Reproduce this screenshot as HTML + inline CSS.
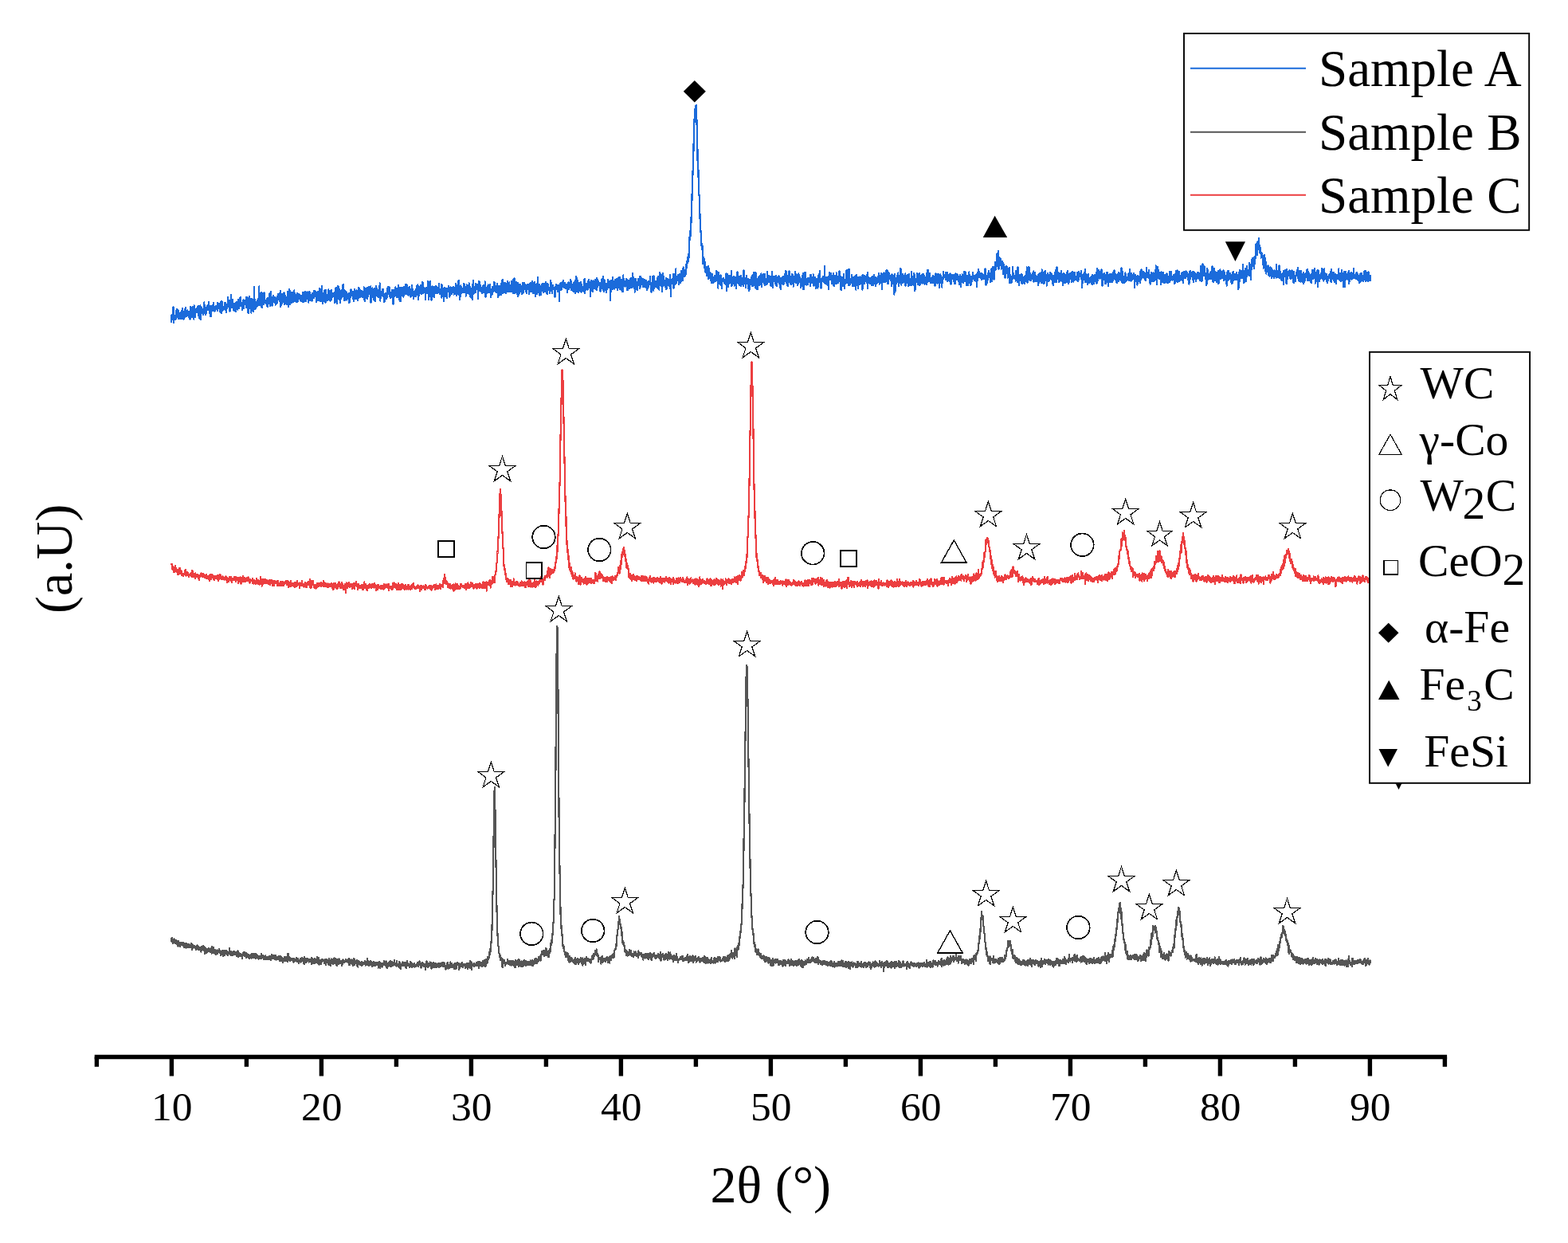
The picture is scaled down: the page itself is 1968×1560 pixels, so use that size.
<!DOCTYPE html>
<html lang="en"><head><meta charset="utf-8"><title>XRD patterns</title>
<style>
html,body{margin:0;padding:0;background:#fff;}
body{width:1968px;height:1560px;overflow:hidden;}
svg{display:block;}
text{font-family:"Liberation Serif",serif;fill:#000;}
</style></head><body>
<svg width="1968" height="1560" viewBox="0 0 1968 1560">
<rect width="1968" height="1560" fill="#fff"/>
<polyline id="curve-b" fill="none" stroke="#555555" stroke-width="2.2" stroke-linejoin="round" stroke-linecap="butt" shape-rendering="crispEdges" points="214.6,1180.1 214.9,1178.3 215.2,1180.8 215.6,1179.9 215.9,1176.8 216.2,1182.2 216.5,1180.0 216.8,1181.7 217.2,1184.4 217.5,1181.3 217.8,1178.8 218.1,1179.8 218.4,1183.4 218.8,1178.5 219.1,1182.2 219.4,1182.6 219.7,1179.7 220.0,1182.5 220.4,1184.0 220.7,1180.9 221.0,1181.7 221.3,1183.9 221.6,1180.4 222.0,1181.4 222.3,1185.2 222.6,1183.5 222.9,1180.6 223.2,1183.6 223.6,1187.6 223.9,1180.7 224.2,1185.5 224.5,1185.4 224.8,1183.6 225.2,1185.3 225.5,1182.8 225.8,1187.3 226.1,1187.7 226.4,1182.6 226.8,1184.0 227.1,1184.8 227.4,1183.4 227.7,1185.5 228.0,1182.7 228.4,1186.1 228.7,1184.4 229.0,1185.0 229.3,1186.1 229.6,1187.1 230.0,1183.4 230.3,1187.0 230.6,1187.3 230.9,1185.4 231.2,1188.8 231.6,1184.2 231.9,1184.7 232.2,1186.7 232.5,1184.6 232.8,1188.9 233.2,1186.6 233.5,1189.7 233.8,1184.2 234.1,1184.5 234.4,1189.2 234.8,1184.4 235.1,1188.8 235.4,1185.1 235.7,1187.3 236.0,1189.2 236.4,1186.8 236.7,1184.7 237.0,1185.6 237.3,1189.4 237.6,1187.6 238.0,1188.7 238.3,1187.5 238.6,1188.0 238.9,1187.1 239.2,1185.5 239.6,1188.7 239.9,1188.1 240.2,1183.8 240.5,1187.9 240.8,1190.9 241.2,1191.9 241.5,1185.3 241.8,1188.4 242.1,1189.4 242.4,1189.8 242.8,1187.0 243.1,1189.5 243.4,1187.7 243.7,1188.5 244.0,1187.0 244.4,1189.4 244.7,1188.0 245.0,1189.5 245.3,1188.8 245.6,1190.9 246.0,1192.5 246.3,1189.0 246.6,1187.7 246.9,1188.8 247.2,1188.3 247.6,1186.1 247.9,1189.6 248.2,1188.6 248.5,1191.5 248.8,1189.5 249.2,1191.7 249.5,1192.2 249.8,1188.4 250.1,1189.4 250.4,1189.0 250.8,1189.2 251.1,1191.9 251.4,1189.3 251.7,1189.5 252.0,1188.8 252.4,1194.8 252.7,1189.9 253.0,1190.4 253.3,1188.1 253.6,1191.3 254.0,1189.3 254.3,1189.6 254.6,1186.9 254.9,1187.7 255.2,1191.5 255.6,1192.7 255.9,1187.9 256.2,1191.7 256.5,1191.8 256.8,1197.3 257.2,1189.5 257.5,1190.2 257.8,1189.5 258.1,1193.4 258.4,1193.9 258.8,1191.3 259.1,1195.0 259.4,1196.2 259.7,1191.1 260.0,1193.2 260.4,1191.8 260.7,1190.9 261.0,1190.8 261.3,1191.8 261.6,1189.8 262.0,1192.3 262.3,1194.1 262.6,1190.6 262.9,1191.6 263.2,1190.8 263.6,1193.9 263.9,1192.6 264.2,1194.7 264.5,1192.2 264.8,1189.9 265.2,1194.1 265.5,1192.4 265.8,1196.5 266.1,1194.6 266.4,1187.8 266.8,1189.2 267.1,1193.3 267.4,1191.8 267.7,1188.8 268.0,1192.3 268.4,1196.0 268.7,1194.8 269.0,1191.7 269.3,1194.1 269.6,1195.7 270.0,1193.3 270.3,1197.3 270.6,1192.3 270.9,1198.0 271.2,1196.9 271.6,1194.9 271.9,1194.4 272.2,1194.0 272.5,1192.1 272.8,1196.0 273.2,1196.7 273.5,1195.7 273.8,1194.7 274.1,1194.4 274.4,1192.4 274.8,1193.0 275.1,1191.4 275.4,1195.4 275.7,1192.6 276.0,1196.2 276.4,1193.2 276.7,1197.4 277.0,1199.4 277.3,1197.7 277.6,1197.0 278.0,1194.1 278.3,1194.1 278.6,1193.3 278.9,1195.5 279.2,1198.3 279.6,1192.7 279.9,1199.9 280.2,1193.9 280.5,1192.7 280.8,1195.8 281.2,1198.4 281.5,1194.5 281.8,1193.2 282.1,1198.8 282.4,1193.1 282.8,1197.4 283.1,1195.7 283.4,1194.7 283.7,1195.6 284.0,1193.3 284.4,1193.3 284.7,1196.2 285.0,1193.5 285.3,1194.1 285.6,1198.7 286.0,1199.4 286.3,1198.1 286.6,1197.7 286.9,1195.4 287.2,1196.1 287.6,1194.5 287.9,1190.3 288.2,1196.5 288.5,1196.6 288.8,1198.2 289.2,1193.8 289.5,1198.6 289.8,1195.2 290.1,1193.8 290.4,1195.8 290.8,1199.2 291.1,1196.4 291.4,1197.4 291.7,1194.7 292.0,1197.5 292.4,1198.6 292.7,1194.9 293.0,1197.5 293.3,1194.0 293.6,1197.5 294.0,1193.8 294.3,1197.7 294.6,1196.9 294.9,1194.7 295.2,1197.7 295.6,1195.0 295.9,1197.3 296.2,1195.3 296.5,1198.3 296.8,1196.1 297.2,1200.2 297.5,1198.2 297.8,1198.4 298.1,1194.7 298.4,1193.2 298.8,1195.9 299.1,1201.2 299.4,1195.7 299.7,1200.1 300.0,1200.2 300.4,1196.5 300.7,1197.3 301.0,1200.4 301.3,1197.3 301.6,1197.0 302.0,1196.7 302.3,1198.1 302.6,1197.8 302.9,1200.5 303.2,1198.6 303.6,1200.5 303.9,1198.0 304.2,1203.3 304.5,1198.0 304.8,1198.0 305.2,1196.7 305.5,1195.0 305.8,1196.7 306.1,1198.9 306.4,1196.5 306.8,1200.2 307.1,1195.3 307.4,1195.2 307.7,1199.3 308.0,1199.5 308.4,1196.5 308.7,1201.0 309.0,1201.7 309.3,1199.6 309.6,1196.3 310.0,1201.5 310.3,1198.4 310.6,1198.7 310.9,1200.1 311.2,1197.8 311.6,1202.3 311.9,1198.0 312.2,1201.4 312.5,1201.7 312.8,1203.0 313.2,1200.4 313.5,1201.2 313.8,1198.7 314.1,1199.1 314.4,1198.4 314.8,1201.2 315.1,1198.4 315.4,1202.8 315.7,1199.6 316.0,1197.4 316.4,1198.5 316.7,1202.3 317.0,1199.0 317.3,1201.2 317.6,1196.9 318.0,1201.0 318.3,1201.7 318.6,1201.2 318.9,1201.8 319.2,1198.3 319.6,1197.0 319.9,1197.7 320.2,1202.1 320.5,1201.2 320.8,1203.0 321.2,1199.4 321.5,1202.2 321.8,1197.5 322.1,1201.5 322.4,1198.6 322.8,1199.8 323.1,1202.1 323.4,1202.5 323.7,1200.5 324.0,1200.1 324.4,1203.6 324.7,1203.0 325.0,1199.6 325.3,1201.6 325.6,1200.6 326.0,1203.0 326.3,1202.0 326.6,1202.0 326.9,1201.3 327.2,1200.1 327.6,1203.4 327.9,1202.1 328.2,1196.6 328.5,1200.5 328.8,1201.9 329.2,1199.9 329.5,1199.5 329.8,1199.6 330.1,1202.1 330.4,1199.5 330.8,1202.2 331.1,1204.2 331.4,1203.4 331.7,1203.5 332.0,1201.1 332.4,1204.0 332.7,1201.6 333.0,1204.4 333.3,1199.4 333.6,1204.2 334.0,1200.5 334.3,1201.8 334.6,1203.9 334.9,1201.8 335.2,1200.8 335.6,1201.5 335.9,1204.0 336.2,1204.1 336.5,1203.2 336.8,1200.6 337.2,1201.1 337.5,1203.3 337.8,1203.5 338.1,1200.5 338.4,1200.0 338.8,1203.4 339.1,1204.2 339.4,1202.2 339.7,1199.7 340.0,1205.3 340.4,1202.2 340.7,1203.1 341.0,1197.8 341.3,1200.7 341.6,1201.8 342.0,1202.8 342.3,1200.4 342.6,1199.1 342.9,1198.9 343.2,1201.5 343.6,1202.8 343.9,1202.8 344.2,1198.8 344.5,1200.9 344.8,1202.1 345.2,1204.3 345.5,1203.5 345.8,1202.9 346.1,1199.0 346.4,1204.6 346.8,1202.2 347.1,1202.9 347.4,1201.1 347.7,1202.1 348.0,1201.8 348.4,1201.7 348.7,1200.8 349.0,1203.9 349.3,1204.4 349.6,1201.5 350.0,1201.0 350.3,1200.2 350.6,1201.8 350.9,1205.6 351.2,1202.5 351.6,1206.4 351.9,1200.3 352.2,1200.6 352.5,1201.3 352.8,1201.1 353.2,1203.5 353.5,1206.4 353.8,1201.5 354.1,1203.7 354.4,1205.7 354.8,1207.8 355.1,1203.5 355.4,1205.0 355.7,1205.8 356.0,1203.3 356.4,1204.3 356.7,1202.1 357.0,1201.4 357.3,1202.0 357.6,1205.6 358.0,1206.0 358.3,1203.8 358.6,1200.9 358.9,1205.8 359.2,1203.4 359.6,1206.4 359.9,1203.7 360.2,1201.2 360.5,1202.9 360.8,1202.2 361.2,1206.7 361.5,1196.8 361.8,1202.4 362.1,1203.0 362.4,1199.6 362.8,1204.5 363.1,1204.9 363.4,1205.4 363.7,1206.3 364.0,1203.6 364.4,1205.7 364.7,1202.5 365.0,1203.9 365.3,1204.3 365.6,1204.1 366.0,1205.0 366.3,1202.6 366.6,1203.7 366.9,1202.8 367.2,1204.2 367.6,1204.7 367.9,1202.6 368.2,1207.0 368.5,1208.0 368.8,1205.3 369.2,1204.4 369.5,1203.0 369.8,1203.9 370.1,1203.8 370.4,1205.7 370.8,1204.3 371.1,1205.8 371.4,1205.5 371.7,1203.4 372.0,1201.8 372.4,1202.1 372.7,1202.3 373.0,1204.4 373.3,1206.9 373.6,1202.7 374.0,1206.6 374.3,1204.1 374.6,1207.2 374.9,1209.2 375.2,1206.8 375.6,1205.4 375.9,1205.7 376.2,1207.4 376.5,1204.2 376.8,1203.3 377.2,1205.2 377.5,1208.1 377.8,1203.5 378.1,1207.2 378.4,1206.7 378.8,1204.5 379.1,1203.4 379.4,1201.7 379.7,1202.7 380.0,1205.4 380.4,1206.6 380.7,1203.8 381.0,1204.0 381.3,1203.6 381.6,1210.1 382.0,1201.1 382.3,1202.2 382.6,1207.3 382.9,1203.0 383.2,1207.3 383.6,1203.6 383.9,1207.3 384.2,1208.1 384.5,1204.4 384.8,1205.3 385.2,1203.4 385.5,1207.1 385.8,1204.8 386.1,1202.6 386.4,1206.3 386.8,1206.2 387.1,1205.4 387.4,1204.6 387.7,1207.5 388.0,1204.2 388.4,1203.8 388.7,1205.1 389.0,1206.7 389.3,1204.8 389.6,1204.4 390.0,1203.6 390.3,1204.1 390.6,1204.4 390.9,1209.8 391.2,1202.1 391.6,1204.8 391.9,1205.9 392.2,1204.0 392.5,1203.4 392.8,1207.0 393.2,1208.7 393.5,1208.1 393.8,1206.0 394.1,1205.1 394.4,1207.3 394.8,1202.7 395.1,1204.3 395.4,1209.0 395.7,1207.0 396.0,1206.4 396.4,1205.8 396.7,1205.4 397.0,1204.5 397.3,1207.4 397.6,1207.3 398.0,1207.3 398.3,1201.3 398.6,1208.9 398.9,1208.1 399.2,1209.5 399.6,1205.2 399.9,1202.0 400.2,1203.8 400.5,1204.6 400.8,1210.5 401.2,1204.9 401.5,1205.5 401.8,1208.5 402.1,1208.4 402.4,1208.5 402.8,1205.1 403.1,1210.4 403.4,1207.4 403.7,1204.0 404.0,1207.5 404.4,1203.8 404.7,1204.1 405.0,1205.3 405.3,1204.3 405.6,1205.7 406.0,1205.4 406.3,1205.8 406.6,1205.0 406.9,1209.1 407.2,1204.8 407.6,1205.7 407.9,1204.1 408.2,1205.6 408.5,1204.2 408.8,1211.2 409.2,1206.3 409.5,1208.6 409.8,1205.8 410.1,1204.3 410.4,1205.9 410.8,1205.6 411.1,1204.5 411.4,1207.2 411.7,1210.3 412.0,1207.4 412.4,1209.2 412.7,1209.7 413.0,1203.1 413.3,1211.0 413.6,1204.4 414.0,1210.9 414.3,1207.6 414.6,1208.4 414.9,1211.7 415.2,1209.3 415.6,1203.9 415.9,1203.5 416.2,1204.8 416.5,1209.3 416.8,1207.9 417.2,1209.1 417.5,1208.1 417.8,1209.7 418.1,1205.2 418.4,1203.5 418.8,1205.9 419.1,1209.0 419.4,1204.2 419.7,1202.5 420.0,1206.2 420.4,1208.7 420.7,1208.2 421.0,1206.7 421.3,1206.3 421.6,1203.1 422.0,1207.3 422.3,1211.2 422.6,1206.4 422.9,1212.3 423.2,1204.8 423.6,1206.5 423.9,1206.4 424.2,1207.3 424.5,1203.7 424.8,1209.8 425.2,1206.7 425.5,1202.9 425.8,1208.6 426.1,1207.6 426.4,1204.7 426.8,1207.1 427.1,1209.0 427.4,1208.8 427.7,1208.1 428.0,1206.1 428.4,1208.1 428.7,1210.2 429.0,1212.0 429.3,1208.9 429.6,1209.3 430.0,1209.7 430.3,1207.2 430.6,1204.2 430.9,1206.6 431.2,1207.3 431.6,1208.1 431.9,1207.6 432.2,1206.0 432.5,1206.3 432.8,1206.9 433.2,1205.5 433.5,1205.6 433.8,1203.7 434.1,1206.4 434.4,1207.4 434.8,1205.8 435.1,1206.5 435.4,1207.2 435.7,1204.8 436.0,1205.7 436.4,1205.2 436.7,1208.0 437.0,1204.8 437.3,1207.1 437.6,1203.0 438.0,1210.7 438.3,1208.3 438.6,1205.6 438.9,1207.1 439.2,1211.2 439.6,1207.6 439.9,1204.4 440.2,1207.4 440.5,1206.5 440.8,1208.6 441.2,1208.0 441.5,1204.4 441.8,1208.3 442.1,1209.8 442.4,1210.7 442.8,1208.6 443.1,1211.8 443.4,1211.0 443.7,1209.6 444.0,1211.3 444.4,1203.0 444.7,1210.7 445.0,1211.1 445.3,1207.8 445.6,1209.9 446.0,1206.9 446.3,1207.9 446.6,1207.9 446.9,1206.1 447.2,1207.8 447.6,1204.7 447.9,1208.0 448.2,1211.8 448.5,1212.2 448.8,1208.3 449.2,1213.6 449.5,1209.2 449.8,1205.8 450.1,1207.1 450.4,1208.3 450.8,1208.4 451.1,1209.8 451.4,1207.0 451.7,1207.6 452.0,1210.6 452.4,1208.8 452.7,1209.4 453.0,1208.5 453.3,1210.0 453.6,1210.2 454.0,1207.1 454.3,1212.1 454.6,1207.4 454.9,1209.4 455.2,1208.1 455.6,1210.8 455.9,1209.3 456.2,1209.9 456.5,1209.1 456.8,1208.6 457.2,1209.2 457.5,1208.8 457.8,1207.1 458.1,1205.7 458.4,1209.9 458.8,1211.5 459.1,1206.9 459.4,1209.9 459.7,1207.7 460.0,1209.3 460.4,1210.7 460.7,1209.7 461.0,1208.5 461.3,1203.0 461.6,1208.5 462.0,1208.9 462.3,1211.5 462.6,1207.6 462.9,1208.8 463.2,1209.4 463.6,1211.6 463.9,1206.6 464.2,1210.7 464.5,1208.9 464.8,1207.7 465.2,1206.3 465.5,1207.1 465.8,1210.8 466.1,1208.1 466.4,1207.2 466.8,1208.3 467.1,1213.2 467.4,1211.2 467.7,1210.9 468.0,1211.2 468.4,1210.8 468.7,1208.4 469.0,1207.0 469.3,1211.8 469.6,1209.0 470.0,1209.5 470.3,1208.4 470.6,1210.3 470.9,1212.1 471.2,1208.5 471.6,1209.7 471.9,1209.5 472.2,1210.7 472.5,1209.4 472.8,1209.5 473.2,1208.2 473.5,1209.5 473.8,1208.0 474.1,1211.0 474.4,1209.2 474.8,1214.5 475.1,1208.1 475.4,1207.5 475.7,1211.4 476.0,1210.9 476.4,1206.8 476.7,1214.9 477.0,1209.3 477.3,1211.9 477.6,1208.4 478.0,1211.0 478.3,1211.9 478.6,1208.7 478.9,1210.8 479.2,1211.5 479.6,1213.9 479.9,1211.8 480.2,1212.6 480.5,1211.0 480.8,1211.2 481.2,1211.0 481.5,1209.4 481.8,1206.1 482.1,1206.4 482.4,1210.6 482.8,1210.9 483.1,1210.0 483.4,1208.7 483.7,1208.9 484.0,1207.3 484.4,1212.3 484.7,1206.5 485.0,1213.2 485.3,1209.0 485.6,1215.1 486.0,1210.9 486.3,1209.3 486.6,1210.3 486.9,1209.0 487.2,1213.1 487.6,1209.9 487.9,1210.5 488.2,1208.2 488.5,1211.2 488.8,1207.0 489.2,1208.6 489.5,1212.6 489.8,1205.8 490.1,1210.6 490.4,1212.4 490.8,1210.3 491.1,1213.1 491.4,1212.6 491.7,1211.1 492.0,1206.9 492.4,1209.1 492.7,1209.4 493.0,1212.2 493.3,1209.9 493.6,1209.5 494.0,1207.5 494.3,1209.7 494.6,1210.6 494.9,1205.1 495.2,1210.0 495.6,1210.9 495.9,1209.2 496.2,1209.8 496.5,1209.0 496.8,1211.9 497.2,1209.0 497.5,1212.6 497.8,1210.9 498.1,1206.3 498.4,1209.6 498.8,1210.8 499.1,1211.9 499.4,1210.4 499.7,1210.0 500.0,1211.9 500.4,1213.5 500.7,1206.6 501.0,1209.0 501.3,1213.7 501.6,1210.9 502.0,1208.3 502.3,1213.8 502.6,1216.3 502.9,1209.9 503.2,1211.9 503.6,1210.4 503.9,1211.1 504.2,1212.4 504.5,1209.9 504.8,1210.1 505.2,1209.8 505.5,1206.9 505.8,1211.4 506.1,1212.1 506.4,1210.8 506.8,1210.5 507.1,1212.1 507.4,1209.0 507.7,1208.3 508.0,1211.4 508.4,1210.8 508.7,1214.0 509.0,1207.6 509.3,1210.4 509.6,1208.0 510.0,1214.8 510.3,1209.7 510.6,1212.1 510.9,1206.0 511.2,1208.6 511.6,1212.1 511.9,1209.2 512.2,1209.3 512.5,1211.9 512.8,1210.8 513.2,1210.8 513.5,1211.1 513.8,1209.6 514.1,1213.7 514.4,1212.7 514.8,1210.3 515.1,1209.4 515.4,1206.8 515.7,1208.3 516.0,1213.3 516.4,1208.2 516.7,1209.8 517.0,1214.1 517.3,1212.8 517.6,1211.4 518.0,1211.5 518.3,1210.0 518.6,1211.0 518.9,1210.8 519.2,1213.4 519.6,1212.3 519.9,1209.2 520.2,1213.6 520.5,1212.5 520.8,1213.0 521.2,1213.4 521.5,1212.4 521.8,1211.2 522.1,1213.5 522.4,1213.2 522.8,1210.4 523.1,1210.6 523.4,1211.4 523.7,1212.0 524.0,1210.8 524.4,1208.1 524.7,1213.3 525.0,1209.6 525.3,1208.6 525.6,1209.2 526.0,1211.0 526.3,1210.4 526.6,1206.2 526.9,1207.7 527.2,1207.6 527.6,1209.3 527.9,1211.1 528.2,1209.5 528.5,1214.8 528.8,1212.6 529.2,1213.8 529.5,1212.4 529.8,1208.3 530.1,1211.9 530.4,1207.9 530.8,1208.9 531.1,1211.4 531.4,1211.1 531.7,1212.3 532.0,1210.5 532.4,1213.2 532.7,1212.7 533.0,1211.8 533.3,1209.6 533.6,1209.9 534.0,1213.2 534.3,1216.8 534.6,1210.2 534.9,1211.5 535.2,1209.4 535.6,1206.2 535.9,1213.1 536.2,1211.5 536.5,1212.6 536.8,1209.9 537.2,1209.5 537.5,1214.2 537.8,1209.3 538.1,1213.3 538.4,1213.1 538.8,1211.1 539.1,1210.0 539.4,1211.6 539.7,1207.5 540.0,1210.6 540.4,1210.4 540.7,1208.2 541.0,1210.5 541.3,1212.9 541.6,1215.9 542.0,1208.9 542.3,1212.0 542.6,1212.0 542.9,1210.3 543.2,1210.0 543.6,1212.2 543.9,1212.7 544.2,1208.3 544.5,1214.3 544.8,1210.9 545.2,1211.4 545.5,1210.0 545.8,1213.7 546.1,1208.5 546.4,1210.2 546.8,1211.5 547.1,1209.3 547.4,1210.7 547.7,1212.2 548.0,1213.6 548.4,1210.8 548.7,1210.2 549.0,1212.7 549.3,1211.4 549.6,1209.1 550.0,1213.0 550.3,1210.6 550.6,1209.4 550.9,1214.2 551.2,1212.4 551.6,1209.6 551.9,1212.6 552.2,1209.8 552.5,1210.1 552.8,1209.2 553.2,1212.9 553.5,1210.9 553.8,1212.4 554.1,1208.5 554.4,1210.3 554.8,1207.7 555.1,1209.8 555.4,1210.3 555.7,1210.7 556.0,1208.0 556.4,1213.3 556.7,1207.8 557.0,1213.5 557.3,1210.8 557.6,1213.3 558.0,1209.0 558.3,1211.4 558.6,1212.8 558.9,1215.6 559.2,1212.0 559.6,1216.6 559.9,1212.3 560.2,1214.2 560.5,1211.3 560.8,1211.6 561.2,1213.3 561.5,1208.9 561.8,1208.1 562.1,1211.9 562.4,1215.9 562.8,1214.5 563.1,1212.0 563.4,1212.8 563.7,1212.0 564.0,1212.4 564.4,1214.5 564.7,1208.3 565.0,1208.1 565.3,1207.6 565.6,1209.8 566.0,1213.7 566.3,1211.5 566.6,1208.9 566.9,1210.3 567.2,1210.6 567.6,1213.7 567.9,1212.6 568.2,1212.4 568.5,1214.2 568.8,1212.8 569.2,1213.9 569.5,1210.0 569.8,1209.7 570.1,1210.9 570.4,1215.9 570.8,1209.3 571.1,1212.0 571.4,1212.7 571.7,1208.9 572.0,1209.1 572.4,1215.9 572.7,1211.3 573.0,1210.9 573.3,1212.4 573.6,1211.8 574.0,1208.6 574.3,1207.9 574.6,1211.1 574.9,1209.9 575.2,1211.4 575.6,1209.0 575.9,1216.8 576.2,1212.5 576.5,1215.7 576.8,1210.5 577.2,1211.3 577.5,1210.6 577.8,1211.8 578.1,1212.6 578.4,1210.6 578.8,1209.4 579.1,1210.2 579.4,1211.2 579.7,1213.3 580.0,1208.3 580.4,1209.2 580.7,1212.3 581.0,1214.3 581.3,1210.1 581.6,1212.0 582.0,1211.0 582.3,1210.8 582.6,1211.6 582.9,1210.2 583.2,1210.8 583.6,1210.6 583.9,1214.6 584.2,1211.2 584.5,1214.7 584.8,1211.0 585.2,1211.6 585.5,1209.5 585.8,1211.6 586.1,1214.1 586.4,1214.6 586.8,1208.9 587.1,1216.4 587.4,1211.8 587.7,1212.8 588.0,1213.2 588.4,1211.3 588.7,1209.3 589.0,1211.2 589.3,1210.4 589.6,1215.2 590.0,1211.2 590.3,1206.3 590.6,1213.9 590.9,1212.3 591.2,1211.0 591.6,1207.1 591.9,1216.9 592.2,1210.3 592.5,1210.3 592.8,1209.8 593.2,1211.3 593.5,1210.8 593.8,1211.6 594.1,1212.0 594.4,1211.0 594.8,1213.3 595.1,1208.7 595.4,1212.9 595.7,1211.7 596.0,1210.9 596.4,1212.4 596.7,1211.4 597.0,1211.3 597.3,1209.8 597.6,1208.9 598.0,1207.5 598.3,1208.0 598.6,1209.2 598.9,1212.3 599.2,1210.0 599.6,1210.8 599.9,1208.1 600.2,1207.1 600.5,1210.5 600.8,1215.4 601.2,1207.8 601.5,1213.1 601.8,1207.5 602.1,1207.4 602.4,1207.9 602.8,1208.0 603.1,1211.6 603.4,1210.1 603.7,1209.8 604.0,1208.3 604.4,1211.5 604.7,1213.4 605.0,1209.9 605.3,1208.4 605.6,1206.7 606.0,1208.3 606.3,1206.1 606.6,1211.8 606.9,1206.9 607.2,1212.4 607.6,1205.6 607.9,1210.2 608.2,1209.5 608.5,1209.7 608.8,1208.5 609.2,1205.1 609.5,1213.2 609.8,1203.8 610.1,1209.4 610.4,1205.9 610.8,1203.6 611.1,1208.7 611.4,1208.9 611.7,1207.5 612.0,1201.3 612.4,1201.3 612.7,1204.8 613.0,1203.8 613.3,1204.4 613.6,1200.7 614.0,1195.8 614.3,1194.4 614.6,1198.6 614.9,1193.8 615.2,1191.2 615.6,1194.5 615.9,1194.2 616.2,1185.6 616.5,1182.7 616.8,1178.6 617.2,1175.6 617.5,1164.2 617.8,1154.3 618.1,1142.6 618.4,1123.3 618.8,1114.5 619.1,1094.8 619.4,1065.8 619.7,1042.1 620.0,1019.8 620.4,1001.0 620.7,988.0 621.0,995.9 621.3,1008.0 621.6,1028.7 622.0,1043.4 622.3,1072.3 622.6,1089.1 622.9,1120.5 623.2,1126.2 623.6,1145.1 623.9,1162.7 624.2,1161.6 624.5,1174.7 624.8,1175.1 625.2,1187.2 625.5,1187.0 625.8,1189.2 626.1,1190.6 626.4,1196.4 626.8,1196.9 627.1,1199.7 627.4,1201.2 627.7,1198.6 628.0,1201.6 628.4,1205.0 628.7,1203.7 629.0,1204.1 629.3,1203.9 629.6,1202.5 630.0,1204.7 630.3,1204.9 630.6,1214.1 630.9,1204.8 631.2,1203.7 631.6,1207.2 631.9,1206.0 632.2,1205.3 632.5,1208.9 632.8,1206.8 633.2,1205.5 633.5,1208.9 633.8,1212.2 634.1,1210.9 634.4,1208.6 634.8,1208.8 635.1,1208.1 635.4,1209.9 635.7,1208.0 636.0,1209.3 636.4,1208.2 636.7,1209.1 637.0,1204.3 637.3,1208.8 637.6,1207.6 638.0,1208.2 638.3,1209.8 638.6,1206.2 638.9,1207.1 639.2,1209.5 639.6,1209.3 639.9,1211.2 640.2,1210.0 640.5,1205.7 640.8,1210.2 641.2,1209.0 641.5,1209.6 641.8,1211.6 642.1,1209.6 642.4,1208.7 642.8,1205.9 643.1,1208.5 643.4,1211.2 643.7,1210.6 644.0,1206.8 644.4,1206.5 644.7,1208.7 645.0,1210.5 645.3,1207.9 645.6,1212.5 646.0,1214.2 646.3,1207.1 646.6,1214.0 646.9,1213.8 647.2,1205.1 647.6,1206.0 647.9,1209.2 648.2,1209.5 648.5,1207.7 648.8,1209.5 649.2,1211.2 649.5,1207.6 649.8,1204.6 650.1,1208.8 650.4,1211.2 650.8,1212.7 651.1,1212.9 651.4,1203.8 651.7,1206.9 652.0,1209.2 652.4,1207.6 652.7,1211.2 653.0,1210.4 653.3,1211.4 653.6,1212.6 654.0,1208.3 654.3,1213.3 654.6,1206.4 654.9,1207.1 655.2,1207.0 655.6,1207.5 655.9,1210.9 656.2,1213.1 656.5,1206.2 656.8,1211.0 657.2,1212.0 657.5,1210.0 657.8,1205.0 658.1,1210.4 658.4,1211.3 658.8,1205.4 659.1,1208.2 659.4,1211.7 659.7,1210.1 660.0,1211.8 660.4,1212.1 660.7,1206.5 661.0,1206.6 661.3,1211.2 661.6,1208.5 662.0,1211.1 662.3,1210.4 662.6,1207.3 662.9,1211.1 663.2,1210.0 663.6,1207.5 663.9,1207.7 664.2,1207.5 664.5,1209.4 664.8,1210.8 665.2,1209.8 665.5,1208.2 665.8,1205.4 666.1,1208.7 666.4,1208.1 666.8,1206.8 667.1,1206.3 667.4,1211.7 667.7,1211.5 668.0,1204.9 668.4,1210.2 668.7,1209.1 669.0,1211.9 669.3,1205.9 669.6,1209.9 670.0,1206.3 670.3,1206.6 670.6,1207.9 670.9,1209.5 671.2,1207.5 671.6,1203.6 671.9,1208.9 672.2,1206.9 672.5,1206.3 672.8,1202.7 673.2,1205.6 673.5,1209.1 673.8,1209.2 674.1,1207.2 674.4,1203.9 674.8,1207.6 675.1,1203.5 675.4,1207.2 675.7,1203.8 676.0,1201.1 676.4,1205.8 676.7,1204.6 677.0,1204.3 677.3,1201.2 677.6,1200.4 678.0,1205.3 678.3,1201.9 678.6,1205.6 678.9,1205.1 679.2,1197.6 679.6,1198.8 679.9,1193.7 680.2,1198.2 680.5,1196.0 680.8,1197.7 681.2,1195.6 681.5,1194.5 681.8,1193.3 682.1,1192.9 682.4,1197.9 682.8,1196.2 683.1,1200.1 683.4,1196.5 683.7,1193.4 684.0,1193.3 684.4,1199.1 684.7,1190.0 685.0,1195.5 685.3,1195.0 685.6,1190.3 686.0,1198.8 686.3,1196.1 686.6,1195.5 686.9,1193.9 687.2,1196.0 687.6,1195.6 687.9,1198.5 688.2,1194.7 688.5,1201.4 688.8,1193.3 689.2,1194.8 689.5,1192.1 689.8,1195.5 690.1,1191.3 690.4,1195.5 690.8,1193.3 691.1,1190.5 691.4,1183.4 691.7,1186.5 692.0,1184.5 692.4,1184.6 692.7,1176.4 693.0,1179.8 693.3,1176.8 693.6,1170.8 694.0,1167.4 694.3,1159.4 694.6,1157.4 694.9,1141.7 695.2,1132.8 695.6,1128.2 695.9,1104.9 696.2,1085.1 696.5,1057.0 696.8,1030.7 697.2,999.3 697.5,954.7 697.8,913.4 698.1,874.1 698.4,842.4 698.8,801.6 699.1,789.4 699.4,786.0 699.7,797.7 700.0,820.3 700.4,865.0 700.7,909.1 701.0,936.7 701.3,986.5 701.6,1026.0 702.0,1055.1 702.3,1077.6 702.6,1097.1 702.9,1120.1 703.2,1125.3 703.6,1148.4 703.9,1148.9 704.2,1153.4 704.5,1164.0 704.8,1169.3 705.2,1172.7 705.5,1172.2 705.8,1177.7 706.1,1184.6 706.4,1185.6 706.8,1189.7 707.1,1188.6 707.4,1186.6 707.7,1190.1 708.0,1192.4 708.4,1193.9 708.7,1195.1 709.0,1195.8 709.3,1197.8 709.6,1198.6 710.0,1195.3 710.3,1201.0 710.6,1200.3 710.9,1198.2 711.2,1200.1 711.6,1199.5 711.9,1200.9 712.2,1196.1 712.5,1196.4 712.8,1203.5 713.2,1200.8 713.5,1205.4 713.8,1206.0 714.1,1203.4 714.4,1207.5 714.8,1199.7 715.1,1203.9 715.4,1200.5 715.7,1204.5 716.0,1206.7 716.4,1204.6 716.7,1205.1 717.0,1202.1 717.3,1205.2 717.6,1202.9 718.0,1205.1 718.3,1203.2 718.6,1207.2 718.9,1207.3 719.2,1206.2 719.6,1207.3 719.9,1208.4 720.2,1205.6 720.5,1204.0 720.8,1204.3 721.2,1209.6 721.5,1206.6 721.8,1202.1 722.1,1202.3 722.4,1208.7 722.8,1205.4 723.1,1210.0 723.4,1209.6 723.7,1205.5 724.0,1205.5 724.4,1204.0 724.7,1207.9 725.0,1203.0 725.3,1207.2 725.6,1205.3 726.0,1209.6 726.3,1205.4 726.6,1204.5 726.9,1207.5 727.2,1203.9 727.6,1207.7 727.9,1205.5 728.2,1204.0 728.5,1205.5 728.8,1205.6 729.2,1201.8 729.5,1207.5 729.8,1206.1 730.1,1204.9 730.4,1209.1 730.8,1206.8 731.1,1211.6 731.4,1202.3 731.7,1209.3 732.0,1206.7 732.4,1210.1 732.7,1206.6 733.0,1205.3 733.3,1205.0 733.6,1207.3 734.0,1202.9 734.3,1205.5 734.6,1204.1 734.9,1211.5 735.2,1207.4 735.6,1205.7 735.9,1200.6 736.2,1205.9 736.5,1204.7 736.8,1205.9 737.2,1206.0 737.5,1204.3 737.8,1203.0 738.1,1205.2 738.4,1205.5 738.8,1205.6 739.1,1205.6 739.4,1206.9 739.7,1203.7 740.0,1207.5 740.4,1204.5 740.7,1205.7 741.0,1204.2 741.3,1205.8 741.6,1208.6 742.0,1206.0 742.3,1205.1 742.6,1204.8 742.9,1203.0 743.2,1201.2 743.6,1198.8 743.9,1203.5 744.2,1203.9 744.5,1203.8 744.8,1196.9 745.2,1198.7 745.5,1200.9 745.8,1197.9 746.1,1199.9 746.4,1199.5 746.8,1193.0 747.1,1197.7 747.4,1194.7 747.7,1193.4 748.0,1195.6 748.4,1193.4 748.7,1191.5 749.0,1198.7 749.3,1198.8 749.6,1199.7 750.0,1199.6 750.3,1196.6 750.6,1200.7 750.9,1207.2 751.2,1202.9 751.6,1202.5 751.9,1203.4 752.2,1202.7 752.5,1203.5 752.8,1203.7 753.2,1202.3 753.5,1203.5 753.8,1203.9 754.1,1204.2 754.4,1209.7 754.8,1202.8 755.1,1201.4 755.4,1203.9 755.7,1200.3 756.0,1208.3 756.4,1202.8 756.7,1203.8 757.0,1204.6 757.3,1207.1 757.6,1202.9 758.0,1205.0 758.3,1203.7 758.6,1204.1 758.9,1205.5 759.2,1202.6 759.6,1207.3 759.9,1203.7 760.2,1206.0 760.5,1202.6 760.8,1203.8 761.2,1202.0 761.5,1205.4 761.8,1203.5 762.1,1202.0 762.4,1201.0 762.8,1208.3 763.1,1204.3 763.4,1204.8 763.7,1205.9 764.0,1204.2 764.4,1205.9 764.7,1202.6 765.0,1203.4 765.3,1208.6 765.6,1199.6 766.0,1202.6 766.3,1200.5 766.6,1205.4 766.9,1200.8 767.2,1201.9 767.6,1201.2 767.9,1198.6 768.2,1199.5 768.5,1198.3 768.8,1201.8 769.2,1197.5 769.5,1201.4 769.8,1198.9 770.1,1199.5 770.4,1201.9 770.8,1198.4 771.1,1196.3 771.4,1192.5 771.7,1192.6 772.0,1192.0 772.4,1192.3 772.7,1188.7 773.0,1186.3 773.3,1190.1 773.6,1184.1 774.0,1181.9 774.3,1175.8 774.6,1173.6 774.9,1170.8 775.2,1166.4 775.6,1166.3 775.9,1164.3 776.2,1158.5 776.5,1156.7 776.8,1159.6 777.2,1149.9 777.5,1153.8 777.8,1159.1 778.1,1157.8 778.4,1158.6 778.8,1163.9 779.1,1165.0 779.4,1165.6 779.7,1164.0 780.0,1164.8 780.4,1168.9 780.7,1177.7 781.0,1174.5 781.3,1177.4 781.6,1183.9 782.0,1181.9 782.3,1185.5 782.6,1182.4 782.9,1186.0 783.2,1187.1 783.6,1187.9 783.9,1186.6 784.2,1188.3 784.5,1194.4 784.8,1193.2 785.2,1195.4 785.5,1192.1 785.8,1198.8 786.1,1193.2 786.4,1194.1 786.8,1196.3 787.1,1194.4 787.4,1196.1 787.7,1199.5 788.0,1197.3 788.4,1195.3 788.7,1199.3 789.0,1195.2 789.3,1195.7 789.6,1197.5 790.0,1197.7 790.3,1192.2 790.6,1197.8 790.9,1195.3 791.2,1194.2 791.6,1194.2 791.9,1194.4 792.2,1193.4 792.5,1199.0 792.8,1200.2 793.2,1196.9 793.5,1197.2 793.8,1197.3 794.1,1199.9 794.4,1198.4 794.8,1201.4 795.1,1198.7 795.4,1200.8 795.7,1194.3 796.0,1195.6 796.4,1198.1 796.7,1197.3 797.0,1196.0 797.3,1195.4 797.6,1194.6 798.0,1198.0 798.3,1197.2 798.6,1199.7 798.9,1196.9 799.2,1198.2 799.6,1199.4 799.9,1200.0 800.2,1197.2 800.5,1198.3 800.8,1202.3 801.2,1193.4 801.5,1199.2 801.8,1199.2 802.1,1197.9 802.4,1194.6 802.8,1198.4 803.1,1197.1 803.4,1197.5 803.7,1196.8 804.0,1196.2 804.4,1198.5 804.7,1195.8 805.0,1200.4 805.3,1198.9 805.6,1197.7 806.0,1198.9 806.3,1200.7 806.6,1198.2 806.9,1200.8 807.2,1204.6 807.6,1199.5 807.9,1200.2 808.2,1198.0 808.5,1199.3 808.8,1197.6 809.2,1202.6 809.5,1197.6 809.8,1200.4 810.1,1197.7 810.4,1199.3 810.8,1197.1 811.1,1196.8 811.4,1201.9 811.7,1201.3 812.0,1199.5 812.4,1198.3 812.7,1198.8 813.0,1196.6 813.3,1199.4 813.6,1203.6 814.0,1197.4 814.3,1204.2 814.6,1199.7 814.9,1202.5 815.2,1200.4 815.6,1196.8 815.9,1196.4 816.2,1202.3 816.5,1201.8 816.8,1197.2 817.2,1203.7 817.5,1199.0 817.8,1205.3 818.1,1198.4 818.4,1201.4 818.8,1199.5 819.1,1197.6 819.4,1200.8 819.7,1197.4 820.0,1197.0 820.4,1198.9 820.7,1195.9 821.0,1196.1 821.3,1198.4 821.6,1199.7 822.0,1201.1 822.3,1202.1 822.6,1199.1 822.9,1203.0 823.2,1200.2 823.6,1199.1 823.9,1201.8 824.2,1202.4 824.5,1199.6 824.8,1198.6 825.2,1200.5 825.5,1199.5 825.8,1196.7 826.1,1199.6 826.4,1199.5 826.8,1200.0 827.1,1200.9 827.4,1202.5 827.7,1197.9 828.0,1200.1 828.4,1201.6 828.7,1194.7 829.0,1202.7 829.3,1200.4 829.6,1205.9 830.0,1201.8 830.3,1198.2 830.6,1200.3 830.9,1199.5 831.2,1201.1 831.6,1197.0 831.9,1200.8 832.2,1199.6 832.5,1199.7 832.8,1201.3 833.2,1200.7 833.5,1204.7 833.8,1201.1 834.1,1202.1 834.4,1199.1 834.8,1199.1 835.1,1203.9 835.4,1199.4 835.7,1196.6 836.0,1198.0 836.4,1197.7 836.7,1198.2 837.0,1199.0 837.3,1203.4 837.6,1200.3 838.0,1201.9 838.3,1205.3 838.6,1199.4 838.9,1199.6 839.2,1195.3 839.6,1203.3 839.9,1201.7 840.2,1197.1 840.5,1203.8 840.8,1203.2 841.2,1195.4 841.5,1198.4 841.8,1202.8 842.1,1198.8 842.4,1200.5 842.8,1202.4 843.1,1201.8 843.4,1200.0 843.7,1202.7 844.0,1204.3 844.4,1200.7 844.7,1207.4 845.0,1203.0 845.3,1202.6 845.6,1199.1 846.0,1199.6 846.3,1199.9 846.6,1204.8 846.9,1199.6 847.2,1204.7 847.6,1204.0 847.9,1200.6 848.2,1201.7 848.5,1205.4 848.8,1200.3 849.2,1197.3 849.5,1200.7 849.8,1202.6 850.1,1204.4 850.4,1203.5 850.8,1208.0 851.1,1204.9 851.4,1203.9 851.7,1205.3 852.0,1205.4 852.4,1203.3 852.7,1204.6 853.0,1204.2 853.3,1203.3 853.6,1202.9 854.0,1200.5 854.3,1202.6 854.6,1200.9 854.9,1204.5 855.2,1203.1 855.6,1200.4 855.9,1202.6 856.2,1202.2 856.5,1199.8 856.8,1201.5 857.2,1203.2 857.5,1206.2 857.8,1203.0 858.1,1204.2 858.4,1206.1 858.8,1205.6 859.1,1203.5 859.4,1204.6 859.7,1202.7 860.0,1202.4 860.4,1203.2 860.7,1203.5 861.0,1205.4 861.3,1204.7 861.6,1205.3 862.0,1199.8 862.3,1202.4 862.6,1203.0 862.9,1200.6 863.2,1198.2 863.6,1204.3 863.9,1207.9 864.2,1201.1 864.5,1203.7 864.8,1207.4 865.2,1203.1 865.5,1203.0 865.8,1199.7 866.1,1203.2 866.4,1205.4 866.8,1205.7 867.1,1203.0 867.4,1205.7 867.7,1200.9 868.0,1202.5 868.4,1204.2 868.7,1204.2 869.0,1205.9 869.3,1203.2 869.6,1199.1 870.0,1206.3 870.3,1208.1 870.6,1204.8 870.9,1203.2 871.2,1202.1 871.6,1203.9 871.9,1200.6 872.2,1204.0 872.5,1202.9 872.8,1200.3 873.2,1203.9 873.5,1204.8 873.8,1207.6 874.1,1203.8 874.4,1207.3 874.8,1202.6 875.1,1203.0 875.4,1204.7 875.7,1202.2 876.0,1204.2 876.4,1202.1 876.7,1201.0 877.0,1202.8 877.3,1205.4 877.6,1203.9 878.0,1202.8 878.3,1207.5 878.6,1203.9 878.9,1205.7 879.2,1204.9 879.6,1206.8 879.9,1204.2 880.2,1202.9 880.5,1205.1 880.8,1205.3 881.2,1205.8 881.5,1205.6 881.8,1205.5 882.1,1202.4 882.4,1206.8 882.8,1206.8 883.1,1204.5 883.4,1205.4 883.7,1205.4 884.0,1208.0 884.4,1200.1 884.7,1204.4 885.0,1206.4 885.3,1201.7 885.6,1203.8 886.0,1208.9 886.3,1202.4 886.6,1205.1 886.9,1203.4 887.2,1204.9 887.6,1203.5 887.9,1205.5 888.2,1202.1 888.5,1208.9 888.8,1206.1 889.2,1206.1 889.5,1204.4 889.8,1205.9 890.1,1204.9 890.4,1206.6 890.8,1204.6 891.1,1204.7 891.4,1208.5 891.7,1207.8 892.0,1209.2 892.4,1207.6 892.7,1201.9 893.0,1206.7 893.3,1207.4 893.6,1206.9 894.0,1208.0 894.3,1208.0 894.6,1206.4 894.9,1206.9 895.2,1205.7 895.6,1208.8 895.9,1202.9 896.2,1202.7 896.5,1207.9 896.8,1202.1 897.2,1206.7 897.5,1205.9 897.8,1208.5 898.1,1203.6 898.4,1203.5 898.8,1205.4 899.1,1205.3 899.4,1203.9 899.7,1203.6 900.0,1205.5 900.4,1207.2 900.7,1200.8 901.0,1207.5 901.3,1207.4 901.6,1204.4 902.0,1203.1 902.3,1203.8 902.6,1200.8 902.9,1205.3 903.2,1205.1 903.6,1204.9 903.9,1205.7 904.2,1202.2 904.5,1206.9 904.8,1204.5 905.2,1205.0 905.5,1205.4 905.8,1205.4 906.1,1206.5 906.4,1205.2 906.8,1205.1 907.1,1202.7 907.4,1203.4 907.7,1201.0 908.0,1204.8 908.4,1203.6 908.7,1204.0 909.0,1205.5 909.3,1203.3 909.6,1207.1 910.0,1201.2 910.3,1207.1 910.6,1206.3 910.9,1202.9 911.2,1205.1 911.6,1205.8 911.9,1202.2 912.2,1204.0 912.5,1205.5 912.8,1204.3 913.2,1202.3 913.5,1199.5 913.8,1204.4 914.1,1204.5 914.4,1206.4 914.8,1204.5 915.1,1199.4 915.4,1199.7 915.7,1198.5 916.0,1203.2 916.4,1200.8 916.7,1201.7 917.0,1199.8 917.3,1196.9 917.6,1201.2 918.0,1196.3 918.3,1192.6 918.6,1197.4 918.9,1200.6 919.2,1202.6 919.6,1200.0 919.9,1199.3 920.2,1200.4 920.5,1200.6 920.8,1201.2 921.2,1195.7 921.5,1195.9 921.8,1203.0 922.1,1193.3 922.4,1190.6 922.8,1194.2 923.1,1193.8 923.4,1192.6 923.7,1198.6 924.0,1196.5 924.4,1190.7 924.7,1201.2 925.0,1190.7 925.3,1191.5 925.6,1188.0 926.0,1186.8 926.3,1189.6 926.6,1191.5 926.9,1187.9 927.2,1185.0 927.6,1182.8 927.9,1185.8 928.2,1176.0 928.5,1177.4 928.8,1173.2 929.2,1172.8 929.5,1169.8 929.8,1165.1 930.1,1160.1 930.4,1160.6 930.8,1160.0 931.1,1149.9 931.4,1141.4 931.7,1131.2 932.0,1127.1 932.4,1115.9 932.7,1107.5 933.0,1087.4 933.3,1078.1 933.6,1051.9 934.0,1038.1 934.3,1018.4 934.6,989.8 934.9,961.3 935.2,943.8 935.6,919.5 935.9,898.4 936.2,876.3 936.5,858.0 936.8,835.1 937.2,838.2 937.5,836.4 937.8,845.8 938.1,848.4 938.4,876.6 938.8,896.9 939.1,921.6 939.4,951.1 939.7,968.0 940.0,993.4 940.4,1018.9 940.7,1040.2 941.0,1053.3 941.3,1070.4 941.6,1090.4 942.0,1099.4 942.3,1119.5 942.6,1124.5 942.9,1130.3 943.2,1145.4 943.6,1151.5 943.9,1157.6 944.2,1160.9 944.5,1166.5 944.8,1167.3 945.2,1166.3 945.5,1173.3 945.8,1176.0 946.1,1177.7 946.4,1181.7 946.8,1187.5 947.1,1186.6 947.4,1187.0 947.7,1188.8 948.0,1185.5 948.4,1194.8 948.7,1191.2 949.0,1194.8 949.3,1195.0 949.6,1195.8 950.0,1198.4 950.3,1194.5 950.6,1197.6 950.9,1195.3 951.2,1196.2 951.6,1191.3 951.9,1197.5 952.2,1197.5 952.5,1198.9 952.8,1196.2 953.2,1196.0 953.5,1200.0 953.8,1199.1 954.1,1201.2 954.4,1197.7 954.8,1196.7 955.1,1201.9 955.4,1201.8 955.7,1201.9 956.0,1202.6 956.4,1202.3 956.7,1201.7 957.0,1200.1 957.3,1202.9 957.6,1202.4 958.0,1201.9 958.3,1199.5 958.6,1202.0 958.9,1204.5 959.2,1205.0 959.6,1200.2 959.9,1207.1 960.2,1202.4 960.5,1206.4 960.8,1203.8 961.2,1201.9 961.5,1206.8 961.8,1201.2 962.1,1205.5 962.4,1204.7 962.8,1205.9 963.1,1206.4 963.4,1205.9 963.7,1208.0 964.0,1201.7 964.4,1207.2 964.7,1208.5 965.0,1202.3 965.3,1202.4 965.6,1204.4 966.0,1203.3 966.3,1208.0 966.6,1207.3 966.9,1204.5 967.2,1204.9 967.6,1212.0 967.9,1205.0 968.2,1204.7 968.5,1210.8 968.8,1209.3 969.2,1205.7 969.5,1208.1 969.8,1203.0 970.1,1208.9 970.4,1212.3 970.8,1205.9 971.1,1208.5 971.4,1206.7 971.7,1205.0 972.0,1206.8 972.4,1205.5 972.7,1204.2 973.0,1207.3 973.3,1208.0 973.6,1208.5 974.0,1208.2 974.3,1208.1 974.6,1207.7 974.9,1206.7 975.2,1204.4 975.6,1207.5 975.9,1206.6 976.2,1204.5 976.5,1207.5 976.8,1209.0 977.2,1210.9 977.5,1205.8 977.8,1210.4 978.1,1206.2 978.4,1208.2 978.8,1210.6 979.1,1207.8 979.4,1207.1 979.7,1205.6 980.0,1210.3 980.4,1206.0 980.7,1208.3 981.0,1207.7 981.3,1208.9 981.6,1211.1 982.0,1209.2 982.3,1212.6 982.6,1211.9 982.9,1207.8 983.2,1205.4 983.6,1207.6 983.9,1207.5 984.2,1211.2 984.5,1208.2 984.8,1209.5 985.2,1205.0 985.5,1209.5 985.8,1211.8 986.1,1208.5 986.4,1206.4 986.8,1207.9 987.1,1208.7 987.4,1208.6 987.7,1208.5 988.0,1209.1 988.4,1206.7 988.7,1207.9 989.0,1207.7 989.3,1207.7 989.6,1204.5 990.0,1208.6 990.3,1209.2 990.6,1205.6 990.9,1211.7 991.2,1207.8 991.6,1208.0 991.9,1209.4 992.2,1208.4 992.5,1210.4 992.8,1210.6 993.2,1203.7 993.5,1208.3 993.8,1211.2 994.1,1209.6 994.4,1210.2 994.8,1208.8 995.1,1207.8 995.4,1205.8 995.7,1212.2 996.0,1209.3 996.4,1209.0 996.7,1209.3 997.0,1208.5 997.3,1209.0 997.6,1211.1 998.0,1209.6 998.3,1206.0 998.6,1208.5 998.9,1207.8 999.2,1208.7 999.6,1208.3 999.9,1211.7 1000.2,1206.1 1000.5,1209.9 1000.8,1209.8 1001.2,1207.4 1001.5,1205.4 1001.8,1208.5 1002.1,1205.2 1002.4,1211.2 1002.8,1209.9 1003.1,1203.5 1003.4,1208.8 1003.7,1207.6 1004.0,1206.7 1004.4,1206.6 1004.7,1211.8 1005.0,1206.5 1005.3,1206.8 1005.6,1210.7 1006.0,1208.2 1006.3,1204.8 1006.6,1214.3 1006.9,1209.1 1007.2,1206.4 1007.6,1214.3 1007.9,1209.3 1008.2,1209.0 1008.5,1207.6 1008.8,1210.0 1009.2,1209.2 1009.5,1208.8 1009.8,1211.0 1010.1,1207.9 1010.4,1206.2 1010.8,1205.5 1011.1,1209.7 1011.4,1208.7 1011.7,1206.8 1012.0,1210.2 1012.4,1209.1 1012.7,1206.2 1013.0,1204.3 1013.3,1206.1 1013.6,1204.7 1014.0,1206.8 1014.3,1207.6 1014.6,1208.0 1014.9,1201.7 1015.2,1205.3 1015.6,1207.3 1015.9,1207.4 1016.2,1206.6 1016.5,1205.0 1016.8,1206.0 1017.2,1208.1 1017.5,1204.9 1017.8,1203.8 1018.1,1206.8 1018.4,1207.1 1018.8,1202.5 1019.1,1203.5 1019.4,1201.6 1019.7,1204.5 1020.0,1205.6 1020.4,1204.1 1020.7,1202.4 1021.0,1202.3 1021.3,1204.7 1021.6,1206.7 1022.0,1205.1 1022.3,1204.9 1022.6,1208.1 1022.9,1204.4 1023.2,1204.4 1023.6,1202.9 1023.9,1208.4 1024.2,1207.8 1024.5,1205.4 1024.8,1206.3 1025.2,1203.3 1025.5,1204.3 1025.8,1206.5 1026.1,1207.8 1026.4,1200.9 1026.8,1209.9 1027.1,1208.4 1027.4,1204.3 1027.7,1207.6 1028.0,1206.1 1028.4,1205.0 1028.7,1206.2 1029.0,1206.3 1029.3,1207.9 1029.6,1208.2 1030.0,1210.1 1030.3,1207.4 1030.6,1206.4 1030.9,1208.6 1031.2,1209.4 1031.6,1208.7 1031.9,1211.3 1032.2,1208.0 1032.5,1205.9 1032.8,1210.6 1033.2,1210.2 1033.5,1208.9 1033.8,1209.1 1034.1,1205.6 1034.4,1208.7 1034.8,1209.5 1035.1,1208.8 1035.4,1206.3 1035.7,1209.4 1036.0,1207.4 1036.4,1210.3 1036.7,1209.6 1037.0,1210.7 1037.3,1207.5 1037.6,1209.8 1038.0,1210.2 1038.3,1209.9 1038.6,1211.9 1038.9,1207.4 1039.2,1212.0 1039.6,1211.7 1039.9,1209.7 1040.2,1207.6 1040.5,1209.5 1040.8,1209.8 1041.2,1210.0 1041.5,1212.0 1041.8,1211.0 1042.1,1206.7 1042.4,1211.8 1042.8,1206.1 1043.1,1208.3 1043.4,1206.2 1043.7,1210.6 1044.0,1208.8 1044.4,1212.0 1044.7,1208.4 1045.0,1210.2 1045.3,1213.0 1045.6,1209.3 1046.0,1212.4 1046.3,1210.6 1046.6,1210.2 1046.9,1207.2 1047.2,1210.0 1047.6,1213.6 1047.9,1210.0 1048.2,1211.5 1048.5,1213.0 1048.8,1208.8 1049.2,1210.3 1049.5,1210.4 1049.8,1208.9 1050.1,1211.3 1050.4,1212.8 1050.8,1211.3 1051.1,1210.2 1051.4,1210.6 1051.7,1206.9 1052.0,1211.1 1052.4,1208.2 1052.7,1212.3 1053.0,1208.6 1053.3,1212.2 1053.6,1208.4 1054.0,1209.2 1054.3,1206.9 1054.6,1210.9 1054.9,1210.9 1055.2,1212.4 1055.6,1207.6 1055.9,1206.9 1056.2,1212.0 1056.5,1204.9 1056.8,1208.0 1057.2,1212.0 1057.5,1209.9 1057.8,1206.0 1058.1,1209.7 1058.4,1213.0 1058.8,1209.9 1059.1,1209.5 1059.4,1212.5 1059.7,1209.1 1060.0,1210.6 1060.4,1212.9 1060.7,1207.0 1061.0,1208.8 1061.3,1211.8 1061.6,1210.2 1062.0,1214.0 1062.3,1210.1 1062.6,1210.5 1062.9,1207.5 1063.2,1208.1 1063.6,1213.4 1063.9,1208.9 1064.2,1210.8 1064.5,1209.7 1064.8,1215.1 1065.2,1207.0 1065.5,1211.5 1065.8,1210.3 1066.1,1208.2 1066.4,1209.7 1066.8,1211.6 1067.1,1216.2 1067.4,1213.1 1067.7,1211.7 1068.0,1210.9 1068.4,1207.6 1068.7,1207.6 1069.0,1211.5 1069.3,1207.4 1069.6,1212.8 1070.0,1211.7 1070.3,1213.5 1070.6,1211.3 1070.9,1208.8 1071.2,1213.1 1071.6,1208.6 1071.9,1210.7 1072.2,1210.1 1072.5,1209.0 1072.8,1210.4 1073.2,1210.8 1073.5,1208.9 1073.8,1213.7 1074.1,1209.6 1074.4,1209.8 1074.8,1211.7 1075.1,1210.0 1075.4,1210.5 1075.7,1211.0 1076.0,1207.1 1076.4,1214.4 1076.7,1208.5 1077.0,1207.1 1077.3,1211.3 1077.6,1211.4 1078.0,1211.0 1078.3,1208.8 1078.6,1208.7 1078.9,1210.6 1079.2,1210.2 1079.6,1212.6 1079.9,1210.4 1080.2,1212.2 1080.5,1210.4 1080.8,1206.9 1081.2,1208.7 1081.5,1213.6 1081.8,1211.1 1082.1,1213.1 1082.4,1210.6 1082.8,1210.5 1083.1,1209.6 1083.4,1212.9 1083.7,1213.8 1084.0,1208.9 1084.4,1211.3 1084.7,1209.2 1085.0,1211.0 1085.3,1207.7 1085.6,1207.9 1086.0,1211.9 1086.3,1211.2 1086.6,1210.6 1086.9,1213.7 1087.2,1209.2 1087.6,1210.4 1087.9,1213.3 1088.2,1210.7 1088.5,1209.6 1088.8,1212.7 1089.2,1210.4 1089.5,1210.0 1089.8,1208.2 1090.1,1207.6 1090.4,1207.3 1090.8,1208.6 1091.1,1210.0 1091.4,1211.3 1091.7,1207.7 1092.0,1211.0 1092.4,1214.7 1092.7,1213.5 1093.0,1209.5 1093.3,1216.1 1093.6,1212.3 1094.0,1212.9 1094.3,1214.2 1094.6,1208.7 1094.9,1209.9 1095.2,1210.8 1095.6,1211.4 1095.9,1207.4 1096.2,1212.6 1096.5,1209.0 1096.8,1211.4 1097.2,1212.1 1097.5,1209.4 1097.8,1213.6 1098.1,1209.1 1098.4,1206.5 1098.8,1213.0 1099.1,1210.6 1099.4,1207.4 1099.7,1210.0 1100.0,1211.4 1100.4,1210.4 1100.7,1212.1 1101.0,1208.8 1101.3,1210.7 1101.6,1209.8 1102.0,1209.9 1102.3,1211.3 1102.6,1212.8 1102.9,1210.2 1103.2,1209.8 1103.6,1212.1 1103.9,1211.1 1104.2,1206.0 1104.5,1210.2 1104.8,1209.5 1105.2,1208.5 1105.5,1209.2 1105.8,1209.0 1106.1,1214.4 1106.4,1209.3 1106.8,1209.6 1107.1,1206.5 1107.4,1209.9 1107.7,1211.9 1108.0,1209.1 1108.4,1211.4 1108.7,1211.0 1109.0,1210.2 1109.3,1218.7 1109.6,1208.7 1110.0,1210.9 1110.3,1207.7 1110.6,1212.2 1110.9,1209.0 1111.2,1209.2 1111.6,1211.8 1111.9,1209.0 1112.2,1212.1 1112.5,1206.6 1112.8,1212.0 1113.2,1208.8 1113.5,1206.1 1113.8,1213.3 1114.1,1213.8 1114.4,1211.2 1114.8,1213.8 1115.1,1212.2 1115.4,1208.8 1115.7,1213.7 1116.0,1209.9 1116.4,1212.7 1116.7,1211.5 1117.0,1208.9 1117.3,1209.7 1117.6,1208.2 1118.0,1211.5 1118.3,1207.7 1118.6,1214.5 1118.9,1210.7 1119.2,1207.2 1119.6,1210.9 1119.9,1208.2 1120.2,1213.2 1120.5,1211.6 1120.8,1208.3 1121.2,1213.2 1121.5,1212.5 1121.8,1211.5 1122.1,1208.1 1122.4,1207.3 1122.8,1215.3 1123.1,1206.9 1123.4,1211.1 1123.7,1210.9 1124.0,1207.9 1124.4,1207.5 1124.7,1207.0 1125.0,1212.6 1125.3,1208.5 1125.6,1212.3 1126.0,1211.7 1126.3,1210.6 1126.6,1209.7 1126.9,1209.4 1127.2,1210.9 1127.6,1209.3 1127.9,1206.2 1128.2,1209.8 1128.5,1214.1 1128.8,1213.3 1129.2,1209.4 1129.5,1207.1 1129.8,1208.0 1130.1,1208.6 1130.4,1210.9 1130.8,1210.3 1131.1,1212.6 1131.4,1214.0 1131.7,1210.2 1132.0,1212.6 1132.4,1211.3 1132.7,1208.8 1133.0,1209.5 1133.3,1208.6 1133.6,1206.5 1134.0,1212.3 1134.3,1212.6 1134.6,1211.8 1134.9,1210.0 1135.2,1210.9 1135.6,1211.3 1135.9,1210.9 1136.2,1209.7 1136.5,1210.4 1136.8,1210.5 1137.2,1212.4 1137.5,1212.7 1137.8,1208.2 1138.1,1215.9 1138.4,1211.7 1138.8,1209.1 1139.1,1207.4 1139.4,1211.4 1139.7,1212.7 1140.0,1208.9 1140.4,1209.8 1140.7,1214.1 1141.0,1212.6 1141.3,1212.0 1141.6,1211.9 1142.0,1214.8 1142.3,1209.6 1142.6,1211.3 1142.9,1209.5 1143.2,1208.3 1143.6,1207.4 1143.9,1209.3 1144.2,1208.9 1144.5,1209.3 1144.8,1211.8 1145.2,1209.5 1145.5,1208.7 1145.8,1209.7 1146.1,1209.3 1146.4,1210.0 1146.8,1213.0 1147.1,1209.6 1147.4,1210.7 1147.7,1210.1 1148.0,1209.2 1148.4,1211.3 1148.7,1211.4 1149.0,1210.5 1149.3,1212.1 1149.6,1210.8 1150.0,1212.6 1150.3,1209.4 1150.6,1212.8 1150.9,1211.7 1151.2,1210.1 1151.6,1209.4 1151.9,1209.0 1152.2,1208.4 1152.5,1209.4 1152.8,1209.5 1153.2,1209.3 1153.5,1214.6 1153.8,1210.1 1154.1,1208.5 1154.4,1213.3 1154.8,1212.5 1155.1,1209.2 1155.4,1212.0 1155.7,1211.2 1156.0,1212.4 1156.4,1209.6 1156.7,1210.8 1157.0,1210.1 1157.3,1209.3 1157.6,1210.4 1158.0,1213.4 1158.3,1209.9 1158.6,1209.1 1158.9,1209.1 1159.2,1211.7 1159.6,1210.1 1159.9,1207.8 1160.2,1207.8 1160.5,1209.5 1160.8,1211.9 1161.2,1213.2 1161.5,1212.5 1161.8,1210.1 1162.1,1211.1 1162.4,1212.5 1162.8,1209.3 1163.1,1204.6 1163.4,1213.5 1163.7,1212.7 1164.0,1211.3 1164.4,1212.9 1164.7,1211.9 1165.0,1208.9 1165.3,1207.7 1165.6,1209.7 1166.0,1208.1 1166.3,1209.2 1166.6,1211.7 1166.9,1207.3 1167.2,1209.8 1167.6,1214.2 1167.9,1210.1 1168.2,1207.1 1168.5,1210.5 1168.8,1209.4 1169.2,1212.1 1169.5,1208.9 1169.8,1213.0 1170.1,1213.4 1170.4,1213.8 1170.8,1210.8 1171.1,1213.1 1171.4,1205.5 1171.7,1207.1 1172.0,1210.2 1172.4,1209.5 1172.7,1207.7 1173.0,1210.3 1173.3,1210.3 1173.6,1210.8 1174.0,1206.0 1174.3,1211.2 1174.6,1210.6 1174.9,1208.7 1175.2,1207.8 1175.6,1210.6 1175.9,1209.0 1176.2,1208.8 1176.5,1211.0 1176.8,1212.5 1177.2,1209.0 1177.5,1207.9 1177.8,1209.1 1178.1,1208.1 1178.4,1206.0 1178.8,1210.4 1179.1,1209.6 1179.4,1206.7 1179.7,1208.0 1180.0,1208.3 1180.4,1206.7 1180.7,1210.8 1181.0,1209.4 1181.3,1206.2 1181.6,1202.8 1182.0,1212.6 1182.3,1203.9 1182.6,1210.5 1182.9,1209.6 1183.2,1210.0 1183.6,1206.3 1183.9,1208.0 1184.2,1207.7 1184.5,1212.0 1184.8,1208.8 1185.2,1205.0 1185.5,1209.2 1185.8,1211.2 1186.1,1210.4 1186.4,1207.4 1186.8,1208.2 1187.1,1206.3 1187.4,1207.5 1187.7,1208.8 1188.0,1209.6 1188.4,1203.9 1188.7,1207.7 1189.0,1208.3 1189.3,1207.9 1189.6,1201.3 1190.0,1206.1 1190.3,1209.2 1190.6,1210.4 1190.9,1206.5 1191.2,1206.5 1191.6,1203.2 1191.9,1204.9 1192.2,1205.3 1192.5,1210.0 1192.8,1199.7 1193.2,1207.7 1193.5,1207.3 1193.8,1207.3 1194.1,1201.9 1194.4,1204.3 1194.8,1203.4 1195.1,1204.6 1195.4,1202.4 1195.7,1200.5 1196.0,1201.2 1196.4,1200.0 1196.7,1207.0 1197.0,1200.1 1197.3,1200.4 1197.6,1204.6 1198.0,1201.5 1198.3,1201.7 1198.6,1204.5 1198.9,1202.2 1199.2,1203.6 1199.6,1202.1 1199.9,1197.2 1200.2,1200.8 1200.5,1203.5 1200.8,1201.9 1201.2,1205.7 1201.5,1202.1 1201.8,1202.7 1202.1,1202.2 1202.4,1202.8 1202.8,1208.5 1203.1,1202.4 1203.4,1200.0 1203.7,1202.3 1204.0,1200.4 1204.4,1204.5 1204.7,1204.7 1205.0,1204.0 1205.3,1203.4 1205.6,1204.0 1206.0,1200.3 1206.3,1205.0 1206.6,1204.0 1206.9,1209.2 1207.2,1205.4 1207.6,1206.1 1207.9,1203.8 1208.2,1205.5 1208.5,1208.1 1208.8,1203.6 1209.2,1206.4 1209.5,1206.0 1209.8,1207.8 1210.1,1205.3 1210.4,1206.1 1210.8,1205.6 1211.1,1209.9 1211.4,1208.8 1211.7,1206.2 1212.0,1207.8 1212.4,1204.3 1212.7,1206.2 1213.0,1206.3 1213.3,1206.6 1213.6,1209.5 1214.0,1205.3 1214.3,1204.8 1214.6,1207.4 1214.9,1207.0 1215.2,1209.4 1215.6,1211.8 1215.9,1207.9 1216.2,1205.7 1216.5,1205.3 1216.8,1209.2 1217.2,1203.8 1217.5,1205.2 1217.8,1206.6 1218.1,1206.6 1218.4,1204.5 1218.8,1209.3 1219.1,1208.4 1219.4,1208.6 1219.7,1204.5 1220.0,1203.2 1220.4,1206.3 1220.7,1204.5 1221.0,1204.3 1221.3,1204.0 1221.6,1207.1 1222.0,1202.7 1222.3,1209.7 1222.6,1198.7 1222.9,1202.7 1223.2,1202.8 1223.6,1201.5 1223.9,1202.5 1224.2,1201.4 1224.5,1198.1 1224.8,1202.0 1225.2,1205.7 1225.5,1196.7 1225.8,1197.4 1226.1,1195.5 1226.4,1197.6 1226.8,1192.7 1227.1,1194.9 1227.4,1193.6 1227.7,1192.7 1228.0,1192.5 1228.4,1185.0 1228.7,1181.8 1229.0,1184.2 1229.3,1181.5 1229.6,1174.2 1230.0,1165.8 1230.3,1170.5 1230.6,1168.0 1230.9,1154.1 1231.2,1158.2 1231.6,1151.5 1231.9,1144.1 1232.2,1151.8 1232.5,1148.4 1232.8,1152.5 1233.2,1148.8 1233.5,1149.4 1233.8,1156.0 1234.1,1161.6 1234.4,1162.8 1234.8,1163.3 1235.1,1168.3 1235.4,1170.8 1235.7,1171.9 1236.0,1177.3 1236.4,1182.3 1236.7,1183.2 1237.0,1189.2 1237.3,1187.5 1237.6,1192.4 1238.0,1189.9 1238.3,1190.2 1238.6,1198.6 1238.9,1197.9 1239.2,1197.4 1239.6,1201.2 1239.9,1206.0 1240.2,1202.0 1240.5,1204.5 1240.8,1201.2 1241.2,1202.9 1241.5,1202.8 1241.8,1208.7 1242.1,1206.0 1242.4,1201.6 1242.8,1200.4 1243.1,1210.0 1243.4,1206.3 1243.7,1205.2 1244.0,1204.1 1244.4,1205.1 1244.7,1203.6 1245.0,1204.6 1245.3,1202.8 1245.6,1205.5 1246.0,1204.7 1246.3,1208.3 1246.6,1206.7 1246.9,1200.3 1247.2,1204.9 1247.6,1208.6 1247.9,1206.0 1248.2,1205.2 1248.5,1208.0 1248.8,1207.3 1249.2,1204.2 1249.5,1207.8 1249.8,1206.6 1250.1,1203.8 1250.4,1205.2 1250.8,1207.1 1251.1,1204.7 1251.4,1206.3 1251.7,1207.5 1252.0,1205.7 1252.4,1204.3 1252.7,1204.5 1253.0,1205.4 1253.3,1203.2 1253.6,1210.4 1254.0,1205.6 1254.3,1206.5 1254.6,1206.4 1254.9,1208.9 1255.2,1202.2 1255.6,1207.5 1255.9,1205.4 1256.2,1204.6 1256.5,1201.7 1256.8,1207.2 1257.2,1207.2 1257.5,1206.0 1257.8,1204.5 1258.1,1202.0 1258.4,1203.2 1258.8,1206.6 1259.1,1204.5 1259.4,1206.5 1259.7,1204.1 1260.0,1205.5 1260.4,1205.8 1260.7,1205.0 1261.0,1198.5 1261.3,1203.4 1261.6,1199.8 1262.0,1203.5 1262.3,1198.8 1262.6,1200.1 1262.9,1194.4 1263.2,1196.1 1263.6,1192.1 1263.9,1190.0 1264.2,1191.2 1264.5,1189.1 1264.8,1189.0 1265.2,1181.3 1265.5,1180.8 1265.8,1188.4 1266.1,1181.0 1266.4,1182.0 1266.8,1184.1 1267.1,1185.3 1267.4,1186.0 1267.7,1180.9 1268.0,1186.7 1268.4,1186.5 1268.7,1185.7 1269.0,1188.5 1269.3,1191.9 1269.6,1193.8 1270.0,1191.9 1270.3,1196.8 1270.6,1191.8 1270.9,1196.3 1271.2,1192.5 1271.6,1203.1 1271.9,1201.3 1272.2,1199.2 1272.5,1200.5 1272.8,1201.7 1273.2,1202.6 1273.5,1199.2 1273.8,1202.1 1274.1,1206.0 1274.4,1205.8 1274.8,1202.9 1275.1,1206.3 1275.4,1208.4 1275.7,1203.4 1276.0,1201.9 1276.4,1202.2 1276.7,1208.6 1277.0,1206.3 1277.3,1205.7 1277.6,1204.4 1278.0,1209.6 1278.3,1206.9 1278.6,1208.5 1278.9,1206.8 1279.2,1203.6 1279.6,1210.3 1279.9,1206.3 1280.2,1209.2 1280.5,1208.4 1280.8,1206.4 1281.2,1210.6 1281.5,1211.1 1281.8,1209.1 1282.1,1211.4 1282.4,1207.2 1282.8,1209.5 1283.1,1207.2 1283.4,1207.5 1283.7,1209.7 1284.0,1204.7 1284.4,1209.2 1284.7,1205.9 1285.0,1209.9 1285.3,1204.6 1285.6,1206.9 1286.0,1210.6 1286.3,1208.6 1286.6,1209.8 1286.9,1207.3 1287.2,1211.5 1287.6,1208.3 1287.9,1211.2 1288.2,1207.0 1288.5,1206.4 1288.8,1209.9 1289.2,1206.7 1289.5,1208.8 1289.8,1212.3 1290.1,1207.7 1290.4,1205.1 1290.8,1210.0 1291.1,1206.0 1291.4,1208.0 1291.7,1207.3 1292.0,1207.8 1292.4,1207.3 1292.7,1202.7 1293.0,1209.1 1293.3,1210.5 1293.6,1210.5 1294.0,1208.9 1294.3,1209.4 1294.6,1205.4 1294.9,1206.1 1295.2,1213.1 1295.6,1207.1 1295.9,1205.1 1296.2,1207.8 1296.5,1207.1 1296.8,1208.9 1297.2,1209.4 1297.5,1205.4 1297.8,1208.6 1298.1,1210.2 1298.4,1209.1 1298.8,1207.2 1299.1,1211.1 1299.4,1208.8 1299.7,1205.5 1300.0,1205.4 1300.4,1209.2 1300.7,1205.6 1301.0,1206.0 1301.3,1209.2 1301.6,1208.2 1302.0,1206.4 1302.3,1208.1 1302.6,1206.7 1302.9,1210.4 1303.2,1207.8 1303.6,1212.7 1303.9,1211.7 1304.2,1210.6 1304.5,1209.4 1304.8,1208.9 1305.2,1207.2 1305.5,1211.5 1305.8,1213.9 1306.1,1208.1 1306.4,1208.5 1306.8,1202.7 1307.1,1207.8 1307.4,1206.3 1307.7,1213.1 1308.0,1206.0 1308.4,1208.7 1308.7,1210.6 1309.0,1209.8 1309.3,1205.9 1309.6,1209.1 1310.0,1209.5 1310.3,1208.5 1310.6,1208.3 1310.9,1203.6 1311.2,1208.8 1311.6,1206.6 1311.9,1209.8 1312.2,1205.5 1312.5,1205.1 1312.8,1208.6 1313.2,1207.8 1313.5,1205.3 1313.8,1207.2 1314.1,1206.8 1314.4,1208.3 1314.8,1208.3 1315.1,1205.1 1315.4,1209.5 1315.7,1210.5 1316.0,1204.3 1316.4,1206.8 1316.7,1210.3 1317.0,1204.9 1317.3,1205.6 1317.6,1204.8 1318.0,1211.0 1318.3,1209.6 1318.6,1205.5 1318.9,1209.5 1319.2,1209.7 1319.6,1209.7 1319.9,1210.0 1320.2,1210.2 1320.5,1207.1 1320.8,1210.4 1321.2,1206.8 1321.5,1212.7 1321.8,1206.7 1322.1,1209.0 1322.4,1213.5 1322.8,1207.5 1323.1,1208.4 1323.4,1208.3 1323.7,1207.6 1324.0,1209.7 1324.4,1210.9 1324.7,1206.5 1325.0,1211.1 1325.3,1205.7 1325.6,1207.2 1326.0,1203.3 1326.3,1204.1 1326.6,1209.3 1326.9,1205.2 1327.2,1206.2 1327.6,1203.5 1327.9,1209.5 1328.2,1205.8 1328.5,1205.4 1328.8,1211.8 1329.2,1208.1 1329.5,1208.1 1329.8,1205.4 1330.1,1211.8 1330.4,1207.0 1330.8,1209.3 1331.1,1208.9 1331.4,1205.0 1331.7,1207.4 1332.0,1208.5 1332.4,1209.3 1332.7,1208.5 1333.0,1205.9 1333.3,1208.2 1333.6,1209.3 1334.0,1204.2 1334.3,1207.5 1334.6,1207.8 1334.9,1209.0 1335.2,1206.9 1335.6,1207.5 1335.9,1201.1 1336.2,1204.2 1336.5,1202.2 1336.8,1206.8 1337.2,1209.4 1337.5,1209.0 1337.8,1205.2 1338.1,1209.8 1338.4,1206.8 1338.8,1207.5 1339.1,1205.6 1339.4,1207.0 1339.7,1204.6 1340.0,1206.7 1340.4,1206.6 1340.7,1203.6 1341.0,1208.0 1341.3,1205.9 1341.6,1202.4 1342.0,1197.5 1342.3,1203.6 1342.6,1206.3 1342.9,1202.8 1343.2,1206.5 1343.6,1204.4 1343.9,1203.6 1344.2,1204.5 1344.5,1204.3 1344.8,1202.8 1345.2,1203.4 1345.5,1203.8 1345.8,1202.2 1346.1,1208.0 1346.4,1204.2 1346.8,1204.8 1347.1,1204.8 1347.4,1204.2 1347.7,1201.7 1348.0,1199.2 1348.4,1200.6 1348.7,1206.0 1349.0,1203.1 1349.3,1198.2 1349.6,1201.8 1350.0,1203.3 1350.3,1199.9 1350.6,1201.2 1350.9,1201.9 1351.2,1206.8 1351.6,1202.5 1351.9,1202.3 1352.2,1199.2 1352.5,1205.4 1352.8,1205.4 1353.2,1204.0 1353.5,1203.1 1353.8,1205.0 1354.1,1203.9 1354.4,1204.8 1354.8,1206.4 1355.1,1204.1 1355.4,1203.2 1355.7,1205.3 1356.0,1202.0 1356.4,1202.0 1356.7,1207.6 1357.0,1201.2 1357.3,1200.9 1357.6,1202.9 1358.0,1204.1 1358.3,1203.5 1358.6,1206.8 1358.9,1204.8 1359.2,1199.6 1359.6,1202.7 1359.9,1205.6 1360.2,1199.8 1360.5,1207.1 1360.8,1206.9 1361.2,1205.1 1361.5,1205.5 1361.8,1201.5 1362.1,1205.9 1362.4,1206.7 1362.8,1202.6 1363.1,1206.5 1363.4,1208.6 1363.7,1209.9 1364.0,1207.1 1364.4,1206.1 1364.7,1206.5 1365.0,1204.3 1365.3,1206.2 1365.6,1207.0 1366.0,1203.8 1366.3,1204.7 1366.6,1206.4 1366.9,1204.6 1367.2,1208.9 1367.6,1203.3 1367.9,1206.0 1368.2,1206.5 1368.5,1207.6 1368.8,1204.4 1369.2,1202.7 1369.5,1205.6 1369.8,1205.3 1370.1,1205.2 1370.4,1207.9 1370.8,1204.3 1371.1,1209.2 1371.4,1206.6 1371.7,1208.7 1372.0,1207.0 1372.4,1207.4 1372.7,1206.1 1373.0,1206.1 1373.3,1202.0 1373.6,1209.0 1374.0,1209.4 1374.3,1204.9 1374.6,1207.9 1374.9,1205.1 1375.2,1207.6 1375.6,1203.8 1375.9,1205.7 1376.2,1206.8 1376.5,1205.0 1376.8,1207.5 1377.2,1203.4 1377.5,1204.3 1377.8,1208.1 1378.1,1203.6 1378.4,1204.6 1378.8,1201.6 1379.1,1203.5 1379.4,1204.5 1379.7,1208.8 1380.0,1204.6 1380.4,1207.1 1380.7,1205.8 1381.0,1204.3 1381.3,1203.5 1381.6,1208.6 1382.0,1204.1 1382.3,1203.3 1382.6,1201.1 1382.9,1204.8 1383.2,1204.9 1383.6,1205.4 1383.9,1202.1 1384.2,1201.4 1384.5,1200.5 1384.8,1203.2 1385.2,1201.6 1385.5,1203.1 1385.8,1205.4 1386.1,1201.5 1386.4,1205.4 1386.8,1196.1 1387.1,1206.0 1387.4,1203.4 1387.7,1202.2 1388.0,1203.1 1388.4,1202.7 1388.7,1204.5 1389.0,1202.6 1389.3,1208.7 1389.6,1198.8 1390.0,1201.2 1390.3,1201.8 1390.6,1203.7 1390.9,1195.8 1391.2,1200.4 1391.6,1206.2 1391.9,1201.5 1392.2,1207.2 1392.5,1198.2 1392.8,1201.0 1393.2,1201.5 1393.5,1198.6 1393.8,1198.8 1394.1,1197.6 1394.4,1199.8 1394.8,1200.5 1395.1,1201.3 1395.4,1198.4 1395.7,1197.0 1396.0,1192.6 1396.4,1201.0 1396.7,1200.0 1397.0,1188.1 1397.3,1194.2 1397.6,1191.5 1398.0,1188.8 1398.3,1186.3 1398.6,1188.3 1398.9,1187.1 1399.2,1186.6 1399.6,1178.5 1399.9,1177.4 1400.2,1178.6 1400.5,1174.2 1400.8,1170.1 1401.2,1167.4 1401.5,1166.9 1401.8,1158.9 1402.1,1154.1 1402.4,1158.4 1402.8,1153.3 1403.1,1145.3 1403.4,1145.0 1403.7,1143.8 1404.0,1144.8 1404.4,1140.3 1404.7,1138.1 1405.0,1133.5 1405.3,1136.6 1405.6,1132.7 1406.0,1139.6 1406.3,1145.7 1406.6,1139.4 1406.9,1148.0 1407.2,1153.3 1407.6,1144.8 1407.9,1156.2 1408.2,1155.5 1408.5,1161.1 1408.8,1162.2 1409.2,1166.5 1409.5,1171.1 1409.8,1171.7 1410.1,1175.8 1410.4,1178.4 1410.8,1180.6 1411.1,1181.3 1411.4,1182.6 1411.7,1183.9 1412.0,1191.9 1412.4,1184.8 1412.7,1195.2 1413.0,1193.1 1413.3,1195.7 1413.6,1193.1 1414.0,1197.7 1414.3,1195.2 1414.6,1193.8 1414.9,1196.2 1415.2,1194.9 1415.6,1203.5 1415.9,1200.0 1416.2,1199.2 1416.5,1199.3 1416.8,1203.9 1417.2,1203.2 1417.5,1201.6 1417.8,1200.0 1418.1,1201.0 1418.4,1203.8 1418.8,1199.2 1419.1,1201.7 1419.4,1201.8 1419.7,1199.9 1420.0,1203.9 1420.4,1201.6 1420.7,1200.5 1421.0,1199.9 1421.3,1202.4 1421.6,1199.2 1422.0,1200.8 1422.3,1202.1 1422.6,1200.4 1422.9,1202.2 1423.2,1203.2 1423.6,1197.9 1423.9,1203.7 1424.2,1201.6 1424.5,1202.2 1424.8,1204.0 1425.2,1204.0 1425.5,1201.3 1425.8,1200.3 1426.1,1202.3 1426.4,1197.6 1426.8,1203.9 1427.1,1200.0 1427.4,1202.5 1427.7,1201.6 1428.0,1205.7 1428.4,1205.8 1428.7,1201.1 1429.0,1205.2 1429.3,1202.2 1429.6,1201.6 1430.0,1203.3 1430.3,1200.9 1430.6,1202.5 1430.9,1199.4 1431.2,1201.2 1431.6,1203.7 1431.9,1200.5 1432.2,1205.7 1432.5,1204.1 1432.8,1200.3 1433.2,1203.1 1433.5,1201.2 1433.8,1204.5 1434.1,1204.8 1434.4,1200.1 1434.8,1197.9 1435.1,1205.3 1435.4,1200.3 1435.7,1200.0 1436.0,1201.7 1436.4,1195.6 1436.7,1204.1 1437.0,1200.1 1437.3,1198.3 1437.6,1206.2 1438.0,1205.9 1438.3,1200.6 1438.6,1200.5 1438.9,1201.0 1439.2,1196.1 1439.6,1192.2 1439.9,1199.6 1440.2,1195.7 1440.5,1195.8 1440.8,1196.4 1441.2,1196.5 1441.5,1199.5 1441.8,1192.7 1442.1,1189.2 1442.4,1191.7 1442.8,1191.3 1443.1,1189.7 1443.4,1190.3 1443.7,1188.7 1444.0,1186.3 1444.4,1183.5 1444.7,1177.9 1445.0,1185.3 1445.3,1174.3 1445.6,1171.4 1446.0,1174.0 1446.3,1178.2 1446.6,1172.0 1446.9,1172.2 1447.2,1161.9 1447.6,1166.3 1447.9,1163.2 1448.2,1164.6 1448.5,1165.7 1448.8,1167.1 1449.2,1166.4 1449.5,1165.3 1449.8,1170.6 1450.1,1162.3 1450.4,1163.5 1450.8,1166.1 1451.1,1167.9 1451.4,1168.2 1451.7,1172.4 1452.0,1176.2 1452.4,1178.3 1452.7,1177.0 1453.0,1178.2 1453.3,1180.0 1453.6,1181.2 1454.0,1185.1 1454.3,1181.3 1454.6,1185.1 1454.9,1186.1 1455.2,1195.1 1455.6,1189.4 1455.9,1188.2 1456.2,1192.7 1456.5,1190.4 1456.8,1197.2 1457.2,1200.7 1457.5,1196.1 1457.8,1194.3 1458.1,1198.4 1458.4,1198.9 1458.8,1199.7 1459.1,1199.2 1459.4,1203.0 1459.7,1200.6 1460.0,1199.8 1460.4,1201.2 1460.7,1196.0 1461.0,1198.1 1461.3,1202.7 1461.6,1199.0 1462.0,1198.7 1462.3,1201.6 1462.6,1204.7 1462.9,1200.5 1463.2,1198.7 1463.6,1199.6 1463.9,1199.9 1464.2,1202.9 1464.5,1197.5 1464.8,1201.3 1465.2,1202.3 1465.5,1199.6 1465.8,1198.4 1466.1,1199.5 1466.4,1205.7 1466.8,1200.9 1467.1,1202.0 1467.4,1193.8 1467.7,1197.9 1468.0,1196.2 1468.4,1199.2 1468.7,1196.2 1469.0,1199.4 1469.3,1196.6 1469.6,1199.8 1470.0,1196.7 1470.3,1195.7 1470.6,1194.8 1470.9,1192.8 1471.2,1193.8 1471.6,1195.0 1471.9,1188.9 1472.2,1192.0 1472.5,1190.0 1472.8,1186.2 1473.2,1184.7 1473.5,1190.2 1473.8,1186.2 1474.1,1178.9 1474.4,1177.2 1474.8,1170.1 1475.1,1174.4 1475.4,1166.1 1475.7,1167.7 1476.0,1164.8 1476.4,1155.1 1476.7,1161.0 1477.0,1157.8 1477.3,1153.2 1477.6,1150.4 1478.0,1145.4 1478.3,1147.9 1478.6,1143.1 1478.9,1141.0 1479.2,1138.6 1479.6,1139.5 1479.9,1141.6 1480.2,1147.4 1480.5,1148.8 1480.8,1143.9 1481.2,1154.3 1481.5,1157.5 1481.8,1157.1 1482.1,1162.7 1482.4,1159.9 1482.8,1163.3 1483.1,1166.1 1483.4,1174.4 1483.7,1175.9 1484.0,1171.8 1484.4,1179.5 1484.7,1177.3 1485.0,1185.1 1485.3,1185.6 1485.6,1189.9 1486.0,1189.0 1486.3,1190.6 1486.6,1195.0 1486.9,1198.5 1487.2,1194.9 1487.6,1199.1 1487.9,1201.6 1488.2,1199.8 1488.5,1194.8 1488.8,1200.1 1489.2,1196.8 1489.5,1198.9 1489.8,1203.6 1490.1,1200.8 1490.4,1199.0 1490.8,1196.6 1491.1,1203.0 1491.4,1200.8 1491.7,1202.0 1492.0,1198.7 1492.4,1199.1 1492.7,1203.5 1493.0,1200.8 1493.3,1203.1 1493.6,1203.8 1494.0,1206.1 1494.3,1206.4 1494.6,1200.8 1494.9,1199.4 1495.2,1203.0 1495.6,1204.5 1495.9,1201.7 1496.2,1206.3 1496.5,1203.8 1496.8,1204.3 1497.2,1204.0 1497.5,1204.2 1497.8,1204.4 1498.1,1205.0 1498.4,1203.7 1498.8,1204.1 1499.1,1206.1 1499.4,1205.1 1499.7,1205.8 1500.0,1205.8 1500.4,1203.4 1500.7,1206.1 1501.0,1203.4 1501.3,1206.9 1501.6,1197.8 1502.0,1207.1 1502.3,1203.3 1502.6,1208.4 1502.9,1204.5 1503.2,1204.9 1503.6,1204.1 1503.9,1203.1 1504.2,1210.0 1504.5,1206.7 1504.8,1203.5 1505.2,1201.8 1505.5,1206.6 1505.8,1204.8 1506.1,1206.4 1506.4,1206.7 1506.8,1210.0 1507.1,1207.3 1507.4,1202.5 1507.7,1208.2 1508.0,1204.1 1508.4,1205.0 1508.7,1211.6 1509.0,1205.9 1509.3,1204.1 1509.6,1203.0 1510.0,1204.5 1510.3,1204.0 1510.6,1209.0 1510.9,1205.8 1511.2,1208.9 1511.6,1209.6 1511.9,1203.0 1512.2,1203.3 1512.5,1203.2 1512.8,1204.2 1513.2,1208.2 1513.5,1204.5 1513.8,1204.9 1514.1,1206.1 1514.4,1207.1 1514.8,1204.4 1515.1,1207.6 1515.4,1202.1 1515.7,1211.0 1516.0,1209.8 1516.4,1207.6 1516.7,1209.4 1517.0,1207.6 1517.3,1206.4 1517.6,1205.0 1518.0,1208.9 1518.3,1202.4 1518.6,1208.3 1518.9,1206.6 1519.2,1212.4 1519.6,1205.3 1519.9,1209.6 1520.2,1209.5 1520.5,1204.0 1520.8,1207.5 1521.2,1203.9 1521.5,1205.2 1521.8,1207.7 1522.1,1204.4 1522.4,1206.9 1522.8,1205.7 1523.1,1204.1 1523.4,1209.0 1523.7,1205.4 1524.0,1206.5 1524.4,1208.4 1524.7,1202.1 1525.0,1201.5 1525.3,1208.4 1525.6,1208.6 1526.0,1208.5 1526.3,1206.0 1526.6,1208.5 1526.9,1205.0 1527.2,1210.3 1527.6,1206.0 1527.9,1208.9 1528.2,1204.1 1528.5,1210.7 1528.8,1208.3 1529.2,1204.3 1529.5,1209.1 1529.8,1201.3 1530.1,1205.4 1530.4,1208.7 1530.8,1207.3 1531.1,1207.2 1531.4,1204.1 1531.7,1205.0 1532.0,1206.2 1532.4,1210.3 1532.7,1209.5 1533.0,1207.3 1533.3,1206.9 1533.6,1208.9 1534.0,1207.3 1534.3,1208.4 1534.6,1210.1 1534.9,1207.5 1535.2,1206.8 1535.6,1207.4 1535.9,1208.5 1536.2,1210.2 1536.5,1207.7 1536.8,1207.6 1537.2,1206.6 1537.5,1206.9 1537.8,1205.8 1538.1,1210.5 1538.4,1210.0 1538.8,1206.0 1539.1,1205.3 1539.4,1210.0 1539.7,1211.2 1540.0,1206.5 1540.4,1207.5 1540.7,1209.2 1541.0,1209.4 1541.3,1212.6 1541.6,1207.9 1542.0,1206.1 1542.3,1211.0 1542.6,1208.4 1542.9,1206.4 1543.2,1206.3 1543.6,1206.7 1543.9,1208.1 1544.2,1208.3 1544.5,1206.4 1544.8,1207.0 1545.2,1205.0 1545.5,1209.7 1545.8,1210.0 1546.1,1206.7 1546.4,1204.5 1546.8,1208.6 1547.1,1205.1 1547.4,1208.4 1547.7,1207.4 1548.0,1206.1 1548.4,1206.3 1548.7,1208.0 1549.0,1206.1 1549.3,1204.3 1549.6,1208.1 1550.0,1210.1 1550.3,1207.9 1550.6,1207.3 1550.9,1208.6 1551.2,1210.0 1551.6,1204.9 1551.9,1205.8 1552.2,1205.6 1552.5,1207.7 1552.8,1206.3 1553.2,1206.9 1553.5,1206.1 1553.8,1205.3 1554.1,1207.1 1554.4,1206.9 1554.8,1211.2 1555.1,1208.6 1555.4,1207.9 1555.7,1203.9 1556.0,1207.6 1556.4,1204.0 1556.7,1204.0 1557.0,1202.2 1557.3,1206.0 1557.6,1207.5 1558.0,1208.1 1558.3,1208.2 1558.6,1210.7 1558.9,1208.3 1559.2,1208.0 1559.6,1207.2 1559.9,1205.6 1560.2,1210.0 1560.5,1208.0 1560.8,1206.9 1561.2,1206.5 1561.5,1202.5 1561.8,1208.1 1562.1,1207.3 1562.4,1203.6 1562.8,1210.5 1563.1,1207.6 1563.4,1204.7 1563.7,1206.8 1564.0,1206.1 1564.4,1203.8 1564.7,1209.0 1565.0,1205.5 1565.3,1208.4 1565.6,1207.0 1566.0,1203.3 1566.3,1205.4 1566.6,1205.8 1566.9,1209.5 1567.2,1210.6 1567.6,1206.9 1567.9,1208.7 1568.2,1209.8 1568.5,1209.5 1568.8,1207.0 1569.2,1205.4 1569.5,1206.4 1569.8,1207.1 1570.1,1206.1 1570.4,1210.6 1570.8,1204.4 1571.1,1208.0 1571.4,1206.7 1571.7,1203.8 1572.0,1209.1 1572.4,1205.2 1572.7,1209.4 1573.0,1205.7 1573.3,1210.9 1573.6,1210.2 1574.0,1204.4 1574.3,1204.9 1574.6,1208.7 1574.9,1208.0 1575.2,1206.8 1575.6,1207.6 1575.9,1207.4 1576.2,1206.8 1576.5,1204.9 1576.8,1208.8 1577.2,1206.8 1577.5,1204.7 1577.8,1206.7 1578.1,1209.4 1578.4,1206.6 1578.8,1203.1 1579.1,1206.3 1579.4,1204.9 1579.7,1207.2 1580.0,1205.8 1580.4,1206.8 1580.7,1206.8 1581.0,1205.5 1581.3,1203.9 1581.6,1210.7 1582.0,1206.5 1582.3,1209.6 1582.6,1201.1 1582.9,1208.7 1583.2,1202.5 1583.6,1209.6 1583.9,1207.5 1584.2,1208.4 1584.5,1208.3 1584.8,1207.0 1585.2,1205.4 1585.5,1204.8 1585.8,1203.2 1586.1,1205.1 1586.4,1207.4 1586.8,1205.9 1587.1,1206.5 1587.4,1206.0 1587.7,1205.2 1588.0,1208.0 1588.4,1203.2 1588.7,1202.6 1589.0,1209.1 1589.3,1207.4 1589.6,1204.0 1590.0,1209.9 1590.3,1204.3 1590.6,1208.0 1590.9,1205.2 1591.2,1205.8 1591.6,1206.9 1591.9,1206.6 1592.2,1207.3 1592.5,1203.5 1592.8,1202.9 1593.2,1204.6 1593.5,1205.4 1593.8,1207.8 1594.1,1205.0 1594.4,1203.2 1594.8,1207.8 1595.1,1203.7 1595.4,1203.7 1595.7,1203.0 1596.0,1199.0 1596.4,1200.1 1596.7,1205.7 1597.0,1204.2 1597.3,1205.0 1597.6,1206.1 1598.0,1199.8 1598.3,1199.2 1598.6,1201.5 1598.9,1201.0 1599.2,1201.8 1599.6,1202.3 1599.9,1201.3 1600.2,1200.0 1600.5,1200.3 1600.8,1199.0 1601.2,1197.3 1601.5,1199.9 1601.8,1196.6 1602.1,1197.6 1602.4,1193.2 1602.8,1195.8 1603.1,1191.3 1603.4,1199.3 1603.7,1191.6 1604.0,1189.5 1604.4,1185.8 1604.7,1186.7 1605.0,1192.8 1605.3,1192.4 1605.6,1186.1 1606.0,1185.3 1606.3,1181.9 1606.6,1183.5 1606.9,1177.1 1607.2,1178.8 1607.6,1176.8 1607.9,1173.1 1608.2,1172.9 1608.5,1176.7 1608.8,1172.8 1609.2,1174.4 1609.5,1170.7 1609.8,1168.6 1610.1,1171.3 1610.4,1161.9 1610.8,1168.8 1611.1,1167.0 1611.4,1165.3 1611.7,1171.9 1612.0,1170.7 1612.4,1168.2 1612.7,1169.4 1613.0,1170.5 1613.3,1173.7 1613.6,1172.7 1614.0,1175.4 1614.3,1180.2 1614.6,1179.3 1614.9,1182.0 1615.2,1179.3 1615.6,1181.2 1615.9,1182.0 1616.2,1185.1 1616.5,1186.9 1616.8,1183.4 1617.2,1194.5 1617.5,1195.6 1617.8,1186.8 1618.1,1196.7 1618.4,1192.2 1618.8,1192.3 1619.1,1193.2 1619.4,1192.4 1619.7,1195.2 1620.0,1195.4 1620.4,1194.6 1620.7,1196.9 1621.0,1198.7 1621.3,1195.7 1621.6,1200.6 1622.0,1199.5 1622.3,1199.4 1622.6,1199.8 1622.9,1197.4 1623.2,1204.3 1623.6,1203.4 1623.9,1200.5 1624.2,1199.9 1624.5,1200.5 1624.8,1202.9 1625.2,1204.6 1625.5,1203.4 1625.8,1204.3 1626.1,1203.1 1626.4,1204.3 1626.8,1207.7 1627.1,1204.3 1627.4,1201.0 1627.7,1203.8 1628.0,1206.9 1628.4,1201.4 1628.7,1205.1 1629.0,1207.5 1629.3,1205.7 1629.6,1208.5 1630.0,1209.0 1630.3,1206.0 1630.6,1203.5 1630.9,1202.2 1631.2,1208.8 1631.6,1204.9 1631.9,1206.0 1632.2,1210.0 1632.5,1203.5 1632.8,1205.6 1633.2,1204.0 1633.5,1206.9 1633.8,1209.0 1634.1,1203.3 1634.4,1203.2 1634.8,1209.3 1635.1,1206.3 1635.4,1207.1 1635.7,1209.5 1636.0,1206.7 1636.4,1205.4 1636.7,1207.9 1637.0,1204.9 1637.3,1207.1 1637.6,1205.2 1638.0,1207.0 1638.3,1204.1 1638.6,1203.9 1638.9,1205.5 1639.2,1207.2 1639.6,1209.7 1639.9,1207.0 1640.2,1204.9 1640.5,1203.3 1640.8,1205.1 1641.2,1203.4 1641.5,1209.3 1641.8,1202.7 1642.1,1205.7 1642.4,1208.1 1642.8,1205.4 1643.1,1207.3 1643.4,1211.2 1643.7,1204.9 1644.0,1207.6 1644.4,1207.7 1644.7,1206.2 1645.0,1204.9 1645.3,1208.1 1645.6,1205.7 1646.0,1206.8 1646.3,1210.9 1646.6,1204.3 1646.9,1204.2 1647.2,1210.1 1647.6,1205.2 1647.9,1202.1 1648.2,1208.9 1648.5,1205.4 1648.8,1205.8 1649.2,1207.3 1649.5,1206.7 1649.8,1204.6 1650.1,1205.8 1650.4,1209.2 1650.8,1207.9 1651.1,1202.6 1651.4,1206.7 1651.7,1203.3 1652.0,1204.3 1652.4,1205.1 1652.7,1210.1 1653.0,1208.1 1653.3,1204.4 1653.6,1209.2 1654.0,1206.9 1654.3,1209.6 1654.6,1207.0 1654.9,1204.6 1655.2,1208.1 1655.6,1210.8 1655.9,1206.6 1656.2,1208.1 1656.5,1206.7 1656.8,1204.5 1657.2,1207.8 1657.5,1207.6 1657.8,1205.6 1658.1,1207.3 1658.4,1205.8 1658.8,1209.2 1659.1,1207.5 1659.4,1204.4 1659.7,1210.1 1660.0,1203.5 1660.4,1205.2 1660.7,1207.6 1661.0,1206.5 1661.3,1208.6 1661.6,1206.1 1662.0,1209.2 1662.3,1209.6 1662.6,1208.2 1662.9,1208.6 1663.2,1203.9 1663.6,1212.3 1663.9,1207.0 1664.2,1206.1 1664.5,1204.5 1664.8,1207.5 1665.2,1207.2 1665.5,1204.8 1665.8,1205.3 1666.1,1208.1 1666.4,1204.9 1666.8,1203.3 1667.1,1206.5 1667.4,1209.0 1667.7,1209.6 1668.0,1208.1 1668.4,1204.1 1668.7,1206.5 1669.0,1205.8 1669.3,1208.1 1669.6,1204.2 1670.0,1207.0 1670.3,1209.8 1670.6,1208.4 1670.9,1207.4 1671.2,1208.8 1671.6,1207.8 1671.9,1209.9 1672.2,1208.5 1672.5,1207.7 1672.8,1207.5 1673.2,1206.1 1673.5,1209.0 1673.8,1208.1 1674.1,1206.7 1674.4,1209.5 1674.8,1208.8 1675.1,1204.7 1675.4,1206.4 1675.7,1205.2 1676.0,1207.2 1676.4,1204.5 1676.7,1206.2 1677.0,1209.0 1677.3,1207.1 1677.6,1207.5 1678.0,1210.2 1678.3,1210.9 1678.6,1209.8 1678.9,1208.8 1679.2,1206.9 1679.6,1207.5 1679.9,1210.2 1680.2,1203.1 1680.5,1206.1 1680.8,1207.0 1681.2,1209.6 1681.5,1205.9 1681.8,1210.2 1682.1,1210.9 1682.4,1207.8 1682.8,1205.5 1683.1,1204.8 1683.4,1208.1 1683.7,1211.2 1684.0,1205.7 1684.4,1210.5 1684.7,1209.9 1685.0,1204.6 1685.3,1205.6 1685.6,1209.0 1686.0,1209.5 1686.3,1211.4 1686.6,1206.3 1686.9,1207.6 1687.2,1208.8 1687.6,1211.6 1687.9,1209.6 1688.2,1209.9 1688.5,1205.8 1688.8,1208.7 1689.2,1206.5 1689.5,1205.1 1689.8,1208.2 1690.1,1213.3 1690.4,1211.0 1690.8,1207.1 1691.1,1209.5 1691.4,1212.1 1691.7,1209.3 1692.0,1212.7 1692.4,1210.9 1692.7,1199.7 1693.0,1209.1 1693.3,1208.0 1693.6,1206.0 1694.0,1206.3 1694.3,1208.2 1694.6,1208.3 1694.9,1208.3 1695.2,1211.3 1695.6,1208.2 1695.9,1208.3 1696.2,1208.3 1696.5,1207.0 1696.8,1208.0 1697.2,1213.4 1697.5,1202.7 1697.8,1207.6 1698.1,1209.2 1698.4,1207.2 1698.8,1210.0 1699.1,1208.1 1699.4,1209.4 1699.7,1210.2 1700.0,1206.3 1700.4,1208.6 1700.7,1207.5 1701.0,1208.7 1701.3,1207.6 1701.6,1208.8 1702.0,1206.1 1702.3,1207.1 1702.6,1208.5 1702.9,1207.8 1703.2,1208.0 1703.6,1205.6 1703.9,1205.9 1704.2,1209.4 1704.5,1206.3 1704.8,1208.3 1705.2,1205.4 1705.5,1207.2 1705.8,1208.4 1706.1,1205.2 1706.4,1204.8 1706.8,1206.6 1707.1,1205.9 1707.4,1204.1 1707.7,1205.8 1708.0,1207.4 1708.4,1208.0 1708.7,1207.4 1709.0,1208.4 1709.3,1207.1 1709.6,1209.7 1710.0,1207.9 1710.3,1209.8 1710.6,1208.9 1710.9,1208.0 1711.2,1209.9 1711.6,1205.4 1711.9,1204.4 1712.2,1207.9 1712.5,1204.6 1712.8,1207.0 1713.2,1203.4 1713.5,1207.2 1713.8,1204.8 1714.1,1211.8 1714.4,1207.6 1714.8,1207.3 1715.1,1210.6 1715.4,1208.0 1715.7,1209.7 1716.0,1204.6 1716.4,1208.4 1716.7,1208.3 1717.0,1204.4 1717.3,1203.0 1717.6,1209.1 1718.0,1205.5 1718.3,1207.4 1718.6,1210.6 1718.9,1205.8 1719.2,1207.2 1719.6,1206.7 1719.9,1205.5 1720.2,1209.1"/>
<polyline id="curve-c" fill="none" stroke="#ec3e40" stroke-width="2.2" stroke-linejoin="round" stroke-linecap="butt" shape-rendering="crispEdges" points="214.6,707.3 214.9,708.1 215.2,708.2 215.6,709.2 215.9,714.4 216.2,708.5 216.5,714.0 216.8,714.9 217.2,712.0 217.5,710.9 217.8,714.3 218.1,716.1 218.4,718.3 218.8,716.1 219.1,717.8 219.4,714.0 219.7,713.4 220.0,710.3 220.4,713.3 220.7,715.0 221.0,716.2 221.3,713.3 221.6,717.7 222.0,716.0 222.3,715.0 222.6,714.8 222.9,720.6 223.2,717.0 223.6,714.9 223.9,714.9 224.2,720.7 224.5,715.9 224.8,719.6 225.2,720.2 225.5,712.7 225.8,720.1 226.1,717.1 226.4,715.4 226.8,716.1 227.1,719.0 227.4,718.7 227.7,718.9 228.0,716.7 228.4,722.1 228.7,721.4 229.0,722.2 229.3,720.6 229.6,722.5 230.0,723.0 230.3,720.2 230.6,720.7 230.9,720.2 231.2,720.2 231.6,720.9 231.9,715.8 232.2,718.7 232.5,720.4 232.8,715.2 233.2,716.6 233.5,722.9 233.8,717.6 234.1,718.9 234.4,720.6 234.8,719.0 235.1,718.3 235.4,719.1 235.7,719.3 236.0,719.1 236.4,720.7 236.7,723.7 237.0,721.2 237.3,723.8 237.6,722.1 238.0,722.4 238.3,721.9 238.6,720.2 238.9,721.7 239.2,721.6 239.6,718.8 239.9,722.6 240.2,722.3 240.5,721.9 240.8,720.1 241.2,716.0 241.5,724.3 241.8,721.2 242.1,717.1 242.4,722.9 242.8,720.2 243.1,723.7 243.4,721.5 243.7,724.1 244.0,722.3 244.4,722.4 244.7,722.2 245.0,725.7 245.3,719.4 245.6,724.4 246.0,723.5 246.3,721.0 246.6,722.2 246.9,721.3 247.2,722.4 247.6,724.2 247.9,721.0 248.2,723.9 248.5,724.4 248.8,723.8 249.2,725.7 249.5,722.4 249.8,724.7 250.1,727.7 250.4,722.7 250.8,722.3 251.1,722.8 251.4,724.0 251.7,721.6 252.0,722.3 252.4,719.3 252.7,720.8 253.0,720.9 253.3,720.6 253.6,722.1 254.0,724.4 254.3,721.9 254.6,720.4 254.9,723.6 255.2,723.5 255.6,720.3 255.9,723.5 256.2,721.1 256.5,722.0 256.8,721.8 257.2,725.0 257.5,721.7 257.8,722.7 258.1,723.8 258.4,725.5 258.8,725.9 259.1,721.4 259.4,725.9 259.7,724.2 260.0,726.0 260.4,725.8 260.7,722.6 261.0,723.8 261.3,723.1 261.6,724.5 262.0,727.1 262.3,723.9 262.6,722.5 262.9,729.0 263.2,721.9 263.6,723.9 263.9,723.9 264.2,721.4 264.5,726.4 264.8,727.3 265.2,723.9 265.5,724.2 265.8,723.8 266.1,720.6 266.4,724.7 266.8,721.7 267.1,722.3 267.4,725.1 267.7,726.2 268.0,722.6 268.4,726.7 268.7,728.0 269.0,724.8 269.3,724.3 269.6,724.9 270.0,723.3 270.3,722.8 270.6,725.9 270.9,726.1 271.2,723.6 271.6,723.9 271.9,723.5 272.2,723.3 272.5,722.8 272.8,721.8 273.2,726.7 273.5,724.2 273.8,725.0 274.1,728.6 274.4,724.0 274.8,726.1 275.1,722.3 275.4,723.8 275.7,726.5 276.0,724.6 276.4,720.8 276.7,722.1 277.0,726.2 277.3,723.3 277.6,726.6 278.0,725.8 278.3,724.6 278.6,725.2 278.9,726.9 279.2,725.4 279.6,723.5 279.9,726.1 280.2,724.4 280.5,725.0 280.8,726.7 281.2,726.2 281.5,727.6 281.8,725.2 282.1,724.7 282.4,725.0 282.8,726.5 283.1,724.1 283.4,725.1 283.7,723.3 284.0,724.3 284.4,725.3 284.7,730.7 285.0,725.2 285.3,726.7 285.6,726.2 286.0,725.7 286.3,726.1 286.6,730.0 286.9,725.6 287.2,729.3 287.6,727.5 287.9,724.5 288.2,724.9 288.5,725.3 288.8,724.1 289.2,728.6 289.5,727.2 289.8,728.0 290.1,724.4 290.4,727.4 290.8,725.4 291.1,731.3 291.4,726.4 291.7,727.1 292.0,727.4 292.4,725.7 292.7,725.9 293.0,725.9 293.3,728.4 293.6,724.6 294.0,726.3 294.3,727.5 294.6,726.0 294.9,724.2 295.2,724.5 295.6,726.1 295.9,724.1 296.2,729.8 296.5,727.0 296.8,727.0 297.2,725.1 297.5,728.1 297.8,726.4 298.1,725.3 298.4,725.9 298.8,731.9 299.1,726.0 299.4,725.6 299.7,729.6 300.0,728.8 300.4,726.8 300.7,730.1 301.0,724.5 301.3,726.5 301.6,724.2 302.0,730.2 302.3,727.6 302.6,732.7 302.9,728.5 303.2,728.6 303.6,725.4 303.9,725.3 304.2,726.7 304.5,729.5 304.8,725.7 305.2,723.1 305.5,729.4 305.8,729.6 306.1,726.0 306.4,728.7 306.8,730.1 307.1,730.2 307.4,724.8 307.7,728.0 308.0,726.4 308.4,729.9 308.7,728.2 309.0,725.6 309.3,728.2 309.6,729.2 310.0,725.0 310.3,725.4 310.6,726.8 310.9,727.5 311.2,727.0 311.6,724.6 311.9,725.1 312.2,728.2 312.5,729.1 312.8,726.5 313.2,728.6 313.5,732.1 313.8,728.0 314.1,727.5 314.4,727.0 314.8,729.4 315.1,729.0 315.4,729.1 315.7,727.8 316.0,729.4 316.4,729.5 316.7,728.4 317.0,732.1 317.3,725.7 317.6,730.2 318.0,728.6 318.3,730.5 318.6,732.7 318.9,729.0 319.2,728.6 319.6,729.0 319.9,731.8 320.2,732.1 320.5,729.4 320.8,731.0 321.2,732.7 321.5,730.3 321.8,726.2 322.1,727.6 322.4,728.3 322.8,730.1 323.1,728.2 323.4,732.2 323.7,728.5 324.0,732.6 324.4,728.2 324.7,732.2 325.0,729.9 325.3,732.4 325.6,733.5 326.0,733.1 326.3,731.8 326.6,728.2 326.9,728.1 327.2,723.9 327.6,732.8 327.9,732.4 328.2,731.9 328.5,727.6 328.8,735.5 329.2,728.6 329.5,731.7 329.8,726.8 330.1,728.8 330.4,732.6 330.8,732.2 331.1,728.0 331.4,730.0 331.7,732.4 332.0,726.5 332.4,731.8 332.7,727.1 333.0,731.6 333.3,729.8 333.6,732.3 334.0,729.3 334.3,729.7 334.6,729.7 334.9,728.5 335.2,729.8 335.6,728.4 335.9,729.3 336.2,731.8 336.5,729.8 336.8,732.7 337.2,732.0 337.5,733.1 337.8,728.3 338.1,731.4 338.4,733.5 338.8,733.4 339.1,733.2 339.4,733.8 339.7,727.7 340.0,731.9 340.4,731.9 340.7,730.4 341.0,728.2 341.3,731.2 341.6,730.6 342.0,734.9 342.3,733.6 342.6,730.1 342.9,728.9 343.2,729.3 343.6,730.9 343.9,729.6 344.2,735.1 344.5,728.7 344.8,730.9 345.2,731.5 345.5,732.1 345.8,729.4 346.1,730.8 346.4,731.7 346.8,732.0 347.1,730.2 347.4,730.8 347.7,731.9 348.0,735.3 348.4,729.0 348.7,732.9 349.0,734.7 349.3,728.7 349.6,734.5 350.0,734.5 350.3,731.8 350.6,733.7 350.9,734.7 351.2,731.5 351.6,732.3 351.9,729.7 352.2,730.5 352.5,732.0 352.8,731.8 353.2,735.2 353.5,731.6 353.8,729.6 354.1,733.9 354.4,735.0 354.8,732.9 355.1,731.9 355.4,730.6 355.7,730.9 356.0,735.3 356.4,733.8 356.7,732.5 357.0,733.2 357.3,731.6 357.6,730.5 358.0,731.4 358.3,732.3 358.6,729.1 358.9,729.5 359.2,729.0 359.6,731.6 359.9,733.7 360.2,729.8 360.5,730.2 360.8,729.3 361.2,731.6 361.5,730.1 361.8,729.5 362.1,730.3 362.4,737.1 362.8,732.4 363.1,731.3 363.4,731.7 363.7,734.4 364.0,734.7 364.4,733.3 364.7,728.8 365.0,735.8 365.3,735.0 365.6,734.4 366.0,734.3 366.3,733.1 366.6,735.3 366.9,732.3 367.2,735.1 367.6,732.0 367.9,732.3 368.2,732.2 368.5,732.0 368.8,732.1 369.2,734.7 369.5,736.3 369.8,731.8 370.1,731.1 370.4,737.0 370.8,732.6 371.1,733.8 371.4,733.6 371.7,736.1 372.0,730.7 372.4,735.7 372.7,735.0 373.0,729.0 373.3,733.1 373.6,732.3 374.0,734.3 374.3,733.3 374.6,732.0 374.9,732.9 375.2,734.3 375.6,733.7 375.9,733.3 376.2,738.1 376.5,734.7 376.8,731.4 377.2,734.0 377.5,734.4 377.8,731.8 378.1,734.0 378.4,732.1 378.8,729.3 379.1,734.5 379.4,735.1 379.7,735.1 380.0,733.6 380.4,732.7 380.7,734.4 381.0,735.2 381.3,735.8 381.6,736.7 382.0,735.6 382.3,732.8 382.6,733.9 382.9,731.2 383.2,735.5 383.6,735.2 383.9,736.5 384.2,735.1 384.5,737.3 384.8,732.0 385.2,734.8 385.5,733.6 385.8,733.7 386.1,730.6 386.4,732.6 386.8,730.1 387.1,733.5 387.4,732.8 387.7,734.4 388.0,730.5 388.4,733.1 388.7,733.4 389.0,727.2 389.3,737.5 389.6,735.1 390.0,732.6 390.3,738.0 390.6,736.9 390.9,729.2 391.2,733.6 391.6,732.9 391.9,734.3 392.2,732.3 392.5,733.7 392.8,734.4 393.2,729.2 393.5,734.5 393.8,737.1 394.1,734.5 394.4,736.6 394.8,737.5 395.1,734.9 395.4,735.5 395.7,735.1 396.0,733.5 396.4,738.9 396.7,735.7 397.0,735.5 397.3,736.3 397.6,737.4 398.0,731.7 398.3,732.4 398.6,734.7 398.9,735.5 399.2,732.0 399.6,731.7 399.9,736.0 400.2,735.9 400.5,733.9 400.8,733.9 401.2,733.2 401.5,732.1 401.8,732.7 402.1,734.8 402.4,734.1 402.8,736.4 403.1,731.8 403.4,731.0 403.7,735.6 404.0,732.6 404.4,733.8 404.7,734.5 405.0,731.9 405.3,731.4 405.6,735.0 406.0,729.0 406.3,735.7 406.6,730.9 406.9,736.1 407.2,735.1 407.6,735.0 407.9,735.5 408.2,734.8 408.5,731.7 408.8,736.2 409.2,734.8 409.5,735.5 409.8,734.3 410.1,734.0 410.4,736.4 410.8,736.5 411.1,735.1 411.4,732.2 411.7,732.7 412.0,732.6 412.4,736.9 412.7,735.7 413.0,734.8 413.3,734.4 413.6,733.2 414.0,736.4 414.3,732.7 414.6,733.1 414.9,736.5 415.2,736.1 415.6,734.7 415.9,732.3 416.2,732.3 416.5,736.6 416.8,735.7 417.2,737.9 417.5,734.0 417.8,734.8 418.1,733.1 418.4,740.0 418.8,731.6 419.1,736.3 419.4,738.3 419.7,733.1 420.0,732.1 420.4,733.0 420.7,732.1 421.0,736.1 421.3,734.9 421.6,733.2 422.0,734.2 422.3,738.1 422.6,734.6 422.9,734.3 423.2,739.0 423.6,733.3 423.9,733.7 424.2,738.1 424.5,735.2 424.8,731.2 425.2,733.4 425.5,730.5 425.8,733.8 426.1,735.8 426.4,731.8 426.8,738.2 427.1,737.7 427.4,736.8 427.7,733.6 428.0,735.2 428.4,736.3 428.7,737.1 429.0,737.8 429.3,730.8 429.6,733.7 430.0,732.8 430.3,734.5 430.6,735.6 430.9,739.9 431.2,734.9 431.6,737.1 431.9,735.5 432.2,735.2 432.5,738.8 432.8,733.0 433.2,736.7 433.5,739.5 433.8,744.0 434.1,734.2 434.4,733.4 434.8,731.4 435.1,734.5 435.4,735.3 435.7,735.4 436.0,737.7 436.4,734.7 436.7,736.0 437.0,732.0 437.3,734.0 437.6,735.1 438.0,730.5 438.3,735.6 438.6,737.2 438.9,735.6 439.2,735.8 439.6,735.4 439.9,733.0 440.2,735.5 440.5,734.3 440.8,735.6 441.2,735.6 441.5,735.7 441.8,732.8 442.1,735.4 442.4,739.1 442.8,737.4 443.1,735.0 443.4,734.0 443.7,737.5 444.0,735.5 444.4,731.9 444.7,734.6 445.0,739.0 445.3,732.1 445.6,735.7 446.0,734.0 446.3,735.4 446.6,734.7 446.9,733.7 447.2,730.2 447.6,735.1 447.9,735.6 448.2,735.3 448.5,733.3 448.8,734.3 449.2,740.1 449.5,733.2 449.8,734.9 450.1,733.0 450.4,735.1 450.8,736.1 451.1,738.1 451.4,736.1 451.7,735.6 452.0,736.4 452.4,736.8 452.7,735.6 453.0,735.6 453.3,738.2 453.6,734.2 454.0,735.5 454.3,733.8 454.6,734.6 454.9,740.2 455.2,734.3 455.6,736.8 455.9,740.1 456.2,736.8 456.5,735.4 456.8,734.1 457.2,730.5 457.5,733.8 457.8,733.9 458.1,737.7 458.4,737.2 458.8,733.1 459.1,737.6 459.4,734.5 459.7,739.6 460.0,738.9 460.4,737.2 460.7,735.0 461.0,741.3 461.3,737.7 461.6,738.3 462.0,737.1 462.3,735.5 462.6,737.7 462.9,734.3 463.2,737.7 463.6,736.5 463.9,732.7 464.2,737.1 464.5,736.0 464.8,735.3 465.2,735.9 465.5,737.7 465.8,733.8 466.1,733.9 466.4,737.6 466.8,736.5 467.1,732.5 467.4,736.4 467.7,732.6 468.0,737.5 468.4,736.7 468.7,737.1 469.0,732.9 469.3,734.5 469.6,737.9 470.0,731.7 470.3,737.1 470.6,735.6 470.9,736.4 471.2,734.4 471.6,737.3 471.9,736.9 472.2,737.9 472.5,741.2 472.8,735.7 473.2,736.3 473.5,734.0 473.8,739.8 474.1,735.5 474.4,737.8 474.8,733.9 475.1,735.7 475.4,737.5 475.7,737.2 476.0,735.7 476.4,738.1 476.7,736.5 477.0,738.5 477.3,735.9 477.6,737.7 478.0,735.4 478.3,739.0 478.6,736.4 478.9,736.5 479.2,735.2 479.6,738.5 479.9,736.8 480.2,736.0 480.5,739.2 480.8,734.9 481.2,738.5 481.5,739.5 481.8,732.9 482.1,738.3 482.4,737.6 482.8,736.9 483.1,737.2 483.4,733.9 483.7,737.5 484.0,736.9 484.4,733.4 484.7,736.1 485.0,734.0 485.3,736.6 485.6,734.6 486.0,736.7 486.3,733.5 486.6,735.3 486.9,735.6 487.2,736.0 487.6,738.8 487.9,740.9 488.2,733.3 488.5,738.2 488.8,735.9 489.2,735.9 489.5,735.9 489.8,736.2 490.1,736.3 490.4,738.2 490.8,739.1 491.1,737.3 491.4,736.6 491.7,737.7 492.0,737.4 492.4,740.3 492.7,734.6 493.0,732.3 493.3,736.0 493.6,737.2 494.0,736.1 494.3,737.0 494.6,731.2 494.9,734.9 495.2,735.1 495.6,733.7 495.9,735.2 496.2,736.0 496.5,737.2 496.8,734.6 497.2,733.0 497.5,737.6 497.8,740.3 498.1,736.7 498.4,736.7 498.8,734.4 499.1,736.9 499.4,739.7 499.7,732.5 500.0,738.5 500.4,732.5 500.7,739.5 501.0,738.9 501.3,735.5 501.6,737.1 502.0,739.9 502.3,734.4 502.6,739.0 502.9,737.8 503.2,736.6 503.6,739.5 503.9,733.3 504.2,736.4 504.5,734.2 504.8,736.5 505.2,737.7 505.5,733.4 505.8,737.2 506.1,737.2 506.4,735.5 506.8,736.5 507.1,738.9 507.4,737.3 507.7,740.0 508.0,734.6 508.4,734.2 508.7,739.1 509.0,734.0 509.3,739.2 509.6,736.7 510.0,738.1 510.3,736.0 510.6,738.9 510.9,739.5 511.2,739.2 511.6,737.8 511.9,734.1 512.2,738.8 512.5,737.0 512.8,739.5 513.2,733.8 513.5,737.7 513.8,736.0 514.1,736.8 514.4,738.6 514.8,738.5 515.1,739.8 515.4,737.8 515.7,738.0 516.0,737.9 516.4,734.6 516.7,739.1 517.0,735.3 517.3,735.9 517.6,737.8 518.0,735.6 518.3,736.0 518.6,731.9 518.9,735.2 519.2,734.7 519.6,735.7 519.9,738.0 520.2,736.4 520.5,736.6 520.8,737.2 521.2,739.0 521.5,739.1 521.8,737.8 522.1,736.5 522.4,738.8 522.8,736.4 523.1,736.6 523.4,737.6 523.7,736.0 524.0,734.8 524.4,734.5 524.7,736.4 525.0,737.5 525.3,738.4 525.6,735.5 526.0,737.5 526.3,737.2 526.6,736.2 526.9,742.2 527.2,735.7 527.6,735.5 527.9,737.4 528.2,740.3 528.5,736.5 528.8,739.9 529.2,735.2 529.5,736.4 529.8,736.9 530.1,736.7 530.4,737.4 530.8,737.1 531.1,736.9 531.4,735.3 531.7,738.3 532.0,737.4 532.4,737.8 532.7,739.8 533.0,738.4 533.3,737.9 533.6,740.3 534.0,736.5 534.3,734.3 534.6,736.3 534.9,735.0 535.2,736.9 535.6,737.0 535.9,737.3 536.2,738.0 536.5,738.7 536.8,738.3 537.2,737.7 537.5,736.8 537.8,736.4 538.1,737.4 538.4,736.9 538.8,735.2 539.1,736.5 539.4,738.7 539.7,737.4 540.0,735.7 540.4,737.8 540.7,738.6 541.0,735.2 541.3,740.6 541.6,739.6 542.0,737.0 542.3,739.5 542.6,737.8 542.9,738.6 543.2,735.5 543.6,736.3 543.9,736.8 544.2,737.1 544.5,736.3 544.8,734.1 545.2,734.0 545.5,738.1 545.8,736.1 546.1,740.5 546.4,739.8 546.8,736.6 547.1,737.5 547.4,733.4 547.7,738.4 548.0,739.2 548.4,735.4 548.7,735.4 549.0,735.8 549.3,738.3 549.6,738.9 550.0,734.8 550.3,736.0 550.6,737.8 550.9,737.1 551.2,735.8 551.6,737.6 551.9,734.6 552.2,733.4 552.5,737.6 552.8,737.7 553.2,738.8 553.5,735.0 553.8,733.9 554.1,735.5 554.4,734.9 554.8,735.0 555.1,734.0 555.4,736.6 555.7,733.7 556.0,736.9 556.4,729.1 556.7,728.2 557.0,731.7 557.3,725.8 557.6,725.1 558.0,724.6 558.3,720.6 558.6,728.4 558.9,731.8 559.2,729.8 559.6,731.3 559.9,729.5 560.2,729.0 560.5,733.2 560.8,730.2 561.2,730.0 561.5,732.1 561.8,736.7 562.1,735.6 562.4,734.6 562.8,733.1 563.1,733.6 563.4,736.5 563.7,735.7 564.0,734.4 564.4,738.4 564.7,734.8 565.0,732.9 565.3,735.7 565.6,738.5 566.0,737.8 566.3,738.2 566.6,734.7 566.9,737.3 567.2,736.7 567.6,735.7 567.9,734.1 568.2,739.0 568.5,736.7 568.8,735.4 569.2,738.0 569.5,741.6 569.8,733.5 570.1,737.0 570.4,740.2 570.8,740.2 571.1,734.4 571.4,735.4 571.7,732.4 572.0,736.4 572.4,733.3 572.7,734.3 573.0,739.2 573.3,734.0 573.6,732.8 574.0,736.4 574.3,736.9 574.6,736.9 574.9,738.8 575.2,735.1 575.6,736.2 575.9,738.5 576.2,735.7 576.5,739.4 576.8,738.5 577.2,736.6 577.5,736.2 577.8,736.7 578.1,737.6 578.4,732.6 578.8,733.9 579.1,734.1 579.4,734.8 579.7,735.2 580.0,735.2 580.4,736.6 580.7,735.8 581.0,737.4 581.3,737.0 581.6,736.3 582.0,735.5 582.3,734.8 582.6,737.9 582.9,735.4 583.2,736.7 583.6,737.9 583.9,736.7 584.2,733.0 584.5,733.8 584.8,740.2 585.2,732.8 585.5,738.6 585.8,733.8 586.1,736.2 586.4,738.2 586.8,733.9 587.1,738.0 587.4,731.4 587.7,735.6 588.0,734.6 588.4,736.7 588.7,737.5 589.0,738.3 589.3,738.2 589.6,735.0 590.0,733.9 590.3,736.7 590.6,734.7 590.9,731.4 591.2,731.2 591.6,734.1 591.9,734.8 592.2,735.8 592.5,736.0 592.8,732.3 593.2,736.2 593.5,733.2 593.8,736.4 594.1,735.5 594.4,738.7 594.8,736.2 595.1,734.3 595.4,734.4 595.7,735.5 596.0,736.6 596.4,737.0 596.7,733.6 597.0,733.3 597.3,737.0 597.6,735.4 598.0,737.6 598.3,736.4 598.6,738.9 598.9,736.7 599.2,732.8 599.6,734.5 599.9,736.5 600.2,733.1 600.5,735.3 600.8,736.7 601.2,737.6 601.5,737.1 601.8,732.0 602.1,737.7 602.4,733.3 602.8,735.3 603.1,733.4 603.4,737.1 603.7,734.9 604.0,735.6 604.4,735.9 604.7,734.8 605.0,733.6 605.3,737.9 605.6,736.1 606.0,736.5 606.3,731.1 606.6,730.5 606.9,738.2 607.2,736.2 607.6,730.8 607.9,735.7 608.2,734.6 608.5,732.2 608.8,732.8 609.2,738.1 609.5,732.6 609.8,735.1 610.1,731.2 610.4,730.6 610.8,741.5 611.1,735.2 611.4,732.5 611.7,732.7 612.0,732.8 612.4,730.9 612.7,734.1 613.0,734.4 613.3,731.9 613.6,732.6 614.0,729.7 614.3,733.1 614.6,727.8 614.9,731.8 615.2,735.1 615.6,731.0 615.9,737.6 616.2,728.7 616.5,730.4 616.8,730.6 617.2,732.5 617.5,732.9 617.8,730.2 618.1,723.9 618.4,732.4 618.8,730.1 619.1,730.0 619.4,723.7 619.7,728.1 620.0,725.8 620.4,728.8 620.7,730.8 621.0,721.5 621.3,722.1 621.6,721.1 622.0,717.4 622.3,718.9 622.6,716.6 622.9,710.1 623.2,707.0 623.6,706.4 623.9,696.3 624.2,697.4 624.5,693.5 624.8,687.2 625.2,674.5 625.5,675.6 625.8,667.8 626.1,649.1 626.4,650.3 626.8,640.7 627.1,631.9 627.4,620.0 627.7,623.0 628.0,614.1 628.4,620.1 628.7,628.6 629.0,632.4 629.3,637.2 629.6,648.0 630.0,655.0 630.3,664.9 630.6,669.6 630.9,675.9 631.2,684.7 631.6,688.9 631.9,701.3 632.2,708.4 632.5,708.7 632.8,715.1 633.2,710.5 633.5,715.4 633.8,713.6 634.1,721.4 634.4,721.6 634.8,720.1 635.1,727.1 635.4,724.5 635.7,727.3 636.0,728.3 636.4,730.1 636.7,730.3 637.0,727.9 637.3,727.7 637.6,727.1 638.0,726.5 638.3,733.2 638.6,728.2 638.9,732.9 639.2,728.0 639.6,728.6 639.9,732.5 640.2,730.1 640.5,728.9 640.8,736.0 641.2,728.1 641.5,729.3 641.8,732.6 642.1,734.6 642.4,731.3 642.8,729.6 643.1,736.4 643.4,731.6 643.7,730.3 644.0,732.0 644.4,734.4 644.7,726.5 645.0,729.7 645.3,733.6 645.6,733.2 646.0,732.3 646.3,731.9 646.6,733.5 646.9,734.6 647.2,731.1 647.6,731.5 647.9,734.0 648.2,731.7 648.5,729.7 648.8,732.1 649.2,730.2 649.5,733.8 649.8,734.4 650.1,731.3 650.4,732.4 650.8,733.4 651.1,735.4 651.4,734.9 651.7,733.4 652.0,733.6 652.4,735.8 652.7,734.3 653.0,734.1 653.3,730.8 653.6,733.5 654.0,734.0 654.3,733.3 654.6,731.0 654.9,729.4 655.2,735.0 655.6,734.4 655.9,733.4 656.2,731.3 656.5,732.1 656.8,732.9 657.2,734.6 657.5,733.3 657.8,731.4 658.1,732.0 658.4,730.6 658.8,736.8 659.1,731.6 659.4,736.1 659.7,733.7 660.0,736.9 660.4,730.9 660.7,734.6 661.0,731.2 661.3,731.2 661.6,731.5 662.0,730.3 662.3,731.1 662.6,732.4 662.9,736.3 663.2,732.0 663.6,728.2 663.9,734.1 664.2,735.7 664.5,727.4 664.8,733.7 665.2,729.8 665.5,728.8 665.8,734.0 666.1,735.6 666.4,736.4 666.8,732.7 667.1,731.8 667.4,732.9 667.7,733.8 668.0,734.4 668.4,736.9 668.7,733.3 669.0,733.7 669.3,732.9 669.6,730.8 670.0,733.3 670.3,735.5 670.6,734.9 670.9,727.7 671.2,735.5 671.6,730.4 671.9,737.0 672.2,736.7 672.5,733.5 672.8,735.9 673.2,729.4 673.5,731.4 673.8,730.3 674.1,732.4 674.4,731.7 674.8,732.0 675.1,731.7 675.4,734.6 675.7,731.3 676.0,730.2 676.4,731.3 676.7,732.0 677.0,731.8 677.3,728.5 677.6,729.5 678.0,729.8 678.3,728.2 678.6,726.6 678.9,728.6 679.2,724.1 679.6,729.0 679.9,726.6 680.2,728.5 680.5,728.8 680.8,733.2 681.2,733.2 681.5,733.6 681.8,728.4 682.1,726.8 682.4,729.6 682.8,724.9 683.1,726.8 683.4,724.9 683.7,726.2 684.0,727.7 684.4,722.9 684.7,725.6 685.0,725.0 685.3,724.5 685.6,724.7 686.0,722.0 686.3,722.2 686.6,721.0 686.9,717.5 687.2,724.6 687.6,722.1 687.9,721.6 688.2,717.8 688.5,712.3 688.8,719.5 689.2,716.2 689.5,722.9 689.8,724.8 690.1,716.8 690.4,721.5 690.8,719.9 691.1,717.8 691.4,714.0 691.7,719.6 692.0,720.3 692.4,720.3 692.7,715.8 693.0,717.8 693.3,717.7 693.6,717.4 694.0,715.4 694.3,719.4 694.6,717.6 694.9,714.6 695.2,716.1 695.6,716.8 695.9,714.3 696.2,713.3 696.5,713.5 696.8,708.0 697.2,710.6 697.5,705.2 697.8,705.7 698.1,706.4 698.4,699.1 698.8,700.8 699.1,696.0 699.4,694.2 699.7,680.8 700.0,674.0 700.4,670.7 700.7,672.1 701.0,659.5 701.3,648.3 701.6,638.8 702.0,628.6 702.3,613.3 702.6,605.1 702.9,584.9 703.2,562.6 703.6,545.6 703.9,533.2 704.2,516.7 704.5,504.6 704.8,491.4 705.2,480.9 705.5,464.4 705.8,468.8 706.1,466.1 706.4,476.9 706.8,482.2 707.1,509.0 707.4,522.0 707.7,535.2 708.0,547.0 708.4,572.4 708.7,585.6 709.0,594.5 709.3,616.4 709.6,630.2 710.0,640.5 710.3,640.2 710.6,660.9 710.9,670.0 711.2,672.0 711.6,683.7 711.9,687.2 712.2,693.3 712.5,689.2 712.8,697.0 713.2,702.3 713.5,697.2 713.8,706.1 714.1,712.5 714.4,705.2 714.8,714.9 715.1,714.8 715.4,711.3 715.7,712.6 716.0,713.4 716.4,717.5 716.7,711.6 717.0,720.0 717.3,715.1 717.6,718.7 718.0,719.1 718.3,722.7 718.6,718.8 718.9,719.7 719.2,725.1 719.6,726.7 719.9,722.9 720.2,722.5 720.5,724.3 720.8,724.2 721.2,724.3 721.5,722.2 721.8,719.5 722.1,725.7 722.4,725.2 722.8,728.3 723.1,728.4 723.4,729.9 723.7,725.0 724.0,728.0 724.4,723.6 724.7,727.3 725.0,728.0 725.3,725.2 725.6,726.8 726.0,732.9 726.3,725.4 726.6,729.8 726.9,726.7 727.2,729.7 727.6,722.1 727.9,724.8 728.2,727.4 728.5,733.7 728.8,727.7 729.2,725.4 729.5,727.3 729.8,730.1 730.1,724.9 730.4,728.6 730.8,728.1 731.1,727.6 731.4,729.5 731.7,727.0 732.0,730.0 732.4,730.2 732.7,732.7 733.0,729.7 733.3,728.8 733.6,726.5 734.0,727.2 734.3,726.2 734.6,732.2 734.9,724.0 735.2,730.1 735.6,730.2 735.9,730.7 736.2,728.2 736.5,734.1 736.8,728.5 737.2,725.7 737.5,727.8 737.8,727.6 738.1,732.1 738.4,729.1 738.8,727.2 739.1,726.2 739.4,728.9 739.7,728.2 740.0,729.0 740.4,731.4 740.7,726.1 741.0,727.0 741.3,729.7 741.6,725.9 742.0,730.5 742.3,732.2 742.6,729.4 742.9,730.9 743.2,728.4 743.6,729.1 743.9,729.7 744.2,728.9 744.5,731.7 744.8,727.9 745.2,730.8 745.5,727.8 745.8,732.1 746.1,731.6 746.4,729.1 746.8,725.1 747.1,726.0 747.4,718.8 747.7,729.3 748.0,726.0 748.4,725.1 748.7,726.5 749.0,722.7 749.3,724.5 749.6,725.6 750.0,728.3 750.3,729.7 750.6,721.9 750.9,725.6 751.2,720.7 751.6,719.8 751.9,722.9 752.2,721.5 752.5,717.6 752.8,721.1 753.2,726.1 753.5,719.4 753.8,719.7 754.1,724.9 754.4,722.9 754.8,720.9 755.1,724.3 755.4,722.3 755.7,721.4 756.0,725.4 756.4,722.7 756.7,727.1 757.0,729.3 757.3,724.3 757.6,724.5 758.0,724.7 758.3,726.5 758.6,724.9 758.9,727.1 759.2,728.8 759.6,724.7 759.9,728.2 760.2,729.9 760.5,729.3 760.8,725.4 761.2,730.3 761.5,725.3 761.8,729.7 762.1,723.9 762.4,728.8 762.8,726.6 763.1,726.7 763.4,726.5 763.7,725.2 764.0,728.4 764.4,728.0 764.7,729.1 765.0,725.4 765.3,728.8 765.6,729.4 766.0,725.0 766.3,729.8 766.6,730.4 766.9,724.2 767.2,724.7 767.6,732.3 767.9,727.5 768.2,726.3 768.5,723.5 768.8,728.0 769.2,725.3 769.5,727.1 769.8,726.6 770.1,727.1 770.4,727.4 770.8,725.1 771.1,726.6 771.4,726.7 771.7,724.4 772.0,723.3 772.4,725.3 772.7,728.1 773.0,723.6 773.3,722.7 773.6,724.2 774.0,721.9 774.3,722.8 774.6,722.0 774.9,720.1 775.2,721.8 775.6,718.1 775.9,716.8 776.2,712.3 776.5,715.6 776.8,717.1 777.2,718.5 777.5,719.9 777.8,712.6 778.1,710.3 778.4,715.3 778.8,704.5 779.1,709.2 779.4,705.9 779.7,707.9 780.0,701.0 780.4,700.6 780.7,693.2 781.0,694.7 781.3,695.0 781.6,692.3 782.0,690.9 782.3,695.6 782.6,687.9 782.9,687.4 783.2,688.5 783.6,691.5 783.9,691.9 784.2,695.1 784.5,695.5 784.8,704.2 785.2,698.9 785.5,702.2 785.8,706.0 786.1,712.3 786.4,707.3 786.8,706.9 787.1,713.4 787.4,711.1 787.7,709.4 788.0,710.7 788.4,714.6 788.7,713.3 789.0,720.4 789.3,719.6 789.6,725.4 790.0,720.5 790.3,719.8 790.6,722.8 790.9,723.2 791.2,720.0 791.6,726.5 791.9,723.3 792.2,726.0 792.5,722.2 792.8,727.3 793.2,729.1 793.5,723.6 793.8,722.1 794.1,724.9 794.4,725.0 794.8,726.3 795.1,721.4 795.4,727.4 795.7,725.8 796.0,724.6 796.4,722.7 796.7,725.9 797.0,727.9 797.3,726.6 797.6,726.7 798.0,725.8 798.3,726.4 798.6,722.8 798.9,729.1 799.2,728.2 799.6,725.4 799.9,726.1 800.2,723.0 800.5,724.2 800.8,727.0 801.2,724.6 801.5,723.7 801.8,725.5 802.1,727.5 802.4,723.9 802.8,727.2 803.1,727.5 803.4,727.6 803.7,727.4 804.0,726.5 804.4,725.8 804.7,728.5 805.0,723.4 805.3,729.1 805.6,723.7 806.0,726.0 806.3,727.0 806.6,722.7 806.9,727.6 807.2,728.9 807.6,724.3 807.9,726.2 808.2,728.3 808.5,728.2 808.8,728.8 809.2,723.4 809.5,726.3 809.8,729.3 810.1,723.7 810.4,724.1 810.8,726.5 811.1,726.6 811.4,723.8 811.7,724.7 812.0,726.5 812.4,727.1 812.7,730.7 813.0,728.9 813.3,727.5 813.6,727.0 814.0,728.6 814.3,732.6 814.6,726.4 814.9,725.3 815.2,724.7 815.6,727.2 815.9,724.8 816.2,723.2 816.5,725.6 816.8,725.6 817.2,729.3 817.5,730.6 817.8,726.4 818.1,726.4 818.4,729.6 818.8,727.5 819.1,726.7 819.4,729.2 819.7,724.7 820.0,728.9 820.4,731.9 820.7,724.6 821.0,728.6 821.3,727.1 821.6,730.3 822.0,729.7 822.3,725.9 822.6,727.3 822.9,725.9 823.2,729.8 823.6,725.8 823.9,727.4 824.2,729.5 824.5,726.7 824.8,725.4 825.2,725.2 825.5,725.5 825.8,727.2 826.1,727.0 826.4,729.0 826.8,727.5 827.1,730.2 827.4,729.3 827.7,730.7 828.0,726.6 828.4,725.4 828.7,730.6 829.0,728.8 829.3,723.7 829.6,726.8 830.0,728.9 830.3,730.5 830.6,732.9 830.9,730.4 831.2,728.6 831.6,727.1 831.9,726.4 832.2,726.7 832.5,725.8 832.8,728.1 833.2,730.3 833.5,729.2 833.8,726.1 834.1,729.6 834.4,730.5 834.8,727.9 835.1,727.7 835.4,728.3 835.7,729.2 836.0,724.2 836.4,726.5 836.7,725.6 837.0,728.3 837.3,729.3 837.6,727.2 838.0,730.4 838.3,728.7 838.6,728.9 838.9,728.7 839.2,726.0 839.6,731.9 839.9,728.9 840.2,725.1 840.5,729.7 840.8,730.3 841.2,725.9 841.5,728.8 841.8,733.4 842.1,729.7 842.4,728.9 842.8,728.7 843.1,729.6 843.4,726.7 843.7,727.8 844.0,729.3 844.4,728.7 844.7,731.5 845.0,725.1 845.3,733.0 845.6,727.8 846.0,727.4 846.3,728.7 846.6,731.0 846.9,728.4 847.2,731.6 847.6,731.3 847.9,729.1 848.2,728.7 848.5,728.7 848.8,729.6 849.2,726.2 849.5,732.0 849.8,729.3 850.1,729.7 850.4,727.5 850.8,728.0 851.1,732.3 851.4,725.5 851.7,729.8 852.0,727.8 852.4,726.0 852.7,730.7 853.0,727.5 853.3,730.7 853.6,728.5 854.0,724.9 854.3,729.0 854.6,726.8 854.9,728.7 855.2,728.5 855.6,730.0 855.9,729.3 856.2,728.6 856.5,727.9 856.8,726.2 857.2,724.9 857.5,729.6 857.8,726.7 858.1,728.1 858.4,730.5 858.8,730.9 859.1,730.9 859.4,729.6 859.7,730.1 860.0,730.1 860.4,729.8 860.7,726.9 861.0,729.9 861.3,731.2 861.6,729.2 862.0,729.6 862.3,724.4 862.6,727.3 862.9,734.2 863.2,727.3 863.6,730.6 863.9,731.9 864.2,731.4 864.5,729.8 864.8,729.4 865.2,726.9 865.5,733.0 865.8,729.7 866.1,731.9 866.4,726.4 866.8,725.6 867.1,725.5 867.4,731.2 867.7,729.0 868.0,729.0 868.4,730.1 868.7,729.9 869.0,729.9 869.3,728.2 869.6,727.6 870.0,729.9 870.3,731.7 870.6,728.5 870.9,729.9 871.2,729.0 871.6,730.6 871.9,727.3 872.2,733.6 872.5,733.4 872.8,730.0 873.2,729.5 873.5,726.3 873.8,731.7 874.1,730.2 874.4,730.3 874.8,726.6 875.1,731.3 875.4,733.7 875.7,727.7 876.0,729.5 876.4,732.5 876.7,731.4 877.0,731.5 877.3,735.7 877.6,733.0 878.0,730.5 878.3,724.4 878.6,729.7 878.9,727.3 879.2,727.5 879.6,732.7 879.9,727.9 880.2,729.8 880.5,733.0 880.8,728.7 881.2,729.0 881.5,727.7 881.8,729.2 882.1,726.8 882.4,730.6 882.8,728.7 883.1,731.1 883.4,731.4 883.7,730.0 884.0,730.4 884.4,729.4 884.7,731.3 885.0,732.1 885.3,731.2 885.6,733.1 886.0,730.7 886.3,730.3 886.6,732.0 886.9,727.1 887.2,729.4 887.6,726.2 887.9,730.9 888.2,732.3 888.5,727.8 888.8,728.9 889.2,729.2 889.5,732.9 889.8,731.3 890.1,733.2 890.4,731.9 890.8,732.0 891.1,726.6 891.4,726.3 891.7,733.3 892.0,735.5 892.4,728.1 892.7,727.3 893.0,733.1 893.3,735.0 893.6,728.4 894.0,729.3 894.3,732.8 894.6,731.5 894.9,731.5 895.2,732.5 895.6,728.3 895.9,728.8 896.2,733.9 896.5,727.2 896.8,732.5 897.2,729.6 897.5,733.5 897.8,730.4 898.1,730.2 898.4,733.0 898.8,730.6 899.1,730.6 899.4,725.6 899.7,731.8 900.0,730.3 900.4,732.9 900.7,729.8 901.0,728.3 901.3,733.6 901.6,730.7 902.0,730.2 902.3,727.9 902.6,733.8 902.9,732.8 903.2,728.7 903.6,732.4 903.9,732.0 904.2,733.4 904.5,730.9 904.8,735.5 905.2,726.6 905.5,727.4 905.8,732.3 906.1,732.8 906.4,731.8 906.8,738.9 907.1,731.7 907.4,727.4 907.7,734.4 908.0,731.2 908.4,730.2 908.7,732.4 909.0,732.3 909.3,730.2 909.6,732.8 910.0,731.9 910.3,730.7 910.6,730.8 910.9,726.4 911.2,728.4 911.6,729.1 911.9,729.9 912.2,734.0 912.5,730.6 912.8,729.7 913.2,727.5 913.5,729.3 913.8,728.2 914.1,727.9 914.4,730.3 914.8,726.4 915.1,728.3 915.4,732.0 915.7,730.1 916.0,727.8 916.4,728.0 916.7,728.0 917.0,732.4 917.3,732.2 917.6,733.0 918.0,728.4 918.3,728.9 918.6,731.0 918.9,726.5 919.2,727.7 919.6,731.1 919.9,727.5 920.2,726.9 920.5,729.8 920.8,728.1 921.2,727.2 921.5,728.8 921.8,724.5 922.1,730.0 922.4,728.7 922.8,729.0 923.1,728.6 923.4,729.6 923.7,723.8 924.0,727.9 924.4,731.0 924.7,725.8 925.0,725.3 925.3,725.5 925.6,723.5 926.0,732.7 926.3,725.9 926.6,728.0 926.9,723.7 927.2,724.0 927.6,721.9 927.9,721.6 928.2,723.8 928.5,727.5 928.8,722.7 929.2,727.6 929.5,728.8 929.8,725.2 930.1,726.4 930.4,726.4 930.8,721.4 931.1,721.3 931.4,717.6 931.7,720.4 932.0,724.1 932.4,721.2 932.7,719.5 933.0,718.1 933.3,716.3 933.6,716.7 934.0,722.3 934.3,719.4 934.6,715.7 934.9,713.1 935.2,710.5 935.6,713.8 935.9,707.9 936.2,706.1 936.5,704.0 936.8,706.2 937.2,699.5 937.5,699.9 937.8,688.5 938.1,683.0 938.4,675.2 938.8,672.1 939.1,658.9 939.4,650.9 939.7,645.6 940.0,629.9 940.4,611.6 940.7,595.0 941.0,570.4 941.3,550.8 941.6,540.0 942.0,511.6 942.3,492.9 942.6,483.6 942.9,459.6 943.2,458.5 943.6,454.3 943.9,461.1 944.2,470.4 944.5,490.8 944.8,507.6 945.2,529.2 945.5,541.9 945.8,564.7 946.1,585.7 946.4,606.9 946.8,621.7 947.1,632.0 947.4,640.5 947.7,656.2 948.0,661.7 948.4,670.4 948.7,678.8 949.0,685.3 949.3,689.7 949.6,699.5 950.0,699.3 950.3,699.6 950.6,705.3 950.9,703.0 951.2,710.5 951.6,712.8 951.9,714.5 952.2,711.1 952.5,717.9 952.8,718.6 953.2,722.2 953.5,719.8 953.8,719.2 954.1,719.3 954.4,718.9 954.8,718.8 955.1,720.0 955.4,724.9 955.7,722.3 956.0,723.3 956.4,722.6 956.7,725.1 957.0,726.7 957.3,726.7 957.6,722.6 958.0,725.2 958.3,731.2 958.6,727.3 958.9,726.5 959.2,725.5 959.6,723.5 959.9,722.7 960.2,726.5 960.5,727.5 960.8,724.7 961.2,727.5 961.5,729.2 961.8,730.0 962.1,730.8 962.4,724.9 962.8,729.0 963.1,729.9 963.4,729.0 963.7,725.9 964.0,725.3 964.4,732.9 964.7,727.8 965.0,729.9 965.3,727.9 965.6,727.6 966.0,730.4 966.3,731.6 966.6,729.5 966.9,729.1 967.2,731.7 967.6,729.4 967.9,729.4 968.2,728.8 968.5,730.5 968.8,729.7 969.2,729.6 969.5,729.4 969.8,730.6 970.1,732.8 970.4,729.9 970.8,728.4 971.1,735.0 971.4,732.5 971.7,729.3 972.0,726.6 972.4,733.0 972.7,728.8 973.0,730.3 973.3,724.9 973.6,732.1 974.0,733.0 974.3,730.1 974.6,730.0 974.9,730.1 975.2,727.9 975.6,728.1 975.9,732.8 976.2,729.9 976.5,730.6 976.8,730.5 977.2,732.5 977.5,730.6 977.8,732.0 978.1,732.4 978.4,729.7 978.8,730.6 979.1,731.9 979.4,733.0 979.7,732.2 980.0,732.4 980.4,729.0 980.7,730.1 981.0,732.0 981.3,730.6 981.6,731.0 982.0,731.4 982.3,734.5 982.6,729.4 982.9,733.1 983.2,732.8 983.6,731.9 983.9,729.9 984.2,731.4 984.5,730.4 984.8,733.2 985.2,731.5 985.5,731.7 985.8,729.7 986.1,734.0 986.4,727.4 986.8,736.4 987.1,729.3 987.4,730.1 987.7,730.4 988.0,728.3 988.4,733.4 988.7,729.7 989.0,728.1 989.3,734.1 989.6,732.3 990.0,727.6 990.3,728.3 990.6,731.1 990.9,731.5 991.2,732.6 991.6,731.0 991.9,733.9 992.2,733.7 992.5,732.3 992.8,731.6 993.2,733.9 993.5,734.5 993.8,732.2 994.1,731.5 994.4,733.2 994.8,730.6 995.1,732.4 995.4,733.3 995.7,729.4 996.0,730.1 996.4,727.7 996.7,730.5 997.0,732.7 997.3,730.7 997.6,732.7 998.0,731.8 998.3,730.2 998.6,734.5 998.9,731.5 999.2,733.9 999.6,732.7 999.9,731.8 1000.2,735.4 1000.5,730.7 1000.8,730.7 1001.2,734.6 1001.5,732.7 1001.8,730.5 1002.1,731.2 1002.4,729.4 1002.8,733.2 1003.1,734.3 1003.4,733.1 1003.7,733.5 1004.0,734.7 1004.4,732.4 1004.7,730.6 1005.0,730.7 1005.3,732.9 1005.6,732.6 1006.0,732.6 1006.3,729.8 1006.6,732.0 1006.9,735.0 1007.2,732.2 1007.6,734.6 1007.9,732.7 1008.2,731.6 1008.5,734.5 1008.8,735.6 1009.2,733.5 1009.5,734.7 1009.8,731.3 1010.1,729.8 1010.4,728.4 1010.8,732.1 1011.1,735.1 1011.4,730.9 1011.7,729.0 1012.0,732.0 1012.4,731.8 1012.7,731.7 1013.0,729.5 1013.3,734.8 1013.6,730.2 1014.0,730.9 1014.3,727.9 1014.6,732.3 1014.9,734.7 1015.2,733.1 1015.6,728.2 1015.9,732.2 1016.2,728.2 1016.5,729.9 1016.8,729.4 1017.2,731.7 1017.5,731.1 1017.8,729.2 1018.1,729.4 1018.4,734.1 1018.8,726.1 1019.1,728.0 1019.4,733.8 1019.7,729.3 1020.0,726.7 1020.4,730.0 1020.7,730.7 1021.0,726.3 1021.3,728.1 1021.6,727.0 1022.0,729.9 1022.3,728.8 1022.6,726.7 1022.9,730.1 1023.2,726.9 1023.6,732.7 1023.9,730.8 1024.2,727.3 1024.5,728.6 1024.8,730.8 1025.2,729.4 1025.5,725.9 1025.8,727.1 1026.1,727.3 1026.4,727.9 1026.8,724.6 1027.1,730.4 1027.4,734.8 1027.7,729.5 1028.0,729.6 1028.4,729.0 1028.7,730.8 1029.0,728.4 1029.3,729.2 1029.6,731.2 1030.0,725.2 1030.3,729.0 1030.6,734.1 1030.9,732.4 1031.2,731.1 1031.6,731.7 1031.9,725.6 1032.2,732.6 1032.5,730.5 1032.8,734.0 1033.2,732.7 1033.5,733.0 1033.8,728.5 1034.1,728.4 1034.4,736.1 1034.8,731.4 1035.1,731.1 1035.4,735.0 1035.7,734.1 1036.0,733.6 1036.4,735.9 1036.7,732.9 1037.0,731.9 1037.3,731.4 1037.6,727.9 1038.0,732.0 1038.3,732.0 1038.6,731.0 1038.9,737.4 1039.2,730.4 1039.6,731.5 1039.9,730.6 1040.2,731.4 1040.5,733.9 1040.8,731.6 1041.2,733.7 1041.5,737.7 1041.8,731.8 1042.1,731.3 1042.4,731.5 1042.8,735.3 1043.1,733.5 1043.4,733.4 1043.7,731.6 1044.0,731.1 1044.4,736.6 1044.7,736.2 1045.0,730.9 1045.3,730.8 1045.6,731.6 1046.0,731.7 1046.3,734.5 1046.6,735.6 1046.9,732.6 1047.2,730.9 1047.6,734.7 1047.9,735.8 1048.2,729.7 1048.5,733.3 1048.8,730.8 1049.2,730.8 1049.5,730.9 1049.8,735.6 1050.1,733.4 1050.4,731.3 1050.8,732.6 1051.1,733.5 1051.4,729.7 1051.7,734.0 1052.0,730.6 1052.4,731.1 1052.7,736.0 1053.0,727.0 1053.3,734.9 1053.6,735.0 1054.0,731.9 1054.3,735.1 1054.6,733.2 1054.9,731.0 1055.2,733.7 1055.6,731.8 1055.9,732.2 1056.2,731.0 1056.5,738.5 1056.8,735.2 1057.2,732.4 1057.5,729.9 1057.8,730.9 1058.1,730.3 1058.4,730.5 1058.8,732.4 1059.1,732.5 1059.4,736.2 1059.7,735.8 1060.0,729.8 1060.4,737.1 1060.7,730.6 1061.0,734.8 1061.3,733.0 1061.6,732.7 1062.0,733.2 1062.3,731.1 1062.6,728.5 1062.9,738.1 1063.2,728.9 1063.6,733.2 1063.9,728.3 1064.2,728.9 1064.5,724.7 1064.8,726.6 1065.2,727.4 1065.5,732.0 1065.8,735.9 1066.1,733.9 1066.4,735.3 1066.8,731.4 1067.1,731.9 1067.4,734.4 1067.7,729.3 1068.0,734.9 1068.4,732.7 1068.7,732.3 1069.0,737.5 1069.3,731.0 1069.6,735.8 1070.0,730.3 1070.3,730.2 1070.6,734.8 1070.9,735.1 1071.2,729.7 1071.6,733.0 1071.9,736.9 1072.2,732.8 1072.5,730.1 1072.8,732.1 1073.2,732.8 1073.5,732.4 1073.8,730.4 1074.1,731.5 1074.4,733.6 1074.8,734.1 1075.1,732.6 1075.4,733.7 1075.7,733.2 1076.0,729.6 1076.4,736.1 1076.7,735.7 1077.0,733.0 1077.3,732.5 1077.6,733.0 1078.0,733.2 1078.3,734.5 1078.6,734.8 1078.9,732.2 1079.2,730.7 1079.6,730.6 1079.9,736.2 1080.2,732.4 1080.5,730.3 1080.8,727.9 1081.2,734.0 1081.5,732.4 1081.8,732.6 1082.1,730.0 1082.4,731.2 1082.8,730.9 1083.1,732.4 1083.4,736.3 1083.7,731.1 1084.0,729.8 1084.4,734.2 1084.7,734.0 1085.0,731.3 1085.3,732.5 1085.6,730.6 1086.0,736.2 1086.3,733.3 1086.6,729.1 1086.9,734.2 1087.2,734.4 1087.6,729.3 1087.9,732.4 1088.2,732.3 1088.5,729.0 1088.8,728.6 1089.2,738.4 1089.5,730.1 1089.8,733.6 1090.1,733.9 1090.4,734.7 1090.8,734.4 1091.1,732.7 1091.4,730.8 1091.7,729.9 1092.0,733.5 1092.4,730.6 1092.7,734.6 1093.0,732.1 1093.3,735.1 1093.6,729.1 1094.0,736.1 1094.3,731.7 1094.6,733.5 1094.9,729.6 1095.2,733.9 1095.6,732.9 1095.9,734.8 1096.2,734.5 1096.5,736.9 1096.8,729.2 1097.2,731.6 1097.5,728.1 1097.8,732.3 1098.1,734.5 1098.4,734.5 1098.8,731.2 1099.1,729.3 1099.4,732.4 1099.7,733.7 1100.0,729.3 1100.4,732.6 1100.7,730.8 1101.0,733.3 1101.3,731.0 1101.6,734.7 1102.0,731.3 1102.3,732.7 1102.6,738.5 1102.9,726.9 1103.2,731.9 1103.6,732.2 1103.9,733.3 1104.2,733.5 1104.5,732.9 1104.8,731.1 1105.2,731.8 1105.5,733.7 1105.8,729.3 1106.1,734.6 1106.4,732.3 1106.8,735.2 1107.1,731.7 1107.4,733.5 1107.7,732.0 1108.0,734.5 1108.4,735.0 1108.7,731.4 1109.0,734.1 1109.3,732.3 1109.6,734.0 1110.0,731.5 1110.3,731.6 1110.6,733.5 1110.9,734.5 1111.2,733.0 1111.6,733.5 1111.9,731.6 1112.2,734.6 1112.5,732.4 1112.8,730.5 1113.2,735.9 1113.5,728.6 1113.8,735.3 1114.1,733.0 1114.4,733.7 1114.8,737.4 1115.1,731.5 1115.4,730.6 1115.7,729.9 1116.0,732.6 1116.4,735.1 1116.7,732.2 1117.0,732.5 1117.3,733.1 1117.6,732.0 1118.0,733.1 1118.3,729.9 1118.6,728.1 1118.9,730.9 1119.2,731.2 1119.6,735.9 1119.9,733.1 1120.2,730.2 1120.5,735.2 1120.8,735.2 1121.2,731.1 1121.5,736.8 1121.8,732.9 1122.1,731.0 1122.4,732.0 1122.8,734.1 1123.1,733.2 1123.4,730.1 1123.7,736.0 1124.0,732.3 1124.4,730.9 1124.7,732.1 1125.0,733.0 1125.3,736.0 1125.6,735.6 1126.0,726.9 1126.3,731.9 1126.6,732.6 1126.9,733.1 1127.2,734.5 1127.6,734.0 1127.9,730.2 1128.2,736.1 1128.5,734.1 1128.8,726.8 1129.2,734.7 1129.5,733.1 1129.8,729.6 1130.1,732.7 1130.4,733.8 1130.8,732.9 1131.1,730.9 1131.4,732.1 1131.7,731.9 1132.0,731.5 1132.4,733.6 1132.7,730.4 1133.0,732.9 1133.3,733.5 1133.6,734.5 1134.0,734.1 1134.3,731.8 1134.6,731.6 1134.9,731.2 1135.2,735.9 1135.6,731.5 1135.9,730.6 1136.2,731.6 1136.5,734.2 1136.8,734.5 1137.2,729.2 1137.5,734.8 1137.8,732.4 1138.1,736.3 1138.4,735.7 1138.8,731.2 1139.1,730.5 1139.4,730.5 1139.7,731.7 1140.0,733.3 1140.4,733.3 1140.7,733.5 1141.0,733.9 1141.3,732.0 1141.6,732.4 1142.0,733.4 1142.3,735.0 1142.6,732.0 1142.9,731.1 1143.2,734.1 1143.6,733.0 1143.9,733.5 1144.2,732.2 1144.5,733.4 1144.8,731.6 1145.2,730.7 1145.5,732.8 1145.8,729.3 1146.1,733.5 1146.4,736.5 1146.8,730.0 1147.1,729.7 1147.4,733.3 1147.7,730.6 1148.0,733.2 1148.4,731.8 1148.7,731.2 1149.0,733.8 1149.3,730.9 1149.6,731.0 1150.0,729.2 1150.3,733.3 1150.6,731.8 1150.9,730.9 1151.2,733.7 1151.6,731.8 1151.9,734.4 1152.2,733.8 1152.5,731.2 1152.8,730.8 1153.2,735.1 1153.5,732.0 1153.8,730.8 1154.1,731.9 1154.4,726.8 1154.8,732.5 1155.1,729.4 1155.4,733.3 1155.7,730.8 1156.0,732.5 1156.4,735.5 1156.7,734.6 1157.0,731.4 1157.3,732.9 1157.6,729.7 1158.0,732.8 1158.3,734.8 1158.6,734.0 1158.9,734.4 1159.2,733.0 1159.6,729.7 1159.9,732.1 1160.2,729.8 1160.5,734.1 1160.8,731.6 1161.2,731.0 1161.5,729.9 1161.8,732.6 1162.1,733.7 1162.4,732.8 1162.8,728.6 1163.1,733.0 1163.4,730.2 1163.7,727.0 1164.0,733.3 1164.4,732.3 1164.7,728.4 1165.0,733.8 1165.3,732.9 1165.6,735.5 1166.0,733.4 1166.3,732.1 1166.6,728.2 1166.9,736.3 1167.2,728.6 1167.6,730.8 1167.9,733.1 1168.2,731.0 1168.5,725.9 1168.8,730.8 1169.2,730.5 1169.5,733.7 1169.8,731.1 1170.1,734.5 1170.4,733.5 1170.8,733.7 1171.1,732.8 1171.4,736.3 1171.7,733.6 1172.0,733.5 1172.4,731.3 1172.7,730.4 1173.0,728.3 1173.3,726.9 1173.6,728.5 1174.0,732.9 1174.3,729.5 1174.6,730.7 1174.9,730.1 1175.2,731.1 1175.6,732.2 1175.9,734.5 1176.2,726.9 1176.5,735.7 1176.8,730.7 1177.2,729.5 1177.5,730.1 1177.8,733.8 1178.1,732.5 1178.4,733.9 1178.8,730.0 1179.1,734.0 1179.4,730.6 1179.7,732.0 1180.0,729.4 1180.4,730.2 1180.7,729.6 1181.0,732.9 1181.3,732.6 1181.6,725.0 1182.0,731.0 1182.3,731.0 1182.6,727.9 1182.9,726.7 1183.2,733.1 1183.6,729.5 1183.9,732.5 1184.2,732.3 1184.5,724.8 1184.8,733.5 1185.2,727.4 1185.5,729.1 1185.8,730.0 1186.1,731.2 1186.4,731.2 1186.8,729.5 1187.1,729.7 1187.4,731.1 1187.7,732.1 1188.0,729.2 1188.4,731.2 1188.7,731.0 1189.0,728.5 1189.3,729.1 1189.6,729.5 1190.0,735.0 1190.3,730.5 1190.6,731.6 1190.9,731.5 1191.2,728.2 1191.6,730.7 1191.9,726.0 1192.2,726.4 1192.5,730.5 1192.8,728.4 1193.2,730.0 1193.5,730.7 1193.8,733.9 1194.1,728.9 1194.4,729.4 1194.8,723.8 1195.1,732.0 1195.4,728.7 1195.7,727.3 1196.0,731.9 1196.4,728.5 1196.7,726.7 1197.0,726.2 1197.3,729.7 1197.6,730.3 1198.0,727.9 1198.3,727.4 1198.6,732.8 1198.9,726.5 1199.2,724.9 1199.6,728.8 1199.9,725.5 1200.2,723.5 1200.5,727.4 1200.8,725.2 1201.2,730.8 1201.5,727.3 1201.8,728.8 1202.1,729.3 1202.4,727.5 1202.8,728.4 1203.1,722.9 1203.4,723.2 1203.7,725.1 1204.0,727.9 1204.4,726.6 1204.7,726.9 1205.0,727.5 1205.3,724.6 1205.6,723.1 1206.0,723.0 1206.3,728.6 1206.6,720.8 1206.9,721.5 1207.2,725.9 1207.6,722.4 1207.9,726.4 1208.2,723.0 1208.5,724.9 1208.8,722.9 1209.2,726.5 1209.5,726.3 1209.8,729.2 1210.1,727.1 1210.4,727.1 1210.8,723.7 1211.1,725.1 1211.4,724.5 1211.7,721.8 1212.0,722.6 1212.4,725.7 1212.7,727.0 1213.0,730.4 1213.3,724.6 1213.6,723.0 1214.0,728.2 1214.3,725.6 1214.6,724.7 1214.9,725.0 1215.2,721.2 1215.6,726.5 1215.9,727.2 1216.2,726.7 1216.5,725.4 1216.8,726.4 1217.2,729.4 1217.5,723.9 1217.8,731.8 1218.1,726.9 1218.4,727.6 1218.8,732.5 1219.1,727.7 1219.4,726.1 1219.7,727.7 1220.0,724.0 1220.4,730.2 1220.7,727.2 1221.0,726.9 1221.3,725.2 1221.6,727.5 1222.0,728.7 1222.3,720.5 1222.6,723.0 1222.9,727.8 1223.2,725.0 1223.6,725.9 1223.9,723.2 1224.2,723.3 1224.5,728.7 1224.8,726.8 1225.2,727.1 1225.5,719.5 1225.8,725.8 1226.1,726.0 1226.4,726.1 1226.8,723.1 1227.1,727.0 1227.4,727.2 1227.7,724.0 1228.0,715.0 1228.4,723.3 1228.7,723.7 1229.0,724.6 1229.3,720.8 1229.6,723.5 1230.0,721.0 1230.3,720.8 1230.6,719.9 1230.9,721.1 1231.2,722.2 1231.6,720.5 1231.9,714.4 1232.2,718.2 1232.5,714.0 1232.8,714.5 1233.2,706.2 1233.5,713.0 1233.8,708.2 1234.1,706.5 1234.4,706.0 1234.8,700.1 1235.1,698.8 1235.4,693.2 1235.7,698.8 1236.0,692.9 1236.4,692.8 1236.7,691.2 1237.0,685.9 1237.3,688.6 1237.6,677.1 1238.0,680.0 1238.3,681.6 1238.6,675.8 1238.9,677.7 1239.2,675.3 1239.6,681.3 1239.9,681.1 1240.2,676.3 1240.5,678.5 1240.8,682.5 1241.2,682.8 1241.5,687.0 1241.8,687.9 1242.1,691.5 1242.4,689.8 1242.8,696.5 1243.1,700.9 1243.4,696.6 1243.7,703.5 1244.0,705.3 1244.4,708.0 1244.7,702.4 1245.0,709.3 1245.3,710.1 1245.6,714.4 1246.0,716.2 1246.3,709.5 1246.6,714.2 1246.9,718.1 1247.2,719.3 1247.6,720.5 1247.9,717.2 1248.2,719.0 1248.5,721.8 1248.8,724.5 1249.2,722.5 1249.5,720.0 1249.8,717.0 1250.1,721.7 1250.4,722.7 1250.8,723.3 1251.1,725.2 1251.4,725.7 1251.7,729.7 1252.0,724.9 1252.4,726.8 1252.7,729.3 1253.0,727.7 1253.3,724.1 1253.6,727.5 1254.0,722.8 1254.3,727.8 1254.6,728.1 1254.9,724.9 1255.2,728.8 1255.6,727.6 1255.9,725.2 1256.2,728.5 1256.5,725.0 1256.8,727.0 1257.2,723.4 1257.5,729.4 1257.8,725.6 1258.1,723.7 1258.4,725.8 1258.8,728.9 1259.1,730.7 1259.4,726.4 1259.7,724.8 1260.0,726.6 1260.4,726.2 1260.7,727.5 1261.0,725.9 1261.3,726.8 1261.6,721.2 1262.0,722.7 1262.3,725.1 1262.6,722.4 1262.9,723.0 1263.2,727.4 1263.6,724.7 1263.9,724.5 1264.2,724.3 1264.5,723.0 1264.8,722.6 1265.2,723.3 1265.5,724.8 1265.8,723.3 1266.1,723.4 1266.4,726.1 1266.8,723.2 1267.1,724.4 1267.4,722.9 1267.7,723.9 1268.0,718.6 1268.4,717.5 1268.7,722.0 1269.0,720.2 1269.3,721.0 1269.6,714.8 1270.0,724.1 1270.3,717.7 1270.6,723.1 1270.9,716.2 1271.2,716.1 1271.6,711.1 1271.9,718.0 1272.2,717.0 1272.5,715.8 1272.8,718.5 1273.2,715.6 1273.5,719.8 1273.8,719.2 1274.1,719.2 1274.4,717.2 1274.8,717.5 1275.1,723.1 1275.4,720.3 1275.7,721.0 1276.0,721.2 1276.4,721.1 1276.7,717.0 1277.0,723.4 1277.3,721.8 1277.6,721.3 1278.0,726.7 1278.3,729.7 1278.6,724.0 1278.9,725.9 1279.2,720.6 1279.6,727.9 1279.9,726.0 1280.2,728.0 1280.5,728.6 1280.8,725.8 1281.2,728.2 1281.5,726.5 1281.8,727.8 1282.1,727.4 1282.4,724.0 1282.8,725.2 1283.1,723.5 1283.4,723.4 1283.7,728.6 1284.0,730.8 1284.4,729.5 1284.7,727.2 1285.0,733.9 1285.3,729.7 1285.6,731.5 1286.0,728.0 1286.3,729.7 1286.6,726.4 1286.9,727.8 1287.2,725.5 1287.6,728.9 1287.9,727.4 1288.2,726.5 1288.5,730.3 1288.8,728.2 1289.2,728.0 1289.5,729.4 1289.8,727.1 1290.1,728.9 1290.4,728.5 1290.8,727.9 1291.1,728.6 1291.4,730.6 1291.7,729.4 1292.0,728.5 1292.4,727.2 1292.7,730.2 1293.0,731.6 1293.3,728.9 1293.6,726.5 1294.0,734.1 1294.3,729.5 1294.6,733.4 1294.9,725.8 1295.2,725.9 1295.6,727.2 1295.9,727.9 1296.2,723.6 1296.5,725.0 1296.8,729.2 1297.2,727.4 1297.5,730.0 1297.8,728.3 1298.1,727.1 1298.4,728.9 1298.8,729.2 1299.1,726.8 1299.4,730.3 1299.7,730.0 1300.0,729.8 1300.4,728.7 1300.7,729.1 1301.0,730.0 1301.3,730.2 1301.6,729.4 1302.0,733.0 1302.3,730.8 1302.6,733.0 1302.9,732.5 1303.2,727.0 1303.6,734.3 1303.9,726.2 1304.2,730.6 1304.5,728.5 1304.8,729.2 1305.2,731.8 1305.5,732.9 1305.8,730.9 1306.1,728.5 1306.4,730.5 1306.8,729.4 1307.1,729.1 1307.4,727.7 1307.7,728.4 1308.0,731.4 1308.4,727.8 1308.7,726.9 1309.0,730.7 1309.3,730.5 1309.6,728.4 1310.0,732.8 1310.3,730.2 1310.6,730.4 1310.9,724.0 1311.2,730.2 1311.6,732.2 1311.9,727.2 1312.2,731.4 1312.5,729.1 1312.8,728.4 1313.2,728.7 1313.5,726.5 1313.8,724.8 1314.1,725.2 1314.4,731.7 1314.8,730.0 1315.1,723.8 1315.4,730.9 1315.7,730.4 1316.0,728.7 1316.4,730.8 1316.7,730.8 1317.0,730.2 1317.3,733.0 1317.6,727.8 1318.0,729.9 1318.3,733.1 1318.6,734.1 1318.9,730.1 1319.2,733.5 1319.6,728.5 1319.9,726.7 1320.2,731.4 1320.5,732.6 1320.8,728.8 1321.2,732.3 1321.5,726.4 1321.8,727.3 1322.1,728.3 1322.4,729.3 1322.8,729.9 1323.1,730.2 1323.4,731.4 1323.7,727.2 1324.0,728.2 1324.4,733.3 1324.7,729.3 1325.0,731.3 1325.3,730.1 1325.6,729.5 1326.0,730.9 1326.3,727.9 1326.6,730.1 1326.9,731.1 1327.2,730.3 1327.6,728.8 1327.9,728.2 1328.2,729.0 1328.5,731.8 1328.8,730.4 1329.2,728.0 1329.5,732.3 1329.8,728.1 1330.1,731.1 1330.4,728.5 1330.8,725.6 1331.1,728.1 1331.4,727.5 1331.7,728.4 1332.0,728.4 1332.4,727.6 1332.7,729.1 1333.0,728.5 1333.3,726.1 1333.6,729.5 1334.0,729.6 1334.3,727.6 1334.6,728.5 1334.9,727.6 1335.2,727.0 1335.6,728.2 1335.9,729.8 1336.2,729.4 1336.5,725.4 1336.8,728.1 1337.2,730.1 1337.5,731.0 1337.8,727.4 1338.1,729.2 1338.4,728.3 1338.8,725.5 1339.1,728.8 1339.4,726.3 1339.7,725.1 1340.0,731.3 1340.4,730.4 1340.7,728.4 1341.0,725.0 1341.3,729.8 1341.6,726.9 1342.0,728.4 1342.3,727.1 1342.6,727.9 1342.9,724.1 1343.2,727.2 1343.6,727.6 1343.9,729.7 1344.2,722.7 1344.5,731.2 1344.8,731.6 1345.2,726.5 1345.5,724.5 1345.8,729.1 1346.1,722.3 1346.4,725.5 1346.8,728.2 1347.1,729.8 1347.4,727.8 1347.7,726.0 1348.0,725.5 1348.4,726.0 1348.7,727.8 1349.0,720.1 1349.3,724.6 1349.6,725.2 1350.0,723.5 1350.3,724.4 1350.6,727.3 1350.9,723.6 1351.2,723.2 1351.6,727.2 1351.9,723.7 1352.2,722.5 1352.5,720.1 1352.8,722.9 1353.2,719.5 1353.5,722.1 1353.8,724.4 1354.1,721.6 1354.4,722.6 1354.8,724.2 1355.1,725.4 1355.4,727.3 1355.7,726.4 1356.0,724.7 1356.4,724.2 1356.7,723.0 1357.0,721.4 1357.3,717.2 1357.6,723.9 1358.0,721.2 1358.3,726.1 1358.6,719.8 1358.9,718.8 1359.2,721.2 1359.6,726.1 1359.9,722.8 1360.2,722.6 1360.5,726.2 1360.8,723.4 1361.2,724.9 1361.5,723.2 1361.8,723.9 1362.1,732.9 1362.4,720.2 1362.8,728.1 1363.1,719.5 1363.4,720.0 1363.7,728.3 1364.0,724.4 1364.4,724.9 1364.7,728.0 1365.0,723.9 1365.3,721.1 1365.6,725.6 1366.0,723.5 1366.3,729.2 1366.6,726.1 1366.9,726.9 1367.2,722.3 1367.6,726.0 1367.9,726.4 1368.2,727.4 1368.5,723.2 1368.8,727.2 1369.2,728.6 1369.5,725.4 1369.8,725.0 1370.1,727.4 1370.4,728.5 1370.8,725.6 1371.1,728.5 1371.4,730.4 1371.7,727.5 1372.0,726.2 1372.4,728.4 1372.7,729.9 1373.0,729.5 1373.3,727.0 1373.6,728.2 1374.0,725.2 1374.3,726.7 1374.6,725.5 1374.9,725.2 1375.2,726.4 1375.6,725.3 1375.9,726.5 1376.2,726.4 1376.5,723.8 1376.8,725.2 1377.2,727.7 1377.5,725.5 1377.8,730.3 1378.1,731.5 1378.4,728.2 1378.8,727.1 1379.1,727.2 1379.4,723.0 1379.7,725.3 1380.0,721.8 1380.4,727.2 1380.7,728.2 1381.0,726.6 1381.3,725.7 1381.6,724.5 1382.0,726.9 1382.3,723.3 1382.6,729.4 1382.9,723.0 1383.2,722.2 1383.6,725.0 1383.9,726.2 1384.2,724.1 1384.5,725.1 1384.8,726.2 1385.2,723.8 1385.5,727.5 1385.8,724.9 1386.1,727.0 1386.4,723.8 1386.8,721.2 1387.1,726.3 1387.4,727.9 1387.7,723.2 1388.0,724.6 1388.4,721.8 1388.7,721.1 1389.0,727.7 1389.3,728.0 1389.6,723.2 1390.0,728.6 1390.3,723.0 1390.6,725.5 1390.9,724.2 1391.2,724.3 1391.6,718.5 1391.9,727.3 1392.2,721.6 1392.5,723.3 1392.8,726.0 1393.2,720.4 1393.5,723.0 1393.8,722.8 1394.1,722.5 1394.4,719.9 1394.8,723.5 1395.1,717.6 1395.4,722.0 1395.7,725.8 1396.0,721.9 1396.4,718.2 1396.7,721.6 1397.0,717.7 1397.3,718.6 1397.6,720.7 1398.0,718.0 1398.3,719.0 1398.6,713.8 1398.9,718.5 1399.2,720.8 1399.6,712.7 1399.9,716.6 1400.2,719.5 1400.5,716.9 1400.8,715.4 1401.2,714.9 1401.5,714.5 1401.8,715.2 1402.1,716.5 1402.4,711.5 1402.8,708.4 1403.1,711.5 1403.4,709.2 1403.7,706.7 1404.0,704.7 1404.4,700.9 1404.7,696.3 1405.0,701.4 1405.3,693.5 1405.6,690.8 1406.0,689.7 1406.3,691.0 1406.6,690.8 1406.9,687.9 1407.2,689.2 1407.6,676.1 1407.9,684.7 1408.2,677.1 1408.5,679.1 1408.8,668.4 1409.2,672.1 1409.5,677.3 1409.8,668.7 1410.1,675.3 1410.4,670.0 1410.8,671.7 1411.1,666.1 1411.4,670.9 1411.7,678.0 1412.0,678.0 1412.4,673.9 1412.7,678.0 1413.0,678.8 1413.3,684.0 1413.6,686.7 1414.0,686.9 1414.3,687.3 1414.6,691.1 1414.9,692.7 1415.2,694.3 1415.6,696.0 1415.9,691.6 1416.2,697.9 1416.5,699.3 1416.8,704.8 1417.2,704.6 1417.5,707.6 1417.8,707.9 1418.1,705.3 1418.4,710.2 1418.8,710.6 1419.1,714.2 1419.4,711.9 1419.7,716.2 1420.0,712.1 1420.4,717.1 1420.7,716.5 1421.0,715.6 1421.3,713.8 1421.6,713.2 1422.0,724.0 1422.3,715.8 1422.6,721.8 1422.9,718.2 1423.2,720.9 1423.6,721.6 1423.9,719.6 1424.2,722.3 1424.5,718.4 1424.8,723.5 1425.2,724.6 1425.5,720.2 1425.8,722.4 1426.1,722.9 1426.4,722.7 1426.8,722.8 1427.1,721.5 1427.4,722.9 1427.7,721.0 1428.0,721.1 1428.4,724.3 1428.7,721.5 1429.0,721.7 1429.3,720.7 1429.6,725.2 1430.0,720.3 1430.3,726.6 1430.6,728.6 1430.9,723.4 1431.2,724.6 1431.6,727.8 1431.9,722.6 1432.2,722.3 1432.5,725.5 1432.8,723.9 1433.2,729.6 1433.5,720.9 1433.8,719.5 1434.1,724.2 1434.4,723.2 1434.8,720.5 1435.1,725.9 1435.4,724.2 1435.7,729.3 1436.0,719.8 1436.4,720.5 1436.7,723.4 1437.0,722.6 1437.3,727.3 1437.6,724.5 1438.0,726.2 1438.3,721.1 1438.6,724.3 1438.9,724.8 1439.2,724.5 1439.6,723.9 1439.9,723.0 1440.2,728.8 1440.5,723.7 1440.8,723.5 1441.2,721.6 1441.5,722.6 1441.8,723.6 1442.1,719.5 1442.4,726.0 1442.8,721.9 1443.1,724.8 1443.4,718.3 1443.7,723.2 1444.0,717.2 1444.4,721.8 1444.7,722.8 1445.0,725.2 1445.3,715.3 1445.6,721.1 1446.0,722.2 1446.3,715.1 1446.6,713.4 1446.9,713.9 1447.2,716.4 1447.6,712.5 1447.9,710.7 1448.2,715.8 1448.5,713.5 1448.8,710.6 1449.2,711.6 1449.5,704.8 1449.8,707.2 1450.1,708.3 1450.4,707.7 1450.8,702.8 1451.1,706.2 1451.4,697.9 1451.7,700.8 1452.0,698.7 1452.4,704.5 1452.7,705.2 1453.0,699.6 1453.3,692.0 1453.6,691.9 1454.0,699.0 1454.3,704.5 1454.6,694.4 1454.9,696.8 1455.2,691.7 1455.6,691.5 1455.9,699.5 1456.2,704.2 1456.5,698.4 1456.8,698.7 1457.2,699.2 1457.5,698.6 1457.8,699.7 1458.1,705.7 1458.4,704.1 1458.8,704.7 1459.1,705.5 1459.4,703.1 1459.7,705.6 1460.0,708.8 1460.4,707.4 1460.7,705.7 1461.0,712.7 1461.3,712.4 1461.6,710.3 1462.0,712.7 1462.3,716.0 1462.6,714.9 1462.9,717.1 1463.2,716.6 1463.6,718.3 1463.9,718.1 1464.2,719.0 1464.5,720.5 1464.8,721.2 1465.2,723.3 1465.5,723.6 1465.8,719.1 1466.1,715.1 1466.4,720.0 1466.8,723.6 1467.1,721.0 1467.4,719.4 1467.7,717.1 1468.0,719.9 1468.4,722.2 1468.7,723.1 1469.0,720.3 1469.3,718.2 1469.6,726.1 1470.0,717.1 1470.3,726.3 1470.6,722.1 1470.9,720.7 1471.2,719.5 1471.6,721.9 1471.9,719.2 1472.2,722.5 1472.5,719.9 1472.8,722.7 1473.2,718.9 1473.5,717.8 1473.8,717.3 1474.1,724.0 1474.4,720.5 1474.8,719.8 1475.1,723.9 1475.4,717.0 1475.7,720.6 1476.0,719.8 1476.4,718.7 1476.7,719.4 1477.0,718.1 1477.3,720.4 1477.6,713.1 1478.0,709.9 1478.3,713.6 1478.6,708.9 1478.9,714.2 1479.2,707.2 1479.6,709.8 1479.9,710.6 1480.2,703.5 1480.5,700.7 1480.8,697.7 1481.2,697.2 1481.5,691.8 1481.8,694.0 1482.1,694.4 1482.4,683.3 1482.8,692.7 1483.1,680.6 1483.4,680.6 1483.7,679.0 1484.0,674.0 1484.4,681.3 1484.7,669.3 1485.0,673.5 1485.3,670.8 1485.6,677.3 1486.0,682.3 1486.3,683.2 1486.6,678.2 1486.9,684.0 1487.2,686.2 1487.6,688.8 1487.9,688.0 1488.2,696.2 1488.5,691.6 1488.8,705.5 1489.2,702.1 1489.5,702.6 1489.8,703.8 1490.1,711.6 1490.4,708.3 1490.8,714.2 1491.1,709.5 1491.4,712.9 1491.7,713.2 1492.0,716.4 1492.4,719.1 1492.7,714.2 1493.0,721.4 1493.3,717.2 1493.6,720.3 1494.0,716.2 1494.3,719.7 1494.6,719.9 1494.9,721.6 1495.2,725.9 1495.6,724.0 1495.9,722.9 1496.2,724.0 1496.5,723.7 1496.8,722.2 1497.2,723.8 1497.5,729.8 1497.8,725.3 1498.1,724.8 1498.4,727.8 1498.8,722.3 1499.1,723.3 1499.4,721.3 1499.7,725.5 1500.0,724.7 1500.4,721.3 1500.7,723.5 1501.0,724.2 1501.3,723.6 1501.6,729.7 1502.0,726.2 1502.3,725.6 1502.6,727.3 1502.9,727.6 1503.2,721.7 1503.6,723.2 1503.9,725.3 1504.2,720.0 1504.5,726.1 1504.8,724.8 1505.2,724.0 1505.5,725.8 1505.8,727.8 1506.1,727.2 1506.4,725.6 1506.8,726.0 1507.1,727.7 1507.4,724.4 1507.7,727.3 1508.0,724.6 1508.4,725.8 1508.7,727.5 1509.0,726.0 1509.3,722.9 1509.6,726.0 1510.0,723.2 1510.3,724.6 1510.6,725.1 1510.9,726.4 1511.2,724.7 1511.6,729.8 1511.9,727.1 1512.2,727.5 1512.5,726.7 1512.8,727.4 1513.2,724.4 1513.5,725.4 1513.8,730.2 1514.1,728.8 1514.4,727.2 1514.8,730.5 1515.1,723.8 1515.4,723.4 1515.7,724.1 1516.0,728.0 1516.4,722.1 1516.7,728.0 1517.0,725.0 1517.3,728.5 1517.6,729.0 1518.0,726.9 1518.3,724.0 1518.6,724.4 1518.9,729.6 1519.2,728.5 1519.6,726.3 1519.9,727.0 1520.2,730.8 1520.5,727.7 1520.8,730.2 1521.2,726.0 1521.5,725.8 1521.8,725.2 1522.1,726.5 1522.4,729.7 1522.8,723.2 1523.1,729.7 1523.4,725.2 1523.7,728.4 1524.0,724.9 1524.4,726.5 1524.7,732.9 1525.0,725.4 1525.3,727.4 1525.6,726.0 1526.0,722.6 1526.3,728.5 1526.6,725.8 1526.9,724.0 1527.2,725.8 1527.6,729.1 1527.9,722.5 1528.2,729.5 1528.5,722.7 1528.8,728.3 1529.2,724.8 1529.5,723.9 1529.8,731.3 1530.1,727.3 1530.4,727.8 1530.8,724.5 1531.1,731.0 1531.4,729.1 1531.7,727.3 1532.0,725.8 1532.4,728.7 1532.7,724.6 1533.0,728.9 1533.3,728.8 1533.6,729.2 1534.0,722.3 1534.3,727.7 1534.6,726.4 1534.9,725.5 1535.2,728.9 1535.6,725.6 1535.9,726.9 1536.2,728.1 1536.5,726.6 1536.8,730.2 1537.2,728.1 1537.5,729.4 1537.8,724.2 1538.1,728.7 1538.4,727.2 1538.8,730.0 1539.1,726.4 1539.4,728.7 1539.7,725.4 1540.0,726.0 1540.4,725.0 1540.7,731.2 1541.0,725.1 1541.3,727.2 1541.6,726.8 1542.0,726.4 1542.3,728.7 1542.6,727.9 1542.9,726.9 1543.2,727.4 1543.6,730.1 1543.9,725.7 1544.2,724.3 1544.5,725.8 1544.8,729.1 1545.2,729.2 1545.5,725.5 1545.8,727.8 1546.1,725.7 1546.4,728.2 1546.8,725.6 1547.1,728.1 1547.4,726.9 1547.7,723.2 1548.0,726.3 1548.4,725.7 1548.7,731.9 1549.0,725.9 1549.3,728.6 1549.6,724.3 1550.0,732.2 1550.3,730.5 1550.6,726.5 1550.9,724.7 1551.2,726.2 1551.6,724.5 1551.9,728.6 1552.2,722.4 1552.5,727.8 1552.8,731.2 1553.2,728.6 1553.5,730.6 1553.8,727.9 1554.1,726.9 1554.4,726.5 1554.8,725.9 1555.1,731.2 1555.4,725.6 1555.7,725.2 1556.0,728.3 1556.4,727.0 1556.7,730.3 1557.0,729.3 1557.3,732.2 1557.6,721.4 1558.0,727.8 1558.3,726.7 1558.6,726.1 1558.9,727.5 1559.2,727.3 1559.6,727.8 1559.9,727.5 1560.2,730.1 1560.5,731.7 1560.8,725.5 1561.2,727.1 1561.5,728.2 1561.8,726.9 1562.1,725.3 1562.4,727.5 1562.8,723.7 1563.1,728.4 1563.4,724.3 1563.7,725.3 1564.0,726.7 1564.4,731.0 1564.7,730.4 1565.0,728.3 1565.3,730.1 1565.6,728.5 1566.0,725.4 1566.3,726.9 1566.6,726.8 1566.9,725.1 1567.2,728.4 1567.6,726.1 1567.9,725.6 1568.2,726.6 1568.5,727.0 1568.8,724.3 1569.2,729.2 1569.5,728.7 1569.8,723.2 1570.1,725.7 1570.4,731.5 1570.8,724.2 1571.1,727.5 1571.4,729.1 1571.7,722.1 1572.0,729.6 1572.4,726.9 1572.7,727.6 1573.0,726.5 1573.3,729.2 1573.6,730.7 1574.0,730.5 1574.3,726.3 1574.6,726.1 1574.9,728.1 1575.2,725.7 1575.6,727.6 1575.9,724.6 1576.2,725.3 1576.5,727.2 1576.8,726.9 1577.2,723.4 1577.5,721.7 1577.8,728.5 1578.1,726.4 1578.4,727.6 1578.8,726.7 1579.1,721.9 1579.4,726.9 1579.7,732.6 1580.0,726.6 1580.4,724.5 1580.7,723.9 1581.0,727.2 1581.3,729.5 1581.6,723.9 1582.0,729.6 1582.3,729.7 1582.6,726.5 1582.9,731.3 1583.2,725.4 1583.6,725.0 1583.9,726.6 1584.2,728.6 1584.5,726.0 1584.8,725.9 1585.2,728.4 1585.5,724.0 1585.8,725.5 1586.1,732.6 1586.4,725.5 1586.8,727.6 1587.1,725.8 1587.4,727.3 1587.7,725.9 1588.0,725.8 1588.4,723.5 1588.7,727.6 1589.0,728.4 1589.3,726.0 1589.6,727.2 1590.0,728.1 1590.3,726.1 1590.6,728.3 1590.9,725.3 1591.2,727.4 1591.6,725.6 1591.9,722.8 1592.2,721.7 1592.5,724.9 1592.8,722.1 1593.2,725.2 1593.5,726.4 1593.8,723.8 1594.1,723.6 1594.4,731.7 1594.8,725.8 1595.1,725.3 1595.4,725.8 1595.7,723.5 1596.0,721.1 1596.4,727.7 1596.7,720.7 1597.0,724.1 1597.3,725.7 1597.6,726.0 1598.0,724.9 1598.3,718.0 1598.6,725.3 1598.9,726.7 1599.2,722.7 1599.6,724.0 1599.9,726.9 1600.2,722.9 1600.5,724.8 1600.8,722.7 1601.2,724.8 1601.5,725.9 1601.8,723.2 1602.1,720.5 1602.4,722.1 1602.8,722.8 1603.1,722.2 1603.4,721.9 1603.7,724.8 1604.0,722.2 1604.4,723.1 1604.7,723.3 1605.0,723.6 1605.3,721.6 1605.6,720.7 1606.0,720.6 1606.3,721.5 1606.6,719.0 1606.9,714.8 1607.2,721.6 1607.6,716.6 1607.9,718.8 1608.2,711.9 1608.5,715.6 1608.8,710.2 1609.2,713.9 1609.5,713.9 1609.8,711.2 1610.1,708.1 1610.4,713.8 1610.8,709.2 1611.1,703.0 1611.4,703.5 1611.7,710.1 1612.0,697.7 1612.4,697.2 1612.7,706.3 1613.0,700.1 1613.3,704.2 1613.6,695.9 1614.0,698.1 1614.3,697.2 1614.6,695.1 1614.9,691.2 1615.2,696.0 1615.6,695.0 1615.9,694.2 1616.2,690.4 1616.5,690.6 1616.8,688.6 1617.2,690.4 1617.5,691.9 1617.8,699.5 1618.1,695.9 1618.4,696.7 1618.8,700.6 1619.1,695.1 1619.4,704.7 1619.7,701.6 1620.0,707.1 1620.4,706.5 1620.7,702.5 1621.0,705.9 1621.3,702.4 1621.6,706.6 1622.0,712.3 1622.3,711.7 1622.6,708.7 1622.9,713.6 1623.2,712.2 1623.6,712.3 1623.9,715.0 1624.2,716.2 1624.5,714.0 1624.8,718.7 1625.2,716.8 1625.5,717.8 1625.8,714.2 1626.1,720.3 1626.4,723.1 1626.8,721.9 1627.1,719.2 1627.4,723.5 1627.7,718.4 1628.0,724.4 1628.4,724.2 1628.7,719.1 1629.0,725.1 1629.3,722.5 1629.6,721.8 1630.0,725.0 1630.3,723.4 1630.6,719.7 1630.9,723.4 1631.2,725.0 1631.6,723.3 1631.9,727.0 1632.2,726.7 1632.5,726.3 1632.8,721.8 1633.2,726.0 1633.5,724.7 1633.8,724.1 1634.1,725.4 1634.4,726.8 1634.8,728.7 1635.1,726.5 1635.4,728.0 1635.7,721.7 1636.0,726.0 1636.4,722.4 1636.7,724.9 1637.0,729.2 1637.3,725.8 1637.6,723.6 1638.0,725.6 1638.3,726.5 1638.6,726.5 1638.9,729.0 1639.2,723.3 1639.6,727.9 1639.9,725.6 1640.2,727.4 1640.5,725.7 1640.8,729.1 1641.2,724.6 1641.5,727.0 1641.8,727.6 1642.1,727.5 1642.4,726.6 1642.8,723.9 1643.1,725.9 1643.4,722.1 1643.7,725.9 1644.0,729.1 1644.4,727.5 1644.7,727.7 1645.0,731.8 1645.3,726.7 1645.6,726.4 1646.0,728.7 1646.3,728.0 1646.6,727.7 1646.9,725.8 1647.2,726.4 1647.6,726.4 1647.9,727.7 1648.2,728.3 1648.5,728.4 1648.8,723.5 1649.2,729.0 1649.5,724.5 1649.8,728.0 1650.1,726.6 1650.4,725.2 1650.8,725.5 1651.1,724.3 1651.4,726.5 1651.7,727.8 1652.0,726.8 1652.4,727.0 1652.7,728.0 1653.0,726.5 1653.3,726.0 1653.6,727.3 1654.0,728.6 1654.3,722.4 1654.6,727.6 1654.9,727.6 1655.2,723.9 1655.6,731.9 1655.9,729.9 1656.2,728.1 1656.5,728.6 1656.8,731.5 1657.2,729.3 1657.5,730.6 1657.8,728.2 1658.1,728.0 1658.4,728.4 1658.8,726.4 1659.1,729.7 1659.4,726.9 1659.7,730.8 1660.0,728.3 1660.4,726.6 1660.7,733.2 1661.0,725.0 1661.3,724.7 1661.6,731.5 1662.0,726.3 1662.3,731.1 1662.6,729.3 1662.9,728.2 1663.2,729.5 1663.6,727.0 1663.9,724.4 1664.2,728.6 1664.5,731.8 1664.8,726.3 1665.2,726.9 1665.5,725.3 1665.8,730.7 1666.1,726.5 1666.4,726.7 1666.8,733.3 1667.1,725.8 1667.4,724.6 1667.7,732.7 1668.0,726.6 1668.4,725.5 1668.7,725.8 1669.0,730.8 1669.3,732.4 1669.6,728.0 1670.0,726.7 1670.3,729.0 1670.6,725.1 1670.9,728.3 1671.2,724.3 1671.6,729.3 1671.9,727.3 1672.2,725.2 1672.5,729.7 1672.8,728.6 1673.2,728.4 1673.5,729.7 1673.8,728.8 1674.1,724.9 1674.4,725.5 1674.8,728.2 1675.1,728.5 1675.4,726.7 1675.7,729.1 1676.0,728.0 1676.4,736.3 1676.7,729.2 1677.0,727.8 1677.3,729.1 1677.6,728.4 1678.0,727.3 1678.3,729.4 1678.6,728.6 1678.9,725.5 1679.2,725.9 1679.6,729.8 1679.9,729.1 1680.2,728.3 1680.5,723.9 1680.8,728.4 1681.2,726.1 1681.5,726.8 1681.8,727.6 1682.1,730.5 1682.4,728.8 1682.8,726.1 1683.1,730.2 1683.4,727.5 1683.7,726.5 1684.0,730.6 1684.4,725.9 1684.7,731.7 1685.0,725.0 1685.3,726.7 1685.6,729.9 1686.0,726.5 1686.3,725.5 1686.6,727.1 1686.9,728.8 1687.2,727.0 1687.6,728.2 1687.9,725.4 1688.2,723.7 1688.5,727.5 1688.8,728.6 1689.2,728.8 1689.5,729.6 1689.8,725.0 1690.1,725.9 1690.4,729.3 1690.8,727.4 1691.1,727.0 1691.4,725.4 1691.7,726.9 1692.0,725.6 1692.4,723.6 1692.7,726.1 1693.0,728.3 1693.3,724.8 1693.6,728.3 1694.0,727.8 1694.3,726.7 1694.6,729.5 1694.9,725.2 1695.2,727.5 1695.6,727.2 1695.9,727.2 1696.2,725.3 1696.5,728.4 1696.8,729.1 1697.2,730.5 1697.5,725.8 1697.8,726.7 1698.1,728.9 1698.4,727.9 1698.8,728.5 1699.1,726.3 1699.4,724.2 1699.7,729.2 1700.0,727.0 1700.4,723.0 1700.7,727.2 1701.0,725.6 1701.3,727.9 1701.6,727.4 1702.0,726.4 1702.3,728.8 1702.6,727.7 1702.9,727.1 1703.2,732.6 1703.6,729.9 1703.9,725.9 1704.2,729.1 1704.5,727.0 1704.8,727.9 1705.2,724.8 1705.5,723.3 1705.8,725.0 1706.1,728.4 1706.4,726.6 1706.8,729.0 1707.1,723.5 1707.4,732.1 1707.7,730.5 1708.0,730.0 1708.4,729.7 1708.7,729.9 1709.0,725.4 1709.3,725.0 1709.6,728.5 1710.0,727.2 1710.3,729.4 1710.6,722.3 1710.9,724.7 1711.2,729.0 1711.6,728.5 1711.9,726.2 1712.2,729.3 1712.5,725.9 1712.8,729.9 1713.2,726.8 1713.5,727.0 1713.8,723.8 1714.1,724.7 1714.4,727.3 1714.8,725.8 1715.1,726.1 1715.4,724.0 1715.7,726.4 1716.0,727.5 1716.4,729.2 1716.7,727.1 1717.0,730.9 1717.3,727.6 1717.6,726.5 1718.0,728.3 1718.3,729.4 1718.6,726.3 1718.9,730.1 1719.2,726.9 1719.6,726.7 1719.9,724.0 1720.2,728.5"/>
<polyline id="curve-a" fill="none" stroke="#1b6bdb" stroke-width="2.2" stroke-linejoin="round" stroke-linecap="butt" shape-rendering="crispEdges" points="214.6,398.6 214.9,404.5 215.2,403.8 215.6,394.8 215.9,396.8 216.2,395.7 216.5,400.5 216.8,397.6 217.2,401.2 217.5,385.2 217.8,404.7 218.1,397.1 218.4,400.6 218.8,396.8 219.1,395.6 219.4,399.4 219.7,400.9 220.0,396.2 220.4,396.3 220.7,400.0 221.0,393.0 221.3,390.0 221.6,398.5 222.0,393.6 222.3,387.9 222.6,392.8 222.9,394.3 223.2,390.9 223.6,389.5 223.9,396.3 224.2,400.1 224.5,395.0 224.8,392.6 225.2,397.6 225.5,399.0 225.8,394.3 226.1,398.1 226.4,400.2 226.8,394.5 227.1,391.7 227.4,396.9 227.7,396.3 228.0,400.1 228.4,389.3 228.7,392.0 229.0,391.1 229.3,387.0 229.6,395.3 230.0,397.1 230.3,391.3 230.6,400.8 230.9,398.1 231.2,397.2 231.6,396.1 231.9,398.5 232.2,388.1 232.5,396.8 232.8,396.7 233.2,385.9 233.5,395.4 233.8,392.6 234.1,397.2 234.4,391.6 234.8,393.4 235.1,395.0 235.4,389.4 235.7,396.0 236.0,392.7 236.4,395.3 236.7,390.7 237.0,397.8 237.3,395.6 237.6,392.0 238.0,395.6 238.3,398.3 238.6,400.6 238.9,385.4 239.2,396.4 239.6,394.4 239.9,391.8 240.2,387.6 240.5,397.8 240.8,386.3 241.2,394.5 241.5,397.8 241.8,384.6 242.1,390.4 242.4,385.8 242.8,392.7 243.1,398.4 243.4,400.6 243.7,383.4 244.0,388.7 244.4,394.4 244.7,398.3 245.0,393.0 245.3,387.7 245.6,392.3 246.0,390.9 246.3,389.9 246.6,387.5 246.9,392.5 247.2,392.1 247.6,390.2 247.9,389.5 248.2,384.7 248.5,388.2 248.8,395.8 249.2,389.0 249.5,383.7 249.8,396.2 250.1,392.5 250.4,399.6 250.8,390.3 251.1,387.9 251.4,383.4 251.7,395.8 252.0,401.4 252.4,386.0 252.7,386.7 253.0,392.3 253.3,385.8 253.6,388.3 254.0,387.9 254.3,390.2 254.6,394.3 254.9,389.4 255.2,395.4 255.6,387.3 255.9,390.6 256.2,379.4 256.5,382.5 256.8,392.5 257.2,386.2 257.5,391.4 257.8,391.2 258.1,394.7 258.4,392.3 258.8,393.2 259.1,388.0 259.4,385.3 259.7,385.1 260.0,386.2 260.4,383.2 260.7,385.8 261.0,387.8 261.3,389.3 261.6,385.8 262.0,379.4 262.3,387.7 262.6,389.0 262.9,392.8 263.2,390.4 263.6,384.9 263.9,384.4 264.2,396.7 264.5,391.0 264.8,395.8 265.2,397.1 265.5,383.7 265.8,389.1 266.1,389.4 266.4,389.8 266.8,389.7 267.1,388.1 267.4,387.9 267.7,380.3 268.0,386.2 268.4,383.6 268.7,387.4 269.0,384.7 269.3,389.6 269.6,390.4 270.0,388.0 270.3,388.0 270.6,387.0 270.9,384.5 271.2,385.7 271.6,384.1 271.9,388.1 272.2,386.3 272.5,388.8 272.8,380.2 273.2,390.1 273.5,382.6 273.8,382.7 274.1,385.0 274.4,383.3 274.8,387.1 275.1,383.2 275.4,380.9 275.7,381.8 276.0,391.5 276.4,385.7 276.7,380.2 277.0,385.5 277.3,378.4 277.6,393.4 278.0,378.4 278.3,387.4 278.6,387.6 278.9,378.6 279.2,386.4 279.6,389.5 279.9,387.0 280.2,386.1 280.5,389.1 280.8,385.5 281.2,386.2 281.5,384.1 281.8,387.5 282.1,380.3 282.4,388.1 282.8,382.2 283.1,379.5 283.4,386.0 283.7,391.9 284.0,388.5 284.4,381.8 284.7,387.2 285.0,382.0 285.3,383.4 285.6,384.3 286.0,373.4 286.3,384.7 286.6,379.1 286.9,379.0 287.2,377.0 287.6,376.8 287.9,379.3 288.2,387.2 288.5,390.9 288.8,383.3 289.2,388.2 289.5,382.1 289.8,370.3 290.1,383.8 290.4,386.1 290.8,381.1 291.1,384.4 291.4,385.5 291.7,379.0 292.0,376.2 292.4,381.8 292.7,381.8 293.0,381.1 293.3,387.1 293.6,390.3 294.0,380.6 294.3,385.6 294.6,386.6 294.9,385.5 295.2,387.0 295.6,380.5 295.9,385.5 296.2,391.2 296.5,385.7 296.8,379.2 297.2,384.7 297.5,387.6 297.8,383.5 298.1,379.2 298.4,388.7 298.8,376.0 299.1,383.9 299.4,381.5 299.7,376.1 300.0,387.0 300.4,383.0 300.7,376.1 301.0,384.0 301.3,379.3 301.6,372.7 302.0,378.1 302.3,382.3 302.6,384.0 302.9,381.8 303.2,381.2 303.6,383.1 303.9,380.0 304.2,388.8 304.5,381.5 304.8,382.1 305.2,383.2 305.5,375.9 305.8,377.5 306.1,387.5 306.4,382.1 306.8,379.3 307.1,382.0 307.4,378.3 307.7,381.7 308.0,377.4 308.4,381.6 308.7,373.2 309.0,386.3 309.3,377.9 309.6,373.0 310.0,379.1 310.3,378.4 310.6,380.7 310.9,374.9 311.2,381.8 311.6,393.0 311.9,374.1 312.2,381.4 312.5,378.4 312.8,380.7 313.2,371.6 313.5,374.5 313.8,381.8 314.1,379.5 314.4,387.0 314.8,376.4 315.1,380.3 315.4,392.6 315.7,376.0 316.0,375.4 316.4,379.2 316.7,379.2 317.0,383.1 317.3,379.9 317.6,375.8 318.0,380.2 318.3,391.1 318.6,384.9 318.9,360.3 319.2,378.4 319.6,375.1 319.9,381.8 320.2,378.2 320.5,387.6 320.8,383.1 321.2,382.9 321.5,379.6 321.8,378.6 322.1,380.3 322.4,384.5 322.8,381.1 323.1,377.0 323.4,384.3 323.7,379.4 324.0,378.2 324.4,374.9 324.7,375.9 325.0,375.5 325.3,359.5 325.6,382.9 326.0,382.1 326.3,377.3 326.6,382.9 326.9,380.1 327.2,380.6 327.6,366.9 327.9,377.0 328.2,381.6 328.5,385.2 328.8,386.2 329.2,384.3 329.5,372.6 329.8,367.9 330.1,380.4 330.4,377.9 330.8,382.1 331.1,377.1 331.4,378.6 331.7,367.5 332.0,379.6 332.4,375.5 332.7,379.1 333.0,379.5 333.3,376.9 333.6,378.8 334.0,377.3 334.3,380.7 334.6,379.5 334.9,374.8 335.2,374.5 335.6,385.0 335.9,376.7 336.2,381.6 336.5,378.8 336.8,374.5 337.2,373.6 337.5,377.5 337.8,378.1 338.1,381.0 338.4,368.3 338.8,374.1 339.1,376.3 339.4,383.9 339.7,366.0 340.0,378.6 340.4,374.2 340.7,378.5 341.0,373.2 341.3,378.1 341.6,383.5 342.0,378.0 342.3,378.3 342.6,378.0 342.9,371.2 343.2,378.7 343.6,374.8 343.9,372.5 344.2,376.0 344.5,374.6 344.8,379.5 345.2,375.9 345.5,373.6 345.8,382.6 346.1,380.4 346.4,381.6 346.8,378.6 347.1,375.4 347.4,373.9 347.7,374.5 348.0,380.0 348.4,376.2 348.7,369.0 349.0,375.5 349.3,369.2 349.6,376.3 350.0,370.1 350.3,369.8 350.6,376.0 350.9,375.1 351.2,367.9 351.6,378.8 351.9,385.1 352.2,365.3 352.5,383.5 352.8,370.6 353.2,373.0 353.5,374.4 353.8,368.7 354.1,381.0 354.4,377.3 354.8,371.7 355.1,373.8 355.4,368.2 355.7,373.4 356.0,379.2 356.4,367.2 356.7,372.9 357.0,375.6 357.3,382.0 357.6,380.9 358.0,372.7 358.3,371.4 358.6,376.8 358.9,373.1 359.2,373.3 359.6,379.5 359.9,382.3 360.2,375.8 360.5,373.7 360.8,377.1 361.2,366.0 361.5,374.4 361.8,369.7 362.1,385.2 362.4,377.7 362.8,375.0 363.1,373.5 363.4,363.0 363.7,377.5 364.0,381.6 364.4,371.0 364.7,378.9 365.0,377.5 365.3,367.2 365.6,378.4 366.0,380.2 366.3,375.1 366.6,373.8 366.9,377.6 367.2,367.1 367.6,374.4 367.9,378.7 368.2,368.3 368.5,378.4 368.8,372.0 369.2,364.5 369.5,373.3 369.8,369.4 370.1,375.2 370.4,368.5 370.8,378.4 371.1,370.4 371.4,375.3 371.7,371.0 372.0,372.1 372.4,379.0 372.7,374.5 373.0,371.7 373.3,367.8 373.6,378.7 374.0,376.7 374.3,371.9 374.6,374.5 374.9,368.7 375.2,368.8 375.6,369.6 375.9,374.9 376.2,374.6 376.5,369.9 376.8,376.5 377.2,376.7 377.5,373.9 377.8,377.8 378.1,371.8 378.4,372.5 378.8,375.2 379.1,372.8 379.4,376.6 379.7,367.3 380.0,379.4 380.4,369.4 380.7,372.1 381.0,366.6 381.3,375.5 381.6,378.5 382.0,377.6 382.3,376.5 382.6,365.7 382.9,369.1 383.2,370.6 383.6,368.4 383.9,377.7 384.2,373.4 384.5,372.4 384.8,374.7 385.2,368.2 385.5,366.3 385.8,368.5 386.1,374.6 386.4,373.9 386.8,375.0 387.1,379.6 387.4,366.2 387.7,368.5 388.0,372.9 388.4,366.1 388.7,369.8 389.0,376.7 389.3,377.1 389.6,377.0 390.0,372.3 390.3,371.1 390.6,376.9 390.9,370.3 391.2,373.5 391.6,377.9 391.9,370.2 392.2,367.7 392.5,371.8 392.8,374.5 393.2,374.0 393.5,372.5 393.8,374.3 394.1,364.5 394.4,367.8 394.8,372.4 395.1,367.4 395.4,365.6 395.7,366.1 396.0,367.4 396.4,370.7 396.7,366.9 397.0,372.5 397.3,379.1 397.6,370.7 398.0,377.1 398.3,372.7 398.6,366.3 398.9,370.2 399.2,366.9 399.6,374.7 399.9,366.0 400.2,377.2 400.5,373.8 400.8,362.0 401.2,374.7 401.5,378.1 401.8,367.5 402.1,377.7 402.4,362.9 402.8,372.2 403.1,363.5 403.4,373.2 403.7,362.9 404.0,359.1 404.4,372.7 404.7,381.2 405.0,368.2 405.3,376.5 405.6,371.3 406.0,369.4 406.3,373.6 406.6,378.2 406.9,365.2 407.2,373.3 407.6,372.3 407.9,364.3 408.2,378.0 408.5,379.5 408.8,364.2 409.2,378.5 409.5,370.9 409.8,369.9 410.1,377.4 410.4,371.6 410.8,372.0 411.1,377.4 411.4,376.3 411.7,374.5 412.0,364.2 412.4,363.4 412.7,375.6 413.0,366.3 413.3,371.1 413.6,365.6 414.0,369.6 414.3,364.6 414.6,377.8 414.9,365.8 415.2,369.8 415.6,369.5 415.9,375.8 416.2,363.9 416.5,370.2 416.8,369.4 417.2,372.7 417.5,372.4 417.8,368.2 418.1,371.3 418.4,368.6 418.8,372.3 419.1,369.8 419.4,367.3 419.7,370.0 420.0,371.8 420.4,380.4 420.7,367.9 421.0,371.5 421.3,376.7 421.6,360.7 422.0,362.2 422.3,364.7 422.6,369.6 422.9,381.1 423.2,372.7 423.6,375.5 423.9,369.0 424.2,358.9 424.5,359.6 424.8,374.6 425.2,371.2 425.5,364.1 425.8,375.0 426.1,363.0 426.4,375.0 426.8,379.7 427.1,366.5 427.4,364.9 427.7,375.6 428.0,364.9 428.4,373.7 428.7,364.4 429.0,373.5 429.3,370.2 429.6,367.8 430.0,365.7 430.3,370.8 430.6,357.0 430.9,368.5 431.2,367.9 431.6,372.8 431.9,364.1 432.2,377.4 432.5,368.3 432.8,364.5 433.2,375.9 433.5,377.1 433.8,368.8 434.1,365.6 434.4,369.7 434.8,366.5 435.1,368.2 435.4,376.6 435.7,371.3 436.0,370.2 436.4,371.1 436.7,369.3 437.0,373.3 437.3,373.5 437.6,367.8 438.0,369.9 438.3,380.3 438.6,371.3 438.9,368.6 439.2,378.7 439.6,369.4 439.9,364.4 440.2,372.4 440.5,363.3 440.8,367.1 441.2,370.8 441.5,368.8 441.8,365.9 442.1,366.8 442.4,366.6 442.8,374.5 443.1,366.0 443.4,366.7 443.7,378.4 444.0,366.7 444.4,375.9 444.7,375.1 445.0,368.5 445.3,362.8 445.6,371.2 446.0,372.2 446.3,373.5 446.6,369.4 446.9,374.5 447.2,375.4 447.6,364.3 447.9,375.5 448.2,369.8 448.5,366.5 448.8,367.6 449.2,377.5 449.5,373.4 449.8,360.9 450.1,369.4 450.4,368.3 450.8,368.2 451.1,366.6 451.4,362.4 451.7,372.8 452.0,364.7 452.4,367.2 452.7,366.2 453.0,365.6 453.3,372.2 453.6,371.4 454.0,365.8 454.3,364.6 454.6,366.7 454.9,373.2 455.2,369.3 455.6,369.8 455.9,367.3 456.2,367.6 456.5,369.7 456.8,360.4 457.2,376.0 457.5,365.1 457.8,366.1 458.1,377.7 458.4,369.7 458.8,368.8 459.1,366.0 459.4,361.6 459.7,369.4 460.0,374.0 460.4,364.5 460.7,374.7 461.0,360.9 461.3,363.6 461.6,370.8 462.0,368.5 462.3,371.6 462.6,365.1 462.9,363.8 463.2,360.0 463.6,363.0 463.9,363.6 464.2,362.0 464.5,369.8 464.8,365.4 465.2,359.4 465.5,379.6 465.8,364.6 466.1,362.7 466.4,373.9 466.8,373.6 467.1,363.1 467.4,361.6 467.7,363.8 468.0,373.4 468.4,366.1 468.7,364.6 469.0,368.1 469.3,376.4 469.6,361.9 470.0,366.5 470.3,361.9 470.6,378.0 470.9,376.4 471.2,372.4 471.6,367.5 471.9,371.1 472.2,358.6 472.5,369.3 472.8,362.0 473.2,362.1 473.5,364.9 473.8,366.5 474.1,370.6 474.4,372.8 474.8,369.2 475.1,363.7 475.4,371.0 475.7,367.4 476.0,373.3 476.4,363.8 476.7,355.4 477.0,364.7 477.3,377.6 477.6,370.0 478.0,367.0 478.3,371.8 478.6,370.1 478.9,371.0 479.2,365.5 479.6,368.1 479.9,368.7 480.2,364.9 480.5,362.7 480.8,368.4 481.2,372.1 481.5,370.6 481.8,369.9 482.1,370.0 482.4,379.3 482.8,368.8 483.1,372.4 483.4,376.5 483.7,367.9 484.0,368.8 484.4,372.3 484.7,375.2 485.0,369.0 485.3,369.2 485.6,368.0 486.0,362.1 486.3,372.6 486.6,366.4 486.9,359.8 487.2,366.5 487.6,359.7 487.9,362.9 488.2,367.6 488.5,363.3 488.8,372.3 489.2,360.8 489.5,369.2 489.8,369.9 490.1,374.0 490.4,371.6 490.8,368.4 491.1,367.7 491.4,367.1 491.7,372.5 492.0,364.4 492.4,369.7 492.7,366.9 493.0,368.4 493.3,366.1 493.6,381.8 494.0,364.3 494.3,368.4 494.6,368.5 494.9,370.0 495.2,369.3 495.6,369.1 495.9,371.6 496.2,360.4 496.5,367.2 496.8,361.6 497.2,368.2 497.5,361.8 497.8,362.8 498.1,366.8 498.4,373.4 498.8,371.0 499.1,368.4 499.4,373.4 499.7,362.8 500.0,357.6 500.4,365.1 500.7,365.2 501.0,372.6 501.3,376.6 501.6,361.0 502.0,378.2 502.3,374.0 502.6,370.7 502.9,368.6 503.2,377.9 503.6,367.3 503.9,364.8 504.2,367.5 504.5,360.7 504.8,369.0 505.2,366.4 505.5,368.3 505.8,368.5 506.1,362.0 506.4,372.7 506.8,362.2 507.1,370.8 507.4,359.6 507.7,369.3 508.0,363.0 508.4,366.9 508.7,363.8 509.0,356.9 509.3,361.7 509.6,367.0 510.0,369.5 510.3,360.0 510.6,357.1 510.9,362.7 511.2,365.7 511.6,363.8 511.9,361.2 512.2,370.5 512.5,371.0 512.8,369.9 513.2,362.4 513.5,366.9 513.8,365.7 514.1,360.1 514.4,370.5 514.8,366.9 515.1,363.3 515.4,372.9 515.7,370.0 516.0,370.4 516.4,371.9 516.7,369.7 517.0,357.9 517.3,364.7 517.6,371.0 518.0,363.0 518.3,366.6 518.6,368.2 518.9,372.9 519.2,375.2 519.6,370.4 519.9,365.5 520.2,370.5 520.5,368.7 520.8,365.3 521.2,372.5 521.5,368.6 521.8,362.9 522.1,372.0 522.4,364.6 522.8,370.3 523.1,359.4 523.4,366.2 523.7,362.0 524.0,359.7 524.4,357.6 524.7,375.9 525.0,365.5 525.3,367.3 525.6,371.2 526.0,365.6 526.3,368.5 526.6,360.0 526.9,367.0 527.2,364.3 527.6,368.4 527.9,366.9 528.2,359.9 528.5,357.7 528.8,361.5 529.2,369.4 529.5,368.0 529.8,367.9 530.1,356.9 530.4,353.9 530.8,363.2 531.1,364.5 531.4,363.3 531.7,367.6 532.0,365.2 532.4,360.6 532.7,362.0 533.0,366.6 533.3,366.3 533.6,365.6 534.0,376.2 534.3,364.7 534.6,366.4 534.9,361.4 535.2,364.3 535.6,368.2 535.9,368.4 536.2,364.8 536.5,367.6 536.8,366.1 537.2,357.3 537.5,352.8 537.8,376.2 538.1,369.5 538.4,365.5 538.8,357.9 539.1,360.0 539.4,371.9 539.7,353.1 540.0,364.3 540.4,369.6 540.7,366.4 541.0,369.1 541.3,365.1 541.6,376.5 542.0,361.0 542.3,359.5 542.6,366.9 542.9,372.1 543.2,365.4 543.6,370.4 543.9,362.0 544.2,360.3 544.5,371.9 544.8,372.7 545.2,372.5 545.5,363.6 545.8,360.3 546.1,360.3 546.4,364.5 546.8,368.2 547.1,367.8 547.4,359.0 547.7,366.4 548.0,365.6 548.4,365.9 548.7,365.4 549.0,364.5 549.3,368.1 549.6,366.0 550.0,366.5 550.3,360.7 550.6,367.2 550.9,364.9 551.2,355.8 551.6,367.6 551.9,364.2 552.2,369.5 552.5,364.6 552.8,364.9 553.2,366.3 553.5,365.3 553.8,363.3 554.1,357.2 554.4,373.6 554.8,358.2 555.1,363.7 555.4,368.2 555.7,367.0 556.0,367.8 556.4,368.7 556.7,370.9 557.0,366.6 557.3,378.3 557.6,360.6 558.0,366.2 558.3,362.7 558.6,362.7 558.9,366.5 559.2,371.7 559.6,361.9 559.9,361.9 560.2,368.4 560.5,367.6 560.8,374.0 561.2,369.7 561.5,366.1 561.8,362.9 562.1,366.0 562.4,363.9 562.8,358.9 563.1,365.1 563.4,364.2 563.7,364.0 564.0,363.1 564.4,372.6 564.7,368.1 565.0,369.2 565.3,362.2 565.6,360.4 566.0,363.7 566.3,366.1 566.6,363.4 566.9,364.1 567.2,369.3 567.6,366.3 567.9,360.5 568.2,363.0 568.5,361.9 568.8,365.7 569.2,359.6 569.5,364.1 569.8,369.5 570.1,365.0 570.4,360.7 570.8,362.0 571.1,365.7 571.4,367.0 571.7,368.6 572.0,364.1 572.4,355.8 572.7,371.2 573.0,366.1 573.3,366.6 573.6,366.1 574.0,360.0 574.3,363.3 574.6,365.9 574.9,369.4 575.2,365.0 575.6,351.6 575.9,363.6 576.2,366.3 576.5,370.5 576.8,367.9 577.2,375.9 577.5,371.1 577.8,370.7 578.1,368.9 578.4,358.3 578.8,368.4 579.1,367.3 579.4,362.2 579.7,367.2 580.0,366.4 580.4,362.4 580.7,364.0 581.0,363.3 581.3,365.5 581.6,362.6 582.0,367.0 582.3,355.8 582.6,363.2 582.9,356.9 583.2,362.3 583.6,366.8 583.9,364.5 584.2,363.9 584.5,364.7 584.8,371.5 585.2,359.4 585.5,368.4 585.8,357.5 586.1,362.3 586.4,365.1 586.8,360.5 587.1,365.3 587.4,367.6 587.7,358.9 588.0,364.0 588.4,362.6 588.7,355.5 589.0,363.4 589.3,360.7 589.6,370.3 590.0,360.3 590.3,371.9 590.6,361.8 590.9,373.0 591.2,366.7 591.6,366.3 591.9,367.8 592.2,368.3 592.5,373.7 592.8,375.9 593.2,362.6 593.5,358.5 593.8,352.1 594.1,362.4 594.4,369.3 594.8,365.8 595.1,364.6 595.4,362.5 595.7,361.2 596.0,362.8 596.4,365.8 596.7,356.1 597.0,367.3 597.3,357.4 597.6,362.9 598.0,361.1 598.3,362.3 598.6,356.9 598.9,358.8 599.2,362.9 599.6,359.0 599.9,375.0 600.2,362.0 600.5,360.9 600.8,361.4 601.2,359.0 601.5,352.8 601.8,362.7 602.1,365.2 602.4,357.0 602.8,363.8 603.1,358.3 603.4,363.6 603.7,365.4 604.0,366.0 604.4,365.7 604.7,360.6 605.0,367.7 605.3,361.7 605.6,365.3 606.0,366.9 606.3,362.3 606.6,357.9 606.9,366.4 607.2,358.6 607.6,359.6 607.9,358.7 608.2,367.4 608.5,362.9 608.8,353.4 609.2,366.9 609.5,372.9 609.8,371.7 610.1,361.0 610.4,363.9 610.8,365.8 611.1,367.6 611.4,363.7 611.7,358.6 612.0,366.9 612.4,366.3 612.7,357.4 613.0,361.8 613.3,364.7 613.6,363.4 614.0,365.8 614.3,367.0 614.6,365.8 614.9,362.9 615.2,357.3 615.6,366.1 615.9,372.8 616.2,372.3 616.5,363.2 616.8,363.1 617.2,369.8 617.5,369.8 617.8,364.8 618.1,366.5 618.4,359.8 618.8,365.9 619.1,359.5 619.4,362.6 619.7,362.6 620.0,361.1 620.4,353.6 620.7,359.4 621.0,364.7 621.3,362.7 621.6,361.3 622.0,365.1 622.3,366.2 622.6,366.9 622.9,359.4 623.2,363.2 623.6,361.5 623.9,359.1 624.2,356.3 624.5,362.6 624.8,359.1 625.2,372.7 625.5,362.5 625.8,362.0 626.1,361.2 626.4,371.4 626.8,358.7 627.1,362.2 627.4,359.4 627.7,362.3 628.0,362.7 628.4,367.8 628.7,356.5 629.0,362.8 629.3,370.2 629.6,360.5 630.0,362.0 630.3,358.8 630.6,351.0 630.9,362.3 631.2,368.1 631.6,360.6 631.9,354.4 632.2,363.9 632.5,363.1 632.8,367.2 633.2,366.8 633.5,361.5 633.8,364.5 634.1,354.5 634.4,367.7 634.8,363.5 635.1,367.5 635.4,367.4 635.7,361.3 636.0,361.9 636.4,358.6 636.7,353.2 637.0,362.0 637.3,363.3 637.6,357.6 638.0,365.8 638.3,363.0 638.6,364.6 638.9,359.0 639.2,354.5 639.6,366.0 639.9,365.2 640.2,362.0 640.5,360.5 640.8,361.2 641.2,361.8 641.5,360.1 641.8,353.3 642.1,365.9 642.4,355.6 642.8,360.9 643.1,361.0 643.4,363.5 643.7,351.4 644.0,367.8 644.4,365.3 644.7,365.8 645.0,368.0 645.3,358.7 645.6,349.3 646.0,363.8 646.3,368.2 646.6,367.5 646.9,359.8 647.2,361.8 647.6,363.5 647.9,354.1 648.2,359.2 648.5,359.3 648.8,369.4 649.2,359.2 649.5,369.3 649.8,362.2 650.1,354.6 650.4,372.2 650.8,357.8 651.1,364.9 651.4,369.9 651.7,359.7 652.0,356.5 652.4,366.8 652.7,362.4 653.0,356.5 653.3,357.2 653.6,360.3 654.0,366.4 654.3,360.7 654.6,365.0 654.9,369.5 655.2,367.7 655.6,368.5 655.9,367.5 656.2,354.7 656.5,367.5 656.8,363.4 657.2,361.4 657.5,357.0 657.8,354.7 658.1,356.9 658.4,361.7 658.8,356.6 659.1,358.2 659.4,359.1 659.7,366.4 660.0,360.5 660.4,361.2 660.7,367.8 661.0,360.3 661.3,364.5 661.6,357.0 662.0,363.2 662.3,362.3 662.6,362.5 662.9,359.6 663.2,357.1 663.6,360.3 663.9,359.6 664.2,368.7 664.5,365.8 664.8,356.2 665.2,364.5 665.5,359.5 665.8,363.7 666.1,359.4 666.4,354.9 666.8,366.2 667.1,363.6 667.4,356.0 667.7,353.0 668.0,359.1 668.4,353.5 668.7,359.9 669.0,364.3 669.3,368.1 669.6,359.9 670.0,367.7 670.3,366.7 670.6,359.5 670.9,353.9 671.2,365.3 671.6,365.6 671.9,372.1 672.2,367.9 672.5,364.9 672.8,369.0 673.2,356.6 673.5,362.2 673.8,359.5 674.1,369.2 674.4,363.9 674.8,348.3 675.1,367.5 675.4,357.2 675.7,364.8 676.0,359.1 676.4,363.0 676.7,364.2 677.0,362.2 677.3,356.9 677.6,370.8 678.0,363.0 678.3,361.2 678.6,366.1 678.9,358.8 679.2,369.7 679.6,362.2 679.9,362.8 680.2,362.8 680.5,357.0 680.8,355.8 681.2,362.1 681.5,362.7 681.8,367.2 682.1,363.2 682.4,356.2 682.8,363.5 683.1,364.8 683.4,365.6 683.7,363.4 684.0,355.5 684.4,366.3 684.7,357.7 685.0,363.6 685.3,353.9 685.6,366.2 686.0,357.4 686.3,365.9 686.6,369.0 686.9,366.2 687.2,355.7 687.6,356.7 687.9,357.0 688.2,363.9 688.5,362.5 688.8,361.6 689.2,362.3 689.5,363.5 689.8,363.8 690.1,368.5 690.4,360.6 690.8,362.2 691.1,352.4 691.4,354.8 691.7,357.6 692.0,355.4 692.4,361.7 692.7,367.8 693.0,358.7 693.3,358.5 693.6,358.3 694.0,361.2 694.3,358.2 694.6,362.6 694.9,362.0 695.2,362.2 695.6,364.0 695.9,360.7 696.2,361.2 696.5,372.5 696.8,360.3 697.2,364.1 697.5,360.7 697.8,358.4 698.1,358.4 698.4,356.7 698.8,360.5 699.1,357.7 699.4,358.5 699.7,365.9 700.0,359.8 700.4,365.5 700.7,361.6 701.0,364.2 701.3,357.6 701.6,361.0 702.0,378.2 702.3,364.0 702.6,364.8 702.9,361.3 703.2,364.1 703.6,355.0 703.9,356.4 704.2,362.1 704.5,363.9 704.8,358.3 705.2,359.3 705.5,358.5 705.8,359.3 706.1,354.7 706.4,353.6 706.8,359.7 707.1,352.2 707.4,355.6 707.7,357.0 708.0,355.2 708.4,361.1 708.7,357.9 709.0,359.6 709.3,355.4 709.6,356.6 710.0,362.2 710.3,362.3 710.6,357.8 710.9,361.5 711.2,360.7 711.6,360.5 711.9,367.0 712.2,357.0 712.5,361.7 712.8,361.6 713.2,358.7 713.5,354.4 713.8,362.8 714.1,360.9 714.4,359.9 714.8,359.7 715.1,359.7 715.4,355.5 715.7,360.9 716.0,351.4 716.4,359.4 716.7,352.7 717.0,357.0 717.3,364.2 717.6,358.3 718.0,357.3 718.3,361.8 718.6,358.2 718.9,357.5 719.2,357.6 719.6,366.2 719.9,362.4 720.2,361.5 720.5,353.9 720.8,362.1 721.2,353.4 721.5,361.4 721.8,354.2 722.1,368.1 722.4,351.6 722.8,364.7 723.1,362.8 723.4,347.0 723.7,358.1 724.0,365.7 724.4,364.3 724.7,351.6 725.0,356.7 725.3,353.7 725.6,354.4 726.0,356.1 726.3,367.4 726.6,359.6 726.9,358.0 727.2,357.5 727.6,362.0 727.9,362.1 728.2,354.8 728.5,365.6 728.8,354.0 729.2,357.6 729.5,360.9 729.8,366.6 730.1,357.3 730.4,360.1 730.8,364.7 731.1,361.6 731.4,363.9 731.7,363.5 732.0,359.9 732.4,361.6 732.7,362.9 733.0,358.6 733.3,366.0 733.6,349.7 734.0,354.5 734.3,368.3 734.6,360.6 734.9,355.7 735.2,360.3 735.6,363.5 735.9,356.1 736.2,362.1 736.5,358.0 736.8,358.1 737.2,358.2 737.5,363.6 737.8,353.4 738.1,356.8 738.4,361.5 738.8,353.0 739.1,351.3 739.4,361.0 739.7,358.5 740.0,357.8 740.4,359.1 740.7,354.0 741.0,371.6 741.3,353.9 741.6,356.4 742.0,351.9 742.3,356.5 742.6,365.3 742.9,358.4 743.2,361.0 743.6,356.1 743.9,366.5 744.2,359.0 744.5,352.6 744.8,361.7 745.2,356.5 745.5,361.0 745.8,358.8 746.1,359.4 746.4,358.8 746.8,354.0 747.1,351.3 747.4,362.5 747.7,357.5 748.0,359.4 748.4,356.0 748.7,348.9 749.0,352.3 749.3,364.4 749.6,354.5 750.0,356.3 750.3,351.3 750.6,354.2 750.9,356.3 751.2,356.9 751.6,357.6 751.9,355.0 752.2,355.3 752.5,357.8 752.8,359.3 753.2,357.2 753.5,365.8 753.8,358.8 754.1,358.5 754.4,354.8 754.8,362.4 755.1,353.1 755.4,350.4 755.7,353.3 756.0,360.5 756.4,352.5 756.7,363.6 757.0,357.6 757.3,347.2 757.6,356.6 758.0,365.7 758.3,353.7 758.6,351.6 758.9,359.9 759.2,363.5 759.6,362.2 759.9,356.0 760.2,358.4 760.5,359.0 760.8,362.8 761.2,367.2 761.5,357.0 761.8,363.4 762.1,355.9 762.4,360.1 762.8,350.9 763.1,353.9 763.4,359.3 763.7,353.3 764.0,361.4 764.4,354.8 764.7,357.7 765.0,356.9 765.3,355.8 765.6,357.9 766.0,364.5 766.3,377.2 766.6,351.8 766.9,358.6 767.2,356.4 767.6,353.0 767.9,358.5 768.2,353.2 768.5,356.8 768.8,362.8 769.2,347.9 769.5,358.2 769.8,359.1 770.1,352.7 770.4,359.4 770.8,358.6 771.1,354.5 771.4,362.5 771.7,351.1 772.0,359.9 772.4,355.9 772.7,352.2 773.0,356.1 773.3,355.3 773.6,360.6 774.0,350.1 774.3,356.0 774.6,354.8 774.9,364.0 775.2,351.8 775.6,361.6 775.9,348.8 776.2,358.4 776.5,356.2 776.8,358.5 777.2,353.5 777.5,347.8 777.8,349.7 778.1,362.7 778.4,357.6 778.8,352.7 779.1,360.7 779.4,353.2 779.7,353.2 780.0,351.0 780.4,361.9 780.7,365.5 781.0,352.1 781.3,357.8 781.6,360.9 782.0,366.1 782.3,345.5 782.6,357.1 782.9,359.3 783.2,349.6 783.6,358.2 783.9,357.2 784.2,359.6 784.5,353.6 784.8,358.2 785.2,353.5 785.5,359.0 785.8,357.0 786.1,354.5 786.4,349.7 786.8,363.7 787.1,361.2 787.4,360.2 787.7,353.1 788.0,354.5 788.4,363.7 788.7,359.5 789.0,352.2 789.3,356.3 789.6,356.7 790.0,355.1 790.3,351.7 790.6,361.7 790.9,358.7 791.2,354.4 791.6,348.8 791.9,353.3 792.2,355.9 792.5,359.9 792.8,354.2 793.2,361.0 793.5,356.5 793.8,352.5 794.1,343.2 794.4,347.6 794.8,349.0 795.1,355.1 795.4,357.3 795.7,362.1 796.0,355.7 796.4,350.5 796.7,366.5 797.0,357.2 797.3,354.5 797.6,353.8 798.0,349.5 798.3,358.6 798.6,357.4 798.9,362.9 799.2,360.7 799.6,359.6 799.9,364.1 800.2,354.3 800.5,353.6 800.8,355.4 801.2,349.9 801.5,354.9 801.8,354.1 802.1,358.6 802.4,355.5 802.8,346.8 803.1,355.7 803.4,362.0 803.7,347.1 804.0,352.0 804.4,355.6 804.7,349.4 805.0,352.9 805.3,355.7 805.6,349.4 806.0,356.8 806.3,357.3 806.6,349.6 806.9,355.5 807.2,360.3 807.6,354.6 807.9,357.4 808.2,358.3 808.5,354.3 808.8,359.8 809.2,357.9 809.5,350.8 809.8,357.7 810.1,359.2 810.4,359.0 810.8,352.3 811.1,357.4 811.4,361.5 811.7,356.3 812.0,360.6 812.4,364.1 812.7,355.0 813.0,358.2 813.3,353.8 813.6,360.1 814.0,354.7 814.3,352.6 814.6,355.0 814.9,354.5 815.2,356.8 815.6,357.2 815.9,347.0 816.2,352.0 816.5,356.7 816.8,357.2 817.2,355.4 817.5,367.1 817.8,360.1 818.1,354.6 818.4,358.3 818.8,361.1 819.1,356.6 819.4,346.9 819.7,355.3 820.0,355.1 820.4,364.7 820.7,346.4 821.0,361.9 821.3,354.1 821.6,359.1 822.0,353.4 822.3,355.6 822.6,359.9 822.9,355.1 823.2,359.6 823.6,354.3 823.9,352.8 824.2,353.6 824.5,352.3 824.8,354.1 825.2,360.9 825.5,349.2 825.8,346.9 826.1,354.4 826.4,362.3 826.8,359.3 827.1,363.6 827.4,360.2 827.7,351.0 828.0,354.9 828.4,342.1 828.7,351.5 829.0,357.1 829.3,347.1 829.6,344.7 830.0,348.2 830.3,355.2 830.6,359.6 830.9,366.1 831.2,360.7 831.6,347.1 831.9,343.3 832.2,354.7 832.5,358.9 832.8,346.5 833.2,351.5 833.5,351.8 833.8,354.0 834.1,353.0 834.4,356.2 834.8,358.7 835.1,354.1 835.4,357.2 835.7,362.9 836.0,348.9 836.4,348.8 836.7,355.9 837.0,362.1 837.3,354.3 837.6,358.5 838.0,352.0 838.3,357.6 838.6,350.4 838.9,356.4 839.2,355.1 839.6,355.0 839.9,359.5 840.2,358.0 840.5,350.2 840.8,357.1 841.2,345.0 841.5,357.5 841.8,371.9 842.1,355.2 842.4,355.0 842.8,352.9 843.1,356.4 843.4,350.4 843.7,355.6 844.0,351.1 844.4,350.3 844.7,352.8 845.0,351.8 845.3,343.9 845.6,361.7 846.0,352.5 846.3,343.8 846.6,356.7 846.9,351.4 847.2,352.4 847.6,356.6 847.9,347.0 848.2,337.4 848.5,350.5 848.8,351.9 849.2,355.4 849.5,346.9 849.8,349.1 850.1,352.1 850.4,348.5 850.8,348.7 851.1,350.9 851.4,344.8 851.7,356.8 852.0,344.8 852.4,349.1 852.7,347.1 853.0,343.7 853.3,350.8 853.6,352.8 854.0,354.6 854.3,350.2 854.6,345.0 854.9,353.3 855.2,339.7 855.6,346.9 855.9,348.4 856.2,348.2 856.5,339.6 856.8,337.5 857.2,352.3 857.5,341.4 857.8,335.4 858.1,336.9 858.4,342.4 858.8,347.4 859.1,341.3 859.4,346.3 859.7,340.9 860.0,341.3 860.4,345.6 860.7,335.5 861.0,337.9 861.3,333.5 861.6,331.2 862.0,336.3 862.3,327.7 862.6,330.7 862.9,324.8 863.2,326.5 863.6,322.4 863.9,328.3 864.2,320.9 864.5,318.2 864.8,323.2 865.2,298.1 865.5,302.2 865.8,290.5 866.1,299.4 866.4,296.8 866.8,292.5 867.1,284.7 867.4,272.2 867.7,279.2 868.0,264.0 868.4,252.8 868.7,239.4 869.0,238.6 869.3,223.9 869.6,213.9 870.0,207.1 870.3,196.6 870.6,180.0 870.9,181.5 871.2,158.7 871.6,149.1 871.9,149.5 872.2,142.3 872.5,137.6 872.8,132.6 873.2,135.2 873.5,133.9 873.8,131.9 874.1,151.9 874.4,149.6 874.8,163.0 875.1,178.3 875.4,184.6 875.7,208.0 876.0,197.9 876.4,212.0 876.7,226.7 877.0,243.4 877.3,243.2 877.6,246.1 878.0,268.0 878.3,264.5 878.6,275.3 878.9,287.4 879.2,285.1 879.6,291.6 879.9,301.4 880.2,302.2 880.5,308.7 880.8,306.0 881.2,313.5 881.5,308.8 881.8,311.8 882.1,330.8 882.4,327.6 882.8,330.6 883.1,323.0 883.4,329.2 883.7,329.8 884.0,325.1 884.4,336.0 884.7,330.8 885.0,334.4 885.3,328.9 885.6,342.0 886.0,341.6 886.3,340.5 886.6,334.9 886.9,337.3 887.2,346.4 887.6,339.7 887.9,342.9 888.2,342.7 888.5,337.1 888.8,350.3 889.2,333.8 889.5,344.8 889.8,343.7 890.1,336.7 890.4,347.2 890.8,348.8 891.1,345.6 891.4,341.7 891.7,348.1 892.0,351.5 892.4,347.5 892.7,354.9 893.0,351.0 893.3,350.8 893.6,353.9 894.0,344.4 894.3,345.2 894.6,350.3 894.9,350.5 895.2,355.3 895.6,353.7 895.9,349.3 896.2,349.7 896.5,347.5 896.8,347.2 897.2,345.9 897.5,353.4 897.8,347.1 898.1,347.7 898.4,350.3 898.8,347.2 899.1,348.7 899.4,339.6 899.7,351.7 900.0,348.6 900.4,351.0 900.7,351.9 901.0,341.6 901.3,361.6 901.6,351.3 902.0,351.5 902.3,342.4 902.6,353.7 902.9,352.9 903.2,349.4 903.6,352.3 903.9,357.2 904.2,349.8 904.5,345.4 904.8,357.7 905.2,352.8 905.5,350.8 905.8,362.4 906.1,352.5 906.4,351.0 906.8,353.1 907.1,350.0 907.4,352.9 907.7,352.7 908.0,349.0 908.4,350.8 908.7,353.5 909.0,353.9 909.3,354.8 909.6,355.8 910.0,353.3 910.3,354.6 910.6,349.9 910.9,351.0 911.2,357.1 911.6,343.1 911.9,354.0 912.2,364.8 912.5,343.7 912.8,359.2 913.2,344.2 913.5,354.0 913.8,359.8 914.1,359.1 914.4,348.1 914.8,346.3 915.1,345.6 915.4,355.6 915.7,350.5 916.0,352.3 916.4,353.5 916.7,354.2 917.0,354.7 917.3,352.8 917.6,344.9 918.0,359.0 918.3,339.6 918.6,358.0 918.9,349.5 919.2,351.4 919.6,349.9 919.9,350.6 920.2,352.2 920.5,351.0 920.8,347.3 921.2,356.3 921.5,349.7 921.8,358.5 922.1,351.7 922.4,349.1 922.8,354.4 923.1,356.5 923.4,348.1 923.7,351.1 924.0,362.3 924.4,347.8 924.7,348.5 925.0,353.2 925.3,346.8 925.6,341.1 926.0,344.8 926.3,354.2 926.6,355.5 926.9,355.2 927.2,354.2 927.6,346.8 927.9,355.6 928.2,357.8 928.5,349.3 928.8,356.8 929.2,350.8 929.5,353.4 929.8,354.2 930.1,345.7 930.4,359.2 930.8,348.6 931.1,352.0 931.4,350.2 931.7,354.6 932.0,355.6 932.4,352.6 932.7,359.0 933.0,354.5 933.3,350.7 933.6,339.3 934.0,351.2 934.3,351.2 934.6,348.5 934.9,348.6 935.2,355.2 935.6,357.3 935.9,361.2 936.2,357.7 936.5,349.3 936.8,353.7 937.2,346.3 937.5,355.9 937.8,354.2 938.1,349.7 938.4,352.0 938.8,351.4 939.1,349.6 939.4,358.6 939.7,365.4 940.0,356.3 940.4,357.3 940.7,353.2 941.0,350.9 941.3,362.5 941.6,350.8 942.0,354.3 942.3,352.0 942.6,355.2 942.9,352.3 943.2,355.2 943.6,346.7 943.9,352.0 944.2,358.7 944.5,345.5 944.8,349.4 945.2,358.7 945.5,354.3 945.8,357.4 946.1,342.2 946.4,353.1 946.8,346.6 947.1,346.1 947.4,354.3 947.7,360.7 948.0,342.3 948.4,347.4 948.7,349.8 949.0,351.8 949.3,343.4 949.6,362.7 950.0,355.1 950.3,350.8 950.6,350.0 950.9,363.0 951.2,362.6 951.6,350.1 951.9,354.8 952.2,358.1 952.5,346.9 952.8,349.7 953.2,358.5 953.5,349.2 953.8,350.3 954.1,346.1 954.4,348.8 954.8,357.1 955.1,348.5 955.4,343.4 955.7,349.4 956.0,360.4 956.4,353.1 956.7,349.7 957.0,352.9 957.3,354.2 957.6,352.8 958.0,343.9 958.3,353.6 958.6,351.2 958.9,356.0 959.2,346.0 959.6,357.0 959.9,349.9 960.2,344.3 960.5,358.2 960.8,349.8 961.2,353.8 961.5,351.4 961.8,357.1 962.1,357.1 962.4,357.2 962.8,355.3 963.1,341.0 963.4,344.3 963.7,353.0 964.0,347.7 964.4,354.2 964.7,352.8 965.0,345.5 965.3,347.2 965.6,346.8 966.0,347.9 966.3,351.0 966.6,355.1 966.9,358.1 967.2,347.5 967.6,349.4 967.9,359.1 968.2,356.0 968.5,353.0 968.8,341.1 969.2,347.3 969.5,352.6 969.8,349.2 970.1,361.0 970.4,352.3 970.8,353.2 971.1,346.8 971.4,347.1 971.7,348.8 972.0,349.0 972.4,350.8 972.7,353.6 973.0,352.9 973.3,356.4 973.6,345.6 974.0,352.8 974.3,352.9 974.6,359.1 974.9,350.8 975.2,353.3 975.6,348.0 975.9,353.7 976.2,353.6 976.5,347.4 976.8,349.8 977.2,351.5 977.5,354.4 977.8,346.5 978.1,355.8 978.4,350.2 978.8,360.5 979.1,358.4 979.4,349.9 979.7,348.8 980.0,363.0 980.4,354.6 980.7,354.3 981.0,349.7 981.3,350.8 981.6,355.4 982.0,354.5 982.3,347.9 982.6,357.4 982.9,353.1 983.2,347.3 983.6,356.2 983.9,350.8 984.2,355.2 984.5,349.1 984.8,353.3 985.2,344.2 985.5,353.3 985.8,344.6 986.1,352.3 986.4,339.9 986.8,351.3 987.1,354.9 987.4,353.8 987.7,357.0 988.0,346.6 988.4,358.7 988.7,358.9 989.0,346.0 989.3,347.9 989.6,348.9 990.0,351.4 990.3,352.4 990.6,340.2 990.9,354.2 991.2,350.3 991.6,346.8 991.9,355.8 992.2,349.9 992.5,356.7 992.8,353.9 993.2,350.0 993.5,356.8 993.8,355.1 994.1,347.9 994.4,344.0 994.8,348.9 995.1,354.2 995.4,350.3 995.7,359.5 996.0,352.6 996.4,352.3 996.7,353.2 997.0,347.3 997.3,350.8 997.6,348.3 998.0,340.6 998.3,343.2 998.6,354.7 998.9,349.3 999.2,350.8 999.6,344.5 999.9,348.6 1000.2,354.9 1000.5,351.7 1000.8,348.9 1001.2,358.3 1001.5,351.0 1001.8,349.7 1002.1,356.5 1002.4,343.3 1002.8,353.8 1003.1,346.2 1003.4,347.6 1003.7,348.1 1004.0,351.8 1004.4,351.7 1004.7,352.6 1005.0,352.2 1005.3,360.8 1005.6,359.0 1006.0,354.5 1006.3,354.7 1006.6,349.5 1006.9,346.2 1007.2,355.3 1007.6,351.4 1007.9,355.1 1008.2,342.9 1008.5,363.4 1008.8,345.4 1009.2,351.4 1009.5,358.0 1009.8,344.9 1010.1,347.4 1010.4,342.0 1010.8,344.6 1011.1,342.3 1011.4,351.7 1011.7,352.5 1012.0,349.7 1012.4,356.9 1012.7,357.5 1013.0,351.1 1013.3,350.2 1013.6,349.9 1014.0,349.1 1014.3,357.1 1014.6,352.2 1014.9,349.6 1015.2,350.1 1015.6,353.6 1015.9,349.3 1016.2,352.6 1016.5,351.0 1016.8,357.3 1017.2,359.1 1017.5,344.7 1017.8,350.4 1018.1,354.4 1018.4,349.1 1018.8,354.8 1019.1,352.7 1019.4,353.8 1019.7,350.7 1020.0,352.5 1020.4,353.5 1020.7,344.4 1021.0,346.9 1021.3,346.5 1021.6,358.8 1022.0,352.5 1022.3,352.8 1022.6,351.9 1022.9,348.7 1023.2,347.7 1023.6,356.9 1023.9,349.4 1024.2,361.9 1024.5,352.0 1024.8,351.5 1025.2,350.1 1025.5,350.7 1025.8,351.2 1026.1,358.0 1026.4,361.7 1026.8,345.8 1027.1,352.8 1027.4,354.3 1027.7,346.9 1028.0,348.2 1028.4,349.0 1028.7,340.1 1029.0,354.0 1029.3,350.8 1029.6,350.6 1030.0,351.4 1030.3,352.2 1030.6,361.6 1030.9,351.9 1031.2,354.8 1031.6,348.7 1031.9,352.6 1032.2,349.6 1032.5,350.3 1032.8,346.9 1033.2,347.3 1033.5,353.1 1033.8,354.4 1034.1,353.1 1034.4,348.0 1034.8,352.4 1035.1,333.7 1035.4,355.3 1035.7,350.8 1036.0,352.2 1036.4,356.3 1036.7,348.2 1037.0,355.4 1037.3,349.0 1037.6,353.5 1038.0,349.2 1038.3,352.4 1038.6,357.6 1038.9,348.0 1039.2,348.2 1039.6,349.5 1039.9,353.1 1040.2,363.5 1040.5,348.4 1040.8,341.7 1041.2,348.0 1041.5,343.8 1041.8,348.5 1042.1,351.1 1042.4,346.6 1042.8,347.9 1043.1,342.5 1043.4,351.8 1043.7,346.0 1044.0,355.9 1044.4,355.8 1044.7,347.0 1045.0,349.3 1045.3,351.2 1045.6,354.4 1046.0,343.4 1046.3,350.7 1046.6,359.4 1046.9,350.6 1047.2,352.0 1047.6,351.0 1047.9,345.6 1048.2,355.3 1048.5,352.2 1048.8,351.7 1049.2,354.3 1049.5,356.4 1049.8,342.4 1050.1,353.2 1050.4,348.3 1050.8,351.7 1051.1,347.7 1051.4,347.0 1051.7,355.3 1052.0,350.9 1052.4,349.7 1052.7,349.7 1053.0,351.3 1053.3,350.9 1053.6,340.2 1054.0,347.0 1054.3,349.9 1054.6,354.4 1054.9,360.4 1055.2,346.7 1055.6,364.3 1055.9,351.4 1056.2,353.2 1056.5,348.6 1056.8,348.3 1057.2,357.5 1057.5,350.0 1057.8,350.6 1058.1,356.3 1058.4,358.9 1058.8,344.2 1059.1,349.9 1059.4,351.0 1059.7,359.3 1060.0,362.2 1060.4,350.8 1060.7,352.7 1061.0,355.0 1061.3,356.3 1061.6,349.6 1062.0,355.0 1062.3,347.9 1062.6,338.9 1062.9,344.8 1063.2,352.1 1063.6,354.6 1063.9,340.8 1064.2,342.9 1064.5,351.0 1064.8,337.6 1065.2,353.6 1065.5,358.4 1065.8,337.6 1066.1,354.6 1066.4,350.3 1066.8,357.6 1067.1,352.4 1067.4,350.1 1067.7,351.7 1068.0,355.4 1068.4,352.0 1068.7,351.3 1069.0,344.6 1069.3,354.8 1069.6,351.3 1070.0,359.5 1070.3,351.1 1070.6,350.8 1070.9,348.3 1071.2,354.5 1071.6,350.3 1071.9,348.0 1072.2,358.5 1072.5,359.3 1072.8,349.1 1073.2,346.5 1073.5,356.3 1073.8,347.4 1074.1,363.6 1074.4,350.6 1074.8,358.1 1075.1,345.3 1075.4,351.0 1075.7,356.1 1076.0,353.2 1076.4,347.9 1076.7,362.3 1077.0,354.5 1077.3,350.1 1077.6,348.4 1078.0,349.9 1078.3,357.3 1078.6,347.7 1078.9,351.3 1079.2,347.4 1079.6,356.9 1079.9,350.4 1080.2,355.1 1080.5,353.7 1080.8,348.5 1081.2,354.3 1081.5,355.4 1081.8,345.9 1082.1,354.3 1082.4,363.5 1082.8,349.8 1083.1,354.0 1083.4,345.0 1083.7,353.2 1084.0,348.4 1084.4,354.6 1084.7,350.9 1085.0,345.7 1085.3,356.1 1085.6,350.1 1086.0,346.5 1086.3,351.4 1086.6,346.7 1086.9,352.9 1087.2,350.8 1087.6,349.4 1087.9,354.1 1088.2,345.2 1088.5,355.5 1088.8,341.9 1089.2,362.4 1089.5,351.9 1089.8,349.8 1090.1,347.7 1090.4,353.5 1090.8,350.3 1091.1,350.2 1091.4,355.7 1091.7,349.0 1092.0,349.9 1092.4,353.0 1092.7,355.9 1093.0,350.3 1093.3,351.7 1093.6,351.2 1094.0,354.4 1094.3,357.8 1094.6,346.7 1094.9,350.4 1095.2,350.8 1095.6,353.7 1095.9,357.8 1096.2,350.9 1096.5,351.9 1096.8,356.1 1097.2,345.3 1097.5,347.4 1097.8,348.9 1098.1,350.9 1098.4,352.0 1098.8,348.6 1099.1,359.0 1099.4,347.7 1099.7,350.0 1100.0,355.9 1100.4,354.5 1100.7,350.8 1101.0,352.6 1101.3,354.7 1101.6,350.8 1102.0,353.9 1102.3,346.7 1102.6,351.2 1102.9,343.3 1103.2,346.8 1103.6,345.6 1103.9,356.6 1104.2,348.7 1104.5,352.2 1104.8,346.6 1105.2,349.9 1105.5,349.5 1105.8,346.9 1106.1,354.7 1106.4,343.1 1106.8,353.6 1107.1,363.0 1107.4,347.0 1107.7,350.9 1108.0,343.6 1108.4,350.6 1108.7,342.7 1109.0,353.6 1109.3,348.4 1109.6,342.2 1110.0,344.7 1110.3,343.3 1110.6,348.9 1110.9,354.5 1111.2,348.7 1111.6,345.1 1111.9,346.7 1112.2,351.1 1112.5,339.3 1112.8,353.2 1113.2,353.4 1113.5,339.1 1113.8,355.9 1114.1,342.9 1114.4,349.4 1114.8,355.8 1115.1,342.8 1115.4,341.8 1115.7,345.2 1116.0,345.3 1116.4,349.7 1116.7,347.9 1117.0,348.0 1117.3,348.0 1117.6,349.4 1118.0,346.3 1118.3,351.8 1118.6,350.2 1118.9,345.5 1119.2,358.7 1119.6,344.4 1119.9,353.6 1120.2,346.8 1120.5,351.9 1120.8,352.7 1121.2,354.2 1121.5,356.8 1121.8,346.4 1122.1,369.6 1122.4,352.2 1122.8,346.5 1123.1,344.0 1123.4,366.7 1123.7,357.9 1124.0,350.2 1124.4,353.8 1124.7,356.4 1125.0,350.8 1125.3,348.4 1125.6,350.2 1126.0,354.2 1126.3,350.5 1126.6,344.7 1126.9,353.8 1127.2,342.4 1127.6,346.9 1127.9,359.1 1128.2,351.4 1128.5,351.4 1128.8,350.8 1129.2,355.1 1129.5,350.1 1129.8,341.3 1130.1,351.5 1130.4,336.9 1130.8,340.8 1131.1,357.6 1131.4,355.1 1131.7,348.2 1132.0,350.0 1132.4,350.7 1132.7,354.9 1133.0,346.7 1133.3,344.3 1133.6,347.4 1134.0,350.9 1134.3,351.5 1134.6,348.4 1134.9,353.8 1135.2,345.5 1135.6,349.9 1135.9,347.1 1136.2,343.4 1136.5,358.9 1136.8,348.8 1137.2,345.6 1137.5,350.4 1137.8,345.6 1138.1,353.0 1138.4,354.2 1138.8,355.0 1139.1,345.3 1139.4,349.6 1139.7,358.8 1140.0,349.2 1140.4,356.1 1140.7,357.3 1141.0,343.8 1141.3,355.8 1141.6,353.7 1142.0,354.3 1142.3,358.0 1142.6,353.6 1142.9,350.6 1143.2,353.0 1143.6,348.6 1143.9,352.5 1144.2,340.9 1144.5,358.2 1144.8,347.7 1145.2,352.7 1145.5,351.6 1145.8,350.7 1146.1,351.1 1146.4,350.5 1146.8,342.6 1147.1,347.7 1147.4,358.6 1147.7,345.4 1148.0,345.3 1148.4,365.0 1148.7,355.7 1149.0,357.4 1149.3,350.1 1149.6,351.4 1150.0,353.7 1150.3,352.7 1150.6,349.7 1150.9,343.4 1151.2,346.7 1151.6,343.1 1151.9,357.4 1152.2,348.2 1152.5,349.2 1152.8,351.4 1153.2,350.1 1153.5,352.5 1153.8,347.2 1154.1,343.0 1154.4,358.1 1154.8,346.7 1155.1,347.8 1155.4,346.3 1155.7,347.5 1156.0,350.1 1156.4,353.4 1156.7,345.1 1157.0,352.1 1157.3,346.8 1157.6,355.5 1158.0,344.3 1158.3,350.4 1158.6,353.2 1158.9,343.6 1159.2,350.4 1159.6,350.6 1159.9,346.2 1160.2,348.9 1160.5,356.8 1160.8,351.0 1161.2,348.0 1161.5,348.5 1161.8,351.9 1162.1,355.7 1162.4,353.5 1162.8,353.2 1163.1,357.0 1163.4,342.7 1163.7,343.2 1164.0,339.4 1164.4,353.6 1164.7,339.3 1165.0,349.6 1165.3,353.2 1165.6,343.4 1166.0,346.7 1166.3,348.5 1166.6,353.1 1166.9,342.8 1167.2,351.2 1167.6,352.9 1167.9,350.4 1168.2,350.4 1168.5,355.4 1168.8,350.7 1169.2,349.6 1169.5,348.2 1169.8,352.6 1170.1,348.4 1170.4,354.2 1170.8,350.1 1171.1,354.8 1171.4,346.1 1171.7,350.0 1172.0,351.2 1172.4,351.5 1172.7,354.8 1173.0,351.4 1173.3,353.8 1173.6,358.6 1174.0,353.5 1174.3,344.8 1174.6,343.1 1174.9,352.7 1175.2,347.9 1175.6,351.6 1175.9,348.8 1176.2,355.5 1176.5,355.1 1176.8,344.5 1177.2,350.8 1177.5,348.2 1177.8,343.6 1178.1,354.0 1178.4,348.9 1178.8,351.6 1179.1,360.8 1179.4,355.6 1179.7,354.6 1180.0,347.7 1180.4,344.2 1180.7,355.2 1181.0,348.2 1181.3,349.7 1181.6,347.8 1182.0,350.0 1182.3,360.5 1182.6,348.1 1182.9,348.2 1183.2,350.4 1183.6,350.8 1183.9,344.1 1184.2,341.4 1184.5,346.9 1184.8,348.5 1185.2,345.9 1185.5,344.9 1185.8,345.2 1186.1,347.6 1186.4,348.9 1186.8,342.0 1187.1,346.9 1187.4,351.0 1187.7,348.8 1188.0,343.2 1188.4,346.9 1188.7,349.3 1189.0,352.8 1189.3,342.0 1189.6,352.4 1190.0,347.2 1190.3,350.2 1190.6,352.4 1190.9,345.4 1191.2,345.6 1191.6,348.5 1191.9,352.6 1192.2,345.5 1192.5,342.9 1192.8,346.1 1193.2,351.0 1193.5,357.0 1193.8,345.7 1194.1,347.8 1194.4,347.9 1194.8,348.6 1195.1,344.9 1195.4,347.2 1195.7,350.2 1196.0,349.6 1196.4,349.3 1196.7,344.6 1197.0,346.7 1197.3,345.9 1197.6,353.9 1198.0,355.7 1198.3,350.7 1198.6,356.4 1198.9,347.8 1199.2,347.8 1199.6,343.3 1199.9,350.6 1200.2,347.1 1200.5,349.7 1200.8,351.3 1201.2,348.0 1201.5,344.1 1201.8,348.9 1202.1,348.8 1202.4,349.3 1202.8,352.2 1203.1,348.2 1203.4,347.9 1203.7,356.9 1204.0,354.0 1204.4,348.7 1204.7,344.9 1205.0,347.1 1205.3,350.8 1205.6,352.9 1206.0,360.0 1206.3,348.0 1206.6,350.1 1206.9,347.5 1207.2,349.5 1207.6,347.4 1207.9,344.4 1208.2,353.8 1208.5,349.7 1208.8,354.9 1209.2,346.9 1209.5,350.3 1209.8,352.1 1210.1,340.7 1210.4,343.2 1210.8,352.5 1211.1,349.6 1211.4,340.9 1211.7,345.9 1212.0,344.4 1212.4,347.0 1212.7,356.1 1213.0,346.6 1213.3,358.3 1213.6,348.0 1214.0,345.9 1214.3,356.2 1214.6,353.4 1214.9,355.4 1215.2,357.9 1215.6,354.0 1215.9,354.7 1216.2,341.5 1216.5,345.5 1216.8,352.2 1217.2,350.1 1217.5,352.4 1217.8,347.0 1218.1,354.2 1218.4,358.3 1218.8,351.8 1219.1,353.0 1219.4,351.5 1219.7,353.4 1220.0,350.2 1220.4,346.9 1220.7,350.1 1221.0,349.7 1221.3,342.3 1221.6,350.2 1222.0,349.3 1222.3,350.1 1222.6,346.7 1222.9,351.3 1223.2,351.9 1223.6,345.9 1223.9,350.6 1224.2,352.6 1224.5,352.4 1224.8,344.9 1225.2,344.4 1225.5,349.1 1225.8,344.3 1226.1,360.2 1226.4,345.3 1226.8,345.3 1227.1,351.8 1227.4,346.7 1227.7,338.2 1228.0,348.1 1228.4,342.1 1228.7,346.3 1229.0,341.4 1229.3,344.5 1229.6,347.8 1230.0,348.2 1230.3,343.5 1230.6,345.2 1230.9,344.6 1231.2,349.0 1231.6,347.7 1231.9,342.7 1232.2,351.2 1232.5,345.1 1232.8,350.0 1233.2,344.0 1233.5,349.5 1233.8,347.6 1234.1,348.3 1234.4,350.3 1234.8,350.0 1235.1,348.7 1235.4,348.7 1235.7,342.1 1236.0,347.5 1236.4,337.9 1236.7,337.6 1237.0,346.3 1237.3,346.6 1237.6,357.7 1238.0,350.6 1238.3,352.5 1238.6,346.0 1238.9,349.4 1239.2,355.1 1239.6,349.6 1239.9,348.7 1240.2,347.5 1240.5,342.7 1240.8,342.7 1241.2,340.1 1241.5,348.4 1241.8,345.1 1242.1,343.1 1242.4,347.6 1242.8,343.1 1243.1,350.4 1243.4,354.1 1243.7,347.1 1244.0,341.5 1244.4,337.4 1244.7,353.4 1245.0,345.7 1245.3,337.7 1245.6,347.8 1246.0,334.5 1246.3,339.7 1246.6,340.1 1246.9,338.9 1247.2,334.7 1247.6,350.7 1247.9,336.8 1248.2,339.8 1248.5,337.4 1248.8,328.9 1249.2,333.1 1249.5,336.4 1249.8,338.6 1250.1,331.7 1250.4,334.3 1250.8,330.1 1251.1,333.8 1251.4,318.2 1251.7,332.4 1252.0,325.7 1252.4,325.3 1252.7,314.6 1253.0,321.9 1253.3,329.7 1253.6,337.7 1254.0,322.7 1254.3,322.8 1254.6,328.5 1254.9,327.6 1255.2,323.6 1255.6,325.5 1255.9,325.3 1256.2,330.7 1256.5,332.2 1256.8,337.5 1257.2,334.1 1257.5,333.6 1257.8,331.9 1258.1,336.5 1258.4,328.0 1258.8,344.0 1259.1,335.7 1259.4,342.0 1259.7,332.1 1260.0,341.7 1260.4,339.4 1260.7,337.3 1261.0,335.7 1261.3,335.4 1261.6,348.7 1262.0,346.6 1262.3,341.9 1262.6,342.8 1262.9,339.0 1263.2,334.2 1263.6,334.9 1263.9,340.9 1264.2,343.4 1264.5,339.0 1264.8,348.5 1265.2,347.5 1265.5,346.1 1265.8,337.4 1266.1,344.8 1266.4,345.9 1266.8,340.4 1267.1,336.3 1267.4,355.4 1267.7,349.6 1268.0,345.1 1268.4,354.3 1268.7,354.8 1269.0,349.2 1269.3,348.3 1269.6,350.9 1270.0,354.2 1270.3,347.8 1270.6,346.5 1270.9,350.3 1271.2,334.7 1271.6,348.1 1271.9,345.9 1272.2,347.7 1272.5,347.0 1272.8,349.4 1273.2,348.4 1273.5,348.3 1273.8,347.4 1274.1,350.1 1274.4,345.7 1274.8,352.6 1275.1,340.4 1275.4,349.0 1275.7,350.2 1276.0,342.3 1276.4,346.2 1276.7,354.3 1277.0,347.6 1277.3,342.2 1277.6,335.2 1278.0,349.8 1278.3,348.7 1278.6,351.1 1278.9,357.7 1279.2,348.3 1279.6,348.9 1279.9,345.2 1280.2,348.1 1280.5,348.2 1280.8,351.8 1281.2,350.9 1281.5,344.9 1281.8,346.2 1282.1,354.7 1282.4,344.1 1282.8,351.9 1283.1,355.9 1283.4,351.4 1283.7,349.6 1284.0,354.7 1284.4,350.1 1284.7,348.4 1285.0,347.6 1285.3,353.7 1285.6,351.7 1286.0,355.6 1286.3,347.0 1286.6,347.1 1286.9,346.5 1287.2,349.8 1287.6,345.4 1287.9,352.8 1288.2,350.1 1288.5,344.1 1288.8,335.5 1289.2,336.1 1289.5,355.1 1289.8,348.3 1290.1,349.2 1290.4,346.6 1290.8,350.4 1291.1,339.8 1291.4,334.9 1291.7,341.1 1292.0,348.9 1292.4,351.8 1292.7,350.7 1293.0,348.0 1293.3,342.8 1293.6,352.2 1294.0,347.3 1294.3,348.5 1294.6,348.3 1294.9,346.5 1295.2,345.3 1295.6,345.9 1295.9,342.7 1296.2,349.7 1296.5,347.8 1296.8,353.2 1297.2,340.4 1297.5,353.9 1297.8,348.3 1298.1,347.9 1298.4,344.9 1298.8,344.9 1299.1,341.8 1299.4,352.7 1299.7,347.1 1300.0,351.9 1300.4,352.4 1300.7,346.3 1301.0,347.5 1301.3,347.0 1301.6,353.3 1302.0,349.2 1302.3,349.4 1302.6,351.9 1302.9,348.3 1303.2,357.9 1303.6,344.4 1303.9,354.3 1304.2,355.0 1304.5,343.4 1304.8,352.5 1305.2,349.9 1305.5,352.6 1305.8,343.2 1306.1,350.3 1306.4,344.2 1306.8,347.1 1307.1,355.1 1307.4,347.7 1307.7,338.4 1308.0,342.3 1308.4,343.5 1308.7,353.2 1309.0,345.5 1309.3,341.6 1309.6,356.2 1310.0,349.8 1310.3,350.2 1310.6,345.0 1310.9,355.1 1311.2,348.1 1311.6,339.7 1311.9,340.9 1312.2,344.8 1312.5,347.9 1312.8,352.1 1313.2,345.3 1313.5,345.9 1313.8,358.6 1314.1,349.0 1314.4,346.2 1314.8,348.8 1315.1,342.9 1315.4,351.0 1315.7,353.0 1316.0,346.0 1316.4,353.1 1316.7,347.3 1317.0,349.9 1317.3,345.2 1317.6,345.0 1318.0,341.8 1318.3,349.6 1318.6,347.3 1318.9,347.5 1319.2,343.5 1319.6,343.3 1319.9,345.7 1320.2,350.7 1320.5,350.0 1320.8,345.5 1321.2,349.9 1321.5,356.6 1321.8,349.1 1322.1,357.7 1322.4,350.6 1322.8,354.6 1323.1,346.2 1323.4,353.9 1323.7,343.2 1324.0,349.7 1324.4,347.1 1324.7,339.5 1325.0,342.4 1325.3,353.7 1325.6,350.8 1326.0,354.4 1326.3,349.5 1326.6,335.5 1326.9,349.7 1327.2,344.7 1327.6,346.3 1327.9,346.5 1328.2,345.1 1328.5,342.0 1328.8,354.2 1329.2,350.6 1329.5,344.1 1329.8,346.6 1330.1,352.9 1330.4,350.3 1330.8,349.4 1331.1,343.0 1331.4,346.6 1331.7,343.4 1332.0,339.8 1332.4,352.6 1332.7,347.0 1333.0,346.6 1333.3,344.2 1333.6,351.9 1334.0,358.0 1334.3,351.1 1334.6,352.7 1334.9,342.9 1335.2,349.3 1335.6,349.5 1335.9,355.2 1336.2,348.5 1336.5,344.2 1336.8,348.2 1337.2,346.5 1337.5,355.0 1337.8,351.5 1338.1,350.0 1338.4,349.3 1338.8,352.3 1339.1,346.2 1339.4,344.3 1339.7,339.9 1340.0,353.8 1340.4,350.7 1340.7,351.4 1341.0,348.6 1341.3,356.0 1341.6,344.0 1342.0,353.9 1342.3,344.6 1342.6,346.4 1342.9,342.9 1343.2,348.8 1343.6,347.1 1343.9,350.4 1344.2,345.8 1344.5,342.1 1344.8,351.0 1345.2,354.2 1345.5,351.7 1345.8,348.1 1346.1,350.2 1346.4,340.7 1346.8,346.9 1347.1,353.6 1347.4,350.4 1347.7,344.5 1348.0,352.2 1348.4,347.8 1348.7,351.7 1349.0,342.0 1349.3,346.0 1349.6,349.8 1350.0,349.7 1350.3,350.8 1350.6,348.3 1350.9,347.4 1351.2,350.5 1351.6,352.2 1351.9,341.5 1352.2,346.9 1352.5,347.4 1352.8,349.0 1353.2,352.9 1353.5,342.3 1353.8,350.7 1354.1,340.5 1354.4,344.9 1354.8,346.0 1355.1,347.1 1355.4,345.6 1355.7,346.0 1356.0,346.8 1356.4,347.1 1356.7,340.0 1357.0,342.0 1357.3,346.3 1357.6,350.7 1358.0,352.8 1358.3,361.2 1358.6,348.8 1358.9,344.8 1359.2,349.1 1359.6,351.4 1359.9,348.9 1360.2,343.5 1360.5,347.6 1360.8,348.1 1361.2,341.9 1361.5,342.9 1361.8,353.7 1362.1,338.3 1362.4,349.0 1362.8,347.1 1363.1,354.5 1363.4,352.4 1363.7,344.4 1364.0,353.9 1364.4,345.8 1364.7,357.2 1365.0,355.7 1365.3,347.9 1365.6,353.4 1366.0,349.1 1366.3,344.2 1366.6,355.4 1366.9,350.2 1367.2,352.1 1367.6,353.1 1367.9,354.6 1368.2,352.9 1368.5,347.9 1368.8,348.7 1369.2,350.1 1369.5,347.8 1369.8,347.2 1370.1,356.6 1370.4,350.5 1370.8,356.8 1371.1,344.8 1371.4,348.1 1371.7,346.3 1372.0,345.7 1372.4,347.0 1372.7,347.7 1373.0,346.3 1373.3,356.4 1373.6,351.3 1374.0,345.0 1374.3,345.8 1374.6,351.6 1374.9,350.7 1375.2,345.6 1375.6,352.4 1375.9,341.9 1376.2,346.2 1376.5,356.0 1376.8,336.6 1377.2,347.4 1377.5,352.7 1377.8,347.6 1378.1,344.8 1378.4,344.3 1378.8,339.0 1379.1,339.4 1379.4,348.6 1379.7,345.7 1380.0,348.2 1380.4,347.6 1380.7,349.5 1381.0,340.8 1381.3,346.9 1381.6,346.7 1382.0,346.9 1382.3,342.3 1382.6,338.4 1382.9,351.1 1383.2,351.9 1383.6,358.9 1383.9,353.1 1384.2,355.6 1384.5,350.9 1384.8,346.5 1385.2,350.5 1385.5,343.0 1385.8,349.9 1386.1,347.7 1386.4,343.5 1386.8,353.7 1387.1,355.7 1387.4,350.3 1387.7,351.9 1388.0,355.6 1388.4,347.6 1388.7,342.2 1389.0,344.0 1389.3,351.3 1389.6,349.2 1390.0,341.6 1390.3,354.1 1390.6,349.2 1390.9,359.1 1391.2,353.3 1391.6,346.3 1391.9,348.6 1392.2,344.9 1392.5,344.5 1392.8,346.2 1393.2,350.5 1393.5,354.4 1393.8,344.2 1394.1,351.4 1394.4,348.4 1394.8,346.8 1395.1,353.3 1395.4,346.7 1395.7,354.4 1396.0,346.8 1396.4,344.1 1396.7,351.7 1397.0,341.7 1397.3,342.9 1397.6,347.4 1398.0,348.3 1398.3,347.1 1398.6,339.4 1398.9,342.3 1399.2,350.6 1399.6,350.7 1399.9,343.7 1400.2,349.5 1400.5,349.2 1400.8,352.8 1401.2,345.0 1401.5,354.8 1401.8,346.9 1402.1,354.7 1402.4,352.4 1402.8,343.7 1403.1,346.9 1403.4,349.5 1403.7,352.8 1404.0,342.0 1404.4,346.0 1404.7,351.0 1405.0,350.4 1405.3,343.5 1405.6,344.2 1406.0,350.2 1406.3,343.6 1406.6,349.3 1406.9,352.3 1407.2,348.3 1407.6,336.1 1407.9,353.5 1408.2,353.4 1408.5,354.6 1408.8,352.1 1409.2,340.6 1409.5,354.6 1409.8,349.7 1410.1,352.4 1410.4,347.5 1410.8,347.1 1411.1,347.1 1411.4,355.3 1411.7,349.4 1412.0,347.2 1412.4,342.4 1412.7,350.3 1413.0,348.2 1413.3,348.8 1413.6,352.6 1414.0,351.4 1414.3,348.1 1414.6,349.1 1414.9,348.5 1415.2,351.4 1415.6,351.2 1415.9,348.7 1416.2,344.2 1416.5,351.9 1416.8,352.2 1417.2,343.3 1417.5,349.8 1417.8,346.3 1418.1,338.2 1418.4,347.9 1418.8,352.3 1419.1,344.8 1419.4,344.9 1419.7,352.6 1420.0,343.1 1420.4,343.8 1420.7,346.6 1421.0,350.8 1421.3,350.8 1421.6,345.6 1422.0,346.6 1422.3,348.4 1422.6,346.2 1422.9,344.1 1423.2,343.0 1423.6,351.2 1423.9,347.0 1424.2,360.9 1424.5,350.8 1424.8,344.6 1425.2,347.9 1425.5,350.3 1425.8,350.7 1426.1,349.9 1426.4,350.0 1426.8,347.3 1427.1,350.8 1427.4,357.8 1427.7,345.9 1428.0,346.2 1428.4,351.1 1428.7,353.5 1429.0,351.6 1429.3,353.4 1429.6,347.7 1430.0,346.8 1430.3,350.8 1430.6,350.9 1430.9,355.4 1431.2,354.9 1431.6,339.6 1431.9,351.4 1432.2,344.8 1432.5,338.3 1432.8,349.6 1433.2,347.1 1433.5,346.2 1433.8,342.0 1434.1,343.2 1434.4,346.8 1434.8,341.0 1435.1,347.3 1435.4,348.3 1435.7,347.1 1436.0,349.1 1436.4,347.4 1436.7,342.5 1437.0,343.1 1437.3,348.3 1437.6,352.1 1438.0,348.4 1438.3,345.4 1438.6,348.5 1438.9,335.5 1439.2,343.2 1439.6,346.0 1439.9,347.4 1440.2,346.2 1440.5,346.4 1440.8,342.3 1441.2,345.1 1441.5,348.8 1441.8,339.3 1442.1,342.2 1442.4,346.1 1442.8,354.3 1443.1,350.7 1443.4,354.7 1443.7,356.7 1444.0,345.6 1444.4,347.3 1444.7,342.3 1445.0,352.9 1445.3,350.9 1445.6,350.3 1446.0,352.1 1446.3,349.7 1446.6,348.5 1446.9,349.4 1447.2,353.0 1447.6,342.2 1447.9,342.8 1448.2,347.6 1448.5,352.8 1448.8,348.6 1449.2,346.6 1449.5,351.3 1449.8,348.0 1450.1,339.0 1450.4,343.0 1450.8,333.4 1451.1,346.5 1451.4,345.5 1451.7,349.5 1452.0,357.0 1452.4,344.8 1452.7,347.5 1453.0,345.8 1453.3,334.8 1453.6,344.1 1454.0,344.3 1454.3,348.7 1454.6,343.7 1454.9,341.7 1455.2,350.1 1455.6,347.2 1455.9,343.4 1456.2,344.1 1456.5,346.1 1456.8,351.2 1457.2,357.1 1457.5,341.6 1457.8,352.7 1458.1,347.7 1458.4,349.1 1458.8,354.0 1459.1,343.1 1459.4,351.3 1459.7,341.6 1460.0,345.3 1460.4,343.6 1460.7,355.0 1461.0,354.8 1461.3,350.8 1461.6,349.7 1462.0,345.0 1462.3,355.3 1462.6,353.7 1462.9,353.5 1463.2,346.9 1463.6,345.8 1463.9,347.0 1464.2,353.4 1464.5,343.2 1464.8,347.9 1465.2,354.8 1465.5,351.4 1465.8,355.3 1466.1,349.3 1466.4,349.4 1466.8,353.6 1467.1,350.4 1467.4,349.0 1467.7,345.1 1468.0,340.8 1468.4,354.1 1468.7,345.6 1469.0,344.1 1469.3,351.3 1469.6,343.5 1470.0,341.4 1470.3,344.9 1470.6,347.2 1470.9,348.7 1471.2,349.7 1471.6,351.8 1471.9,346.9 1472.2,349.1 1472.5,346.9 1472.8,344.6 1473.2,349.2 1473.5,349.0 1473.8,355.7 1474.1,350.1 1474.4,344.3 1474.8,350.1 1475.1,346.3 1475.4,354.5 1475.7,339.8 1476.0,344.4 1476.4,344.5 1476.7,347.9 1477.0,346.8 1477.3,340.3 1477.6,339.1 1478.0,348.2 1478.3,353.9 1478.6,353.9 1478.9,344.8 1479.2,349.4 1479.6,343.5 1479.9,340.9 1480.2,352.9 1480.5,350.4 1480.8,345.9 1481.2,345.7 1481.5,351.5 1481.8,348.8 1482.1,345.8 1482.4,348.6 1482.8,347.4 1483.1,345.5 1483.4,342.7 1483.7,351.5 1484.0,345.2 1484.4,342.1 1484.7,355.4 1485.0,352.9 1485.3,349.7 1485.6,347.0 1486.0,348.2 1486.3,340.8 1486.6,347.2 1486.9,348.5 1487.2,346.4 1487.6,349.2 1487.9,343.8 1488.2,348.1 1488.5,340.3 1488.8,347.1 1489.2,344.5 1489.5,341.3 1489.8,345.4 1490.1,347.3 1490.4,344.5 1490.8,351.3 1491.1,344.1 1491.4,351.3 1491.7,350.4 1492.0,344.5 1492.4,356.8 1492.7,341.1 1493.0,349.5 1493.3,347.4 1493.6,350.5 1494.0,340.1 1494.3,341.8 1494.6,343.4 1494.9,347.1 1495.2,347.4 1495.6,347.1 1495.9,345.9 1496.2,343.9 1496.5,340.9 1496.8,345.1 1497.2,349.3 1497.5,351.5 1497.8,344.7 1498.1,354.1 1498.4,340.9 1498.8,350.4 1499.1,342.1 1499.4,348.0 1499.7,342.7 1500.0,342.6 1500.4,344.5 1500.7,353.2 1501.0,343.9 1501.3,349.7 1501.6,347.6 1502.0,348.9 1502.3,349.0 1502.6,349.7 1502.9,341.6 1503.2,347.1 1503.6,348.4 1503.9,344.3 1504.2,348.5 1504.5,342.3 1504.8,350.1 1505.2,343.8 1505.5,345.6 1505.8,350.4 1506.1,351.6 1506.4,344.3 1506.8,344.0 1507.1,351.2 1507.4,334.1 1507.7,352.8 1508.0,352.6 1508.4,342.1 1508.7,352.1 1509.0,348.4 1509.3,348.9 1509.6,331.4 1510.0,344.6 1510.3,346.0 1510.6,345.0 1510.9,345.1 1511.2,345.5 1511.6,334.1 1511.9,345.9 1512.2,343.7 1512.5,346.4 1512.8,344.6 1513.2,346.7 1513.5,348.0 1513.8,354.6 1514.1,343.1 1514.4,358.0 1514.8,345.7 1515.1,342.8 1515.4,337.1 1515.7,350.6 1516.0,340.0 1516.4,350.8 1516.7,348.2 1517.0,344.2 1517.3,343.7 1517.6,348.9 1518.0,347.4 1518.3,350.0 1518.6,346.7 1518.9,343.3 1519.2,350.3 1519.6,341.3 1519.9,350.4 1520.2,346.9 1520.5,341.7 1520.8,342.1 1521.2,345.2 1521.5,334.5 1521.8,352.8 1522.1,350.9 1522.4,341.7 1522.8,346.1 1523.1,354.2 1523.4,349.3 1523.7,342.1 1524.0,337.0 1524.4,339.3 1524.7,351.9 1525.0,348.0 1525.3,340.7 1525.6,349.7 1526.0,344.9 1526.3,342.1 1526.6,344.2 1526.9,344.5 1527.2,354.0 1527.6,342.3 1527.9,344.7 1528.2,352.5 1528.5,353.3 1528.8,339.9 1529.2,355.8 1529.5,351.5 1529.8,339.8 1530.1,354.6 1530.4,339.8 1530.8,349.6 1531.1,341.3 1531.4,338.5 1531.7,350.3 1532.0,348.4 1532.4,346.1 1532.7,347.3 1533.0,346.0 1533.3,345.3 1533.6,341.6 1534.0,349.1 1534.3,346.5 1534.6,345.3 1534.9,343.8 1535.2,345.1 1535.6,339.5 1535.9,345.0 1536.2,341.9 1536.5,352.2 1536.8,342.0 1537.2,344.3 1537.5,346.4 1537.8,349.9 1538.1,348.4 1538.4,346.4 1538.8,356.1 1539.1,346.2 1539.4,347.7 1539.7,358.6 1540.0,342.2 1540.4,350.6 1540.7,348.3 1541.0,340.3 1541.3,343.4 1541.6,351.9 1542.0,339.6 1542.3,345.3 1542.6,350.4 1542.9,345.1 1543.2,347.4 1543.6,343.1 1543.9,343.3 1544.2,343.3 1544.5,344.5 1544.8,349.0 1545.2,346.4 1545.5,355.0 1545.8,348.5 1546.1,347.3 1546.4,356.2 1546.8,345.5 1547.1,342.3 1547.4,346.7 1547.7,341.0 1548.0,348.3 1548.4,352.1 1548.7,348.8 1549.0,344.0 1549.3,345.2 1549.6,348.0 1550.0,351.2 1550.3,344.0 1550.6,343.9 1550.9,350.7 1551.2,346.7 1551.6,347.3 1551.9,347.9 1552.2,342.1 1552.5,345.0 1552.8,350.5 1553.2,344.9 1553.5,344.7 1553.8,346.9 1554.1,347.3 1554.4,362.9 1554.8,341.8 1555.1,346.1 1555.4,354.6 1555.7,345.5 1556.0,347.1 1556.4,338.6 1556.7,349.7 1557.0,349.2 1557.3,348.9 1557.6,344.3 1558.0,346.8 1558.3,344.7 1558.6,348.9 1558.9,344.9 1559.2,348.5 1559.6,338.7 1559.9,343.2 1560.2,331.6 1560.5,343.9 1560.8,348.1 1561.2,343.2 1561.5,355.2 1561.8,339.7 1562.1,342.6 1562.4,339.7 1562.8,341.6 1563.1,341.6 1563.4,336.8 1563.7,338.9 1564.0,352.7 1564.4,341.9 1564.7,347.2 1565.0,333.9 1565.3,341.9 1565.6,344.7 1566.0,341.2 1566.3,339.3 1566.6,340.5 1566.9,341.2 1567.2,344.6 1567.6,346.0 1567.9,330.6 1568.2,329.7 1568.5,338.0 1568.8,338.5 1569.2,341.3 1569.5,342.4 1569.8,333.5 1570.1,350.8 1570.4,336.6 1570.8,326.2 1571.1,338.5 1571.4,334.4 1571.7,333.6 1572.0,323.7 1572.4,329.0 1572.7,330.3 1573.0,327.8 1573.3,330.9 1573.6,332.7 1574.0,336.7 1574.3,330.6 1574.6,322.3 1574.9,330.8 1575.2,322.6 1575.6,324.4 1575.9,318.0 1576.2,311.2 1576.5,305.9 1576.8,317.6 1577.2,311.9 1577.5,314.4 1577.8,320.4 1578.1,305.3 1578.4,303.6 1578.8,313.2 1579.1,313.3 1579.4,309.9 1579.7,308.5 1580.0,299.2 1580.4,310.8 1580.7,307.8 1581.0,314.0 1581.3,317.0 1581.6,310.1 1582.0,315.6 1582.3,315.2 1582.6,318.6 1582.9,323.6 1583.2,321.9 1583.6,321.5 1583.9,322.9 1584.2,317.9 1584.5,321.1 1584.8,323.9 1585.2,329.3 1585.5,330.6 1585.8,336.5 1586.1,321.1 1586.4,327.1 1586.8,320.0 1587.1,326.8 1587.4,322.3 1587.7,339.7 1588.0,335.7 1588.4,327.7 1588.7,335.3 1589.0,338.0 1589.3,343.5 1589.6,339.8 1590.0,337.1 1590.3,336.7 1590.6,340.7 1590.9,339.7 1591.2,336.5 1591.6,333.5 1591.9,344.7 1592.2,336.7 1592.5,339.2 1592.8,344.6 1593.2,340.9 1593.5,346.8 1593.8,336.6 1594.1,345.6 1594.4,336.1 1594.8,335.5 1595.1,337.9 1595.4,343.5 1595.7,340.0 1596.0,336.9 1596.4,349.0 1596.7,339.1 1597.0,343.2 1597.3,345.0 1597.6,341.7 1598.0,345.7 1598.3,347.0 1598.6,343.8 1598.9,349.1 1599.2,341.7 1599.6,339.6 1599.9,345.5 1600.2,340.1 1600.5,346.4 1600.8,344.2 1601.2,342.6 1601.5,347.5 1601.8,348.6 1602.1,331.8 1602.4,343.5 1602.8,345.6 1603.1,347.3 1603.4,342.6 1603.7,339.9 1604.0,345.7 1604.4,348.3 1604.7,335.8 1605.0,338.4 1605.3,342.6 1605.6,333.5 1606.0,342.6 1606.3,349.1 1606.6,340.5 1606.9,346.1 1607.2,341.4 1607.6,347.4 1607.9,348.5 1608.2,351.5 1608.5,345.9 1608.8,350.4 1609.2,347.4 1609.5,343.5 1609.8,352.4 1610.1,342.9 1610.4,346.5 1610.8,356.9 1611.1,349.7 1611.4,340.1 1611.7,347.1 1612.0,343.2 1612.4,345.1 1612.7,338.9 1613.0,346.8 1613.3,338.8 1613.6,347.5 1614.0,347.6 1614.3,349.7 1614.6,356.1 1614.9,338.4 1615.2,337.8 1615.6,341.4 1615.9,343.4 1616.2,350.0 1616.5,344.4 1616.8,343.3 1617.2,340.9 1617.5,343.1 1617.8,344.0 1618.1,345.6 1618.4,339.5 1618.8,345.7 1619.1,348.7 1619.4,347.7 1619.7,340.4 1620.0,349.8 1620.4,349.8 1620.7,347.5 1621.0,340.5 1621.3,339.4 1621.6,346.3 1622.0,341.5 1622.3,340.1 1622.6,350.2 1622.9,350.3 1623.2,349.1 1623.6,355.2 1623.9,350.3 1624.2,341.0 1624.5,351.5 1624.8,346.8 1625.2,348.3 1625.5,353.4 1625.8,348.3 1626.1,353.4 1626.4,346.5 1626.8,344.6 1627.1,343.1 1627.4,345.7 1627.7,338.7 1628.0,346.0 1628.4,345.8 1628.7,343.9 1629.0,336.2 1629.3,336.6 1629.6,349.6 1630.0,342.0 1630.3,352.6 1630.6,343.1 1630.9,348.0 1631.2,339.8 1631.6,343.5 1631.9,345.4 1632.2,349.1 1632.5,354.1 1632.8,350.8 1633.2,339.8 1633.5,346.5 1633.8,345.7 1634.1,343.6 1634.4,349.1 1634.8,353.6 1635.1,344.4 1635.4,351.6 1635.7,356.0 1636.0,341.7 1636.4,354.6 1636.7,354.2 1637.0,347.9 1637.3,354.3 1637.6,347.7 1638.0,351.8 1638.3,349.5 1638.6,342.6 1638.9,347.7 1639.2,345.8 1639.6,344.3 1639.9,338.7 1640.2,343.0 1640.5,341.0 1640.8,351.7 1641.2,337.7 1641.5,346.9 1641.8,343.8 1642.1,340.9 1642.4,349.9 1642.8,343.0 1643.1,352.1 1643.4,345.8 1643.7,348.1 1644.0,346.0 1644.4,349.6 1644.7,350.9 1645.0,344.6 1645.3,346.6 1645.6,354.6 1646.0,344.0 1646.3,354.9 1646.6,344.9 1646.9,344.1 1647.2,339.0 1647.6,340.9 1647.9,338.8 1648.2,344.1 1648.5,349.8 1648.8,346.4 1649.2,343.9 1649.5,342.0 1649.8,343.6 1650.1,336.8 1650.4,340.9 1650.8,355.5 1651.1,347.8 1651.4,342.5 1651.7,349.8 1652.0,353.5 1652.4,343.8 1652.7,346.2 1653.0,341.0 1653.3,339.5 1653.6,353.0 1654.0,359.8 1654.3,341.7 1654.6,339.4 1654.9,353.2 1655.2,351.5 1655.6,348.9 1655.9,353.4 1656.2,345.2 1656.5,348.0 1656.8,350.4 1657.2,345.3 1657.5,348.9 1657.8,345.7 1658.1,348.8 1658.4,347.5 1658.8,337.8 1659.1,347.2 1659.4,337.1 1659.7,342.9 1660.0,339.2 1660.4,350.5 1660.7,345.3 1661.0,345.1 1661.3,352.5 1661.6,350.0 1662.0,345.8 1662.3,337.4 1662.6,349.8 1662.9,345.0 1663.2,345.2 1663.6,350.2 1663.9,344.0 1664.2,346.5 1664.5,350.9 1664.8,349.4 1665.2,344.1 1665.5,353.4 1665.8,352.1 1666.1,355.4 1666.4,346.6 1666.8,347.8 1667.1,351.6 1667.4,348.9 1667.7,347.5 1668.0,346.4 1668.4,345.5 1668.7,343.9 1669.0,344.0 1669.3,348.7 1669.6,345.5 1670.0,340.5 1670.3,347.2 1670.6,354.4 1670.9,353.1 1671.2,337.8 1671.6,343.1 1671.9,350.5 1672.2,347.3 1672.5,347.3 1672.8,346.4 1673.2,347.2 1673.5,342.4 1673.8,352.3 1674.1,342.2 1674.4,346.3 1674.8,353.9 1675.1,351.9 1675.4,346.9 1675.7,347.0 1676.0,344.3 1676.4,344.7 1676.7,345.9 1677.0,356.1 1677.3,345.1 1677.6,349.6 1678.0,349.0 1678.3,348.9 1678.6,345.2 1678.9,350.4 1679.2,347.8 1679.6,347.5 1679.9,344.9 1680.2,337.4 1680.5,350.4 1680.8,350.5 1681.2,344.8 1681.5,346.3 1681.8,348.4 1682.1,342.7 1682.4,352.0 1682.8,350.3 1683.1,352.9 1683.4,351.3 1683.7,338.6 1684.0,349.5 1684.4,345.2 1684.7,352.2 1685.0,351.9 1685.3,350.8 1685.6,346.8 1686.0,359.8 1686.3,346.9 1686.6,342.5 1686.9,353.8 1687.2,340.7 1687.6,360.3 1687.9,351.8 1688.2,353.2 1688.5,351.9 1688.8,349.1 1689.2,341.3 1689.5,344.6 1689.8,349.8 1690.1,346.4 1690.4,349.0 1690.8,344.2 1691.1,343.8 1691.4,348.6 1691.7,350.6 1692.0,347.3 1692.4,342.9 1692.7,339.8 1693.0,356.4 1693.3,342.2 1693.6,343.4 1694.0,342.5 1694.3,353.4 1694.6,343.9 1694.9,349.7 1695.2,348.6 1695.6,342.2 1695.9,348.0 1696.2,341.8 1696.5,346.6 1696.8,350.6 1697.2,346.2 1697.5,343.2 1697.8,345.4 1698.1,346.4 1698.4,348.8 1698.8,337.0 1699.1,339.0 1699.4,349.4 1699.7,346.5 1700.0,347.3 1700.4,348.2 1700.7,346.5 1701.0,345.2 1701.3,347.7 1701.6,350.2 1702.0,348.7 1702.3,347.3 1702.6,342.5 1702.9,348.2 1703.2,342.0 1703.6,344.2 1703.9,347.9 1704.2,347.7 1704.5,352.1 1704.8,351.1 1705.2,349.4 1705.5,345.8 1705.8,347.1 1706.1,346.1 1706.4,355.0 1706.8,349.3 1707.1,344.3 1707.4,343.4 1707.7,352.8 1708.0,343.3 1708.4,348.9 1708.7,348.4 1709.0,352.0 1709.3,343.3 1709.6,349.3 1710.0,348.2 1710.3,350.8 1710.6,353.3 1710.9,347.7 1711.2,346.3 1711.6,351.2 1711.9,341.0 1712.2,348.1 1712.5,342.9 1712.8,341.9 1713.2,340.2 1713.5,339.9 1713.8,351.0 1714.1,353.2 1714.4,347.8 1714.8,351.9 1715.1,347.5 1715.4,345.1 1715.7,342.5 1716.0,350.8 1716.4,351.0 1716.7,353.0 1717.0,343.8 1717.3,346.1 1717.6,341.3 1718.0,352.5 1718.3,350.5 1718.6,349.7 1718.9,347.3 1719.2,346.7 1719.6,345.8 1719.9,352.3 1720.2,344.6"/>
<g fill="none" stroke="#000" stroke-width="1.2" stroke-linejoin="miter" shape-rendering="crispEdges">
<polygon points="630.5,572.5 634.4,584.5 647.0,584.5 636.8,591.9 640.7,603.8 630.5,596.5 620.3,603.8 624.2,591.9 614.0,584.5 626.6,584.5"/>
<polygon points="710.3,425.5 714.2,437.5 726.8,437.5 716.6,444.9 720.5,456.8 710.3,449.5 700.1,456.8 704.0,444.9 693.8,437.5 706.4,437.5"/>
<polygon points="787.3,644.5 791.2,656.5 803.8,656.5 793.6,663.9 797.5,675.8 787.3,668.5 777.1,675.8 781.0,663.9 770.8,656.5 783.4,656.5"/>
<polygon points="942.3,417.5 946.2,429.5 958.8,429.5 948.6,436.9 952.5,448.8 942.3,441.5 932.1,448.8 936.0,436.9 925.8,429.5 938.4,429.5"/>
<polygon points="1240.4,629.5 1244.3,641.5 1256.9,641.5 1246.7,648.9 1250.6,660.8 1240.4,653.5 1230.2,660.8 1234.1,648.9 1223.9,641.5 1236.5,641.5"/>
<polygon points="1288.5,670.5 1292.4,682.5 1305.0,682.5 1294.8,689.9 1298.7,701.8 1288.5,694.5 1278.3,701.8 1282.2,689.9 1272.0,682.5 1284.6,682.5"/>
<polygon points="1412.7,626.5 1416.6,638.5 1429.2,638.5 1419.0,645.9 1422.9,657.8 1412.7,650.5 1402.5,657.8 1406.4,645.9 1396.2,638.5 1408.8,638.5"/>
<polygon points="1455.5,655.1 1459.2,666.5 1471.2,666.5 1461.5,673.5 1465.2,684.9 1455.5,677.9 1445.8,684.9 1449.5,673.5 1439.8,666.5 1451.8,666.5"/>
<polygon points="1497.6,630.5 1501.5,642.5 1514.1,642.5 1503.9,649.9 1507.8,661.8 1497.6,654.5 1487.4,661.8 1491.3,649.9 1481.1,642.5 1493.7,642.5"/>
<polygon points="1622.4,644.5 1626.3,656.5 1638.9,656.5 1628.7,663.9 1632.6,675.8 1622.4,668.5 1612.2,675.8 1616.1,663.9 1605.9,656.5 1618.5,656.5"/>
<polygon points="616.3,956.5 620.2,968.5 632.8,968.5 622.6,975.9 626.5,987.8 616.3,980.5 606.1,987.8 610.0,975.9 599.8,968.5 612.4,968.5"/>
<polygon points="701.3,748.5 705.2,760.5 717.8,760.5 707.6,767.9 711.5,779.8 701.3,772.5 691.1,779.8 695.0,767.9 684.8,760.5 697.4,760.5"/>
<polygon points="784.3,1114.5 788.2,1126.5 800.8,1126.5 790.6,1133.9 794.5,1145.8 784.3,1138.5 774.1,1145.8 778.0,1133.9 767.8,1126.5 780.4,1126.5"/>
<polygon points="937.6,792.5 941.5,804.5 954.1,804.5 943.9,811.9 947.8,823.8 937.6,816.5 927.4,823.8 931.3,811.9 921.1,804.5 933.7,804.5"/>
<polygon points="1237.6,1105.5 1241.5,1117.5 1254.1,1117.5 1243.9,1124.9 1247.8,1136.8 1237.6,1129.5 1227.4,1136.8 1231.3,1124.9 1221.1,1117.5 1233.7,1117.5"/>
<polygon points="1271.4,1138.5 1275.3,1150.5 1287.9,1150.5 1277.7,1157.9 1281.6,1169.8 1271.4,1162.5 1261.2,1169.8 1265.1,1157.9 1254.9,1150.5 1267.5,1150.5"/>
<polygon points="1407.5,1087.5 1411.4,1099.5 1424.0,1099.5 1413.8,1106.9 1417.7,1118.8 1407.5,1111.5 1397.3,1118.8 1401.2,1106.9 1391.0,1099.5 1403.6,1099.5"/>
<polygon points="1442.4,1122.5 1446.3,1134.5 1458.9,1134.5 1448.7,1141.9 1452.6,1153.8 1442.4,1146.5 1432.2,1153.8 1436.1,1141.9 1425.9,1134.5 1438.5,1134.5"/>
<polygon points="1476.4,1092.5 1480.3,1104.5 1492.9,1104.5 1482.7,1111.9 1486.6,1123.8 1476.4,1116.5 1466.2,1123.8 1470.1,1111.9 1459.9,1104.5 1472.5,1104.5"/>
<polygon points="1615.5,1127.5 1619.4,1139.5 1632.0,1139.5 1621.8,1146.9 1625.7,1158.8 1615.5,1151.5 1605.3,1158.8 1609.2,1146.9 1599.0,1139.5 1611.6,1139.5"/>
</g>
<g fill="none" stroke="#000" stroke-width="1.7" shape-rendering="crispEdges">
<circle cx="682.5" cy="674" r="14.3"/>
<circle cx="752.3" cy="690" r="14.3"/>
<circle cx="1020.2" cy="694.2" r="14.3"/>
<circle cx="1358.4" cy="683.8" r="14.3"/>
<circle cx="667.3" cy="1171.9" r="14.3"/>
<circle cx="744.2" cy="1168" r="14.3"/>
<circle cx="1025.5" cy="1170" r="14.3"/>
<circle cx="1353.4" cy="1164" r="14.3"/>
<rect x="550.1" y="679.1" width="19.8" height="19.8"/>
<rect x="660.4" y="706.3" width="19.8" height="19.8"/>
<rect x="1055.2" y="691.1" width="19.8" height="19.8"/>
<polygon stroke-width="1.4" points="1197.3,677.9 1213.0,706.0 1181.5,706.0"/>
<polygon stroke-width="1.4" points="1192.4,1167.9 1208.2,1196.0 1176.7,1196.0"/>
</g>
<g fill="#000">
<polygon points="871.8,101 885.8,114.8 871.8,128.6 857.8,114.8"/>
<polygon points="1248.6,270.7 1264.2,298 1233.8,298"/>
<polygon points="1537.8,303.3 1563,303.3 1550.4,328"/>
<polygon points="1751.5,983 1759.5,983 1755.5,991"/>
</g>
<g stroke="#000" stroke-width="5.4" fill="none">
<line x1="118.7" y1="1326.5" x2="1816.1" y2="1326.5"/>
<line x1="121.4" y1="1326.5" x2="121.4" y2="1338.8"/>
<line x1="215.4" y1="1326.5" x2="215.4" y2="1350.5"/>
<line x1="309.4" y1="1326.5" x2="309.4" y2="1338.8"/>
<line x1="403.4" y1="1326.5" x2="403.4" y2="1350.5"/>
<line x1="497.4" y1="1326.5" x2="497.4" y2="1338.8"/>
<line x1="591.4" y1="1326.5" x2="591.4" y2="1350.5"/>
<line x1="685.4" y1="1326.5" x2="685.4" y2="1338.8"/>
<line x1="779.4" y1="1326.5" x2="779.4" y2="1350.5"/>
<line x1="873.4" y1="1326.5" x2="873.4" y2="1338.8"/>
<line x1="967.4" y1="1326.5" x2="967.4" y2="1350.5"/>
<line x1="1061.4" y1="1326.5" x2="1061.4" y2="1338.8"/>
<line x1="1155.4" y1="1326.5" x2="1155.4" y2="1350.5"/>
<line x1="1249.4" y1="1326.5" x2="1249.4" y2="1338.8"/>
<line x1="1343.4" y1="1326.5" x2="1343.4" y2="1350.5"/>
<line x1="1437.4" y1="1326.5" x2="1437.4" y2="1338.8"/>
<line x1="1531.4" y1="1326.5" x2="1531.4" y2="1350.5"/>
<line x1="1625.4" y1="1326.5" x2="1625.4" y2="1338.8"/>
<line x1="1719.4" y1="1326.5" x2="1719.4" y2="1350.5"/>
<line x1="1813.4" y1="1326.5" x2="1813.4" y2="1338.8"/>
</g>
<g font-size="51.5" text-anchor="middle">
<text x="215.8" y="1406.2">10</text>
<text x="403.8" y="1406.2">20</text>
<text x="591.8" y="1406.2">30</text>
<text x="779.8" y="1406.2">40</text>
<text x="967.8" y="1406.2">50</text>
<text x="1155.8" y="1406.2">60</text>
<text x="1343.8" y="1406.2">70</text>
<text x="1531.8" y="1406.2">80</text>
<text x="1719.8" y="1406.2">90</text>
</g>
<text x="967.3" y="1509" font-size="66" text-anchor="middle">2θ (°)</text>
<text transform="translate(89.8,701.3) rotate(-90)" font-size="66" text-anchor="middle">(a.U)</text>
<rect x="1486" y="42" width="433.2" height="246.8" fill="#fff" stroke="#000" stroke-width="1.9"/>
<line x1="1494" y1="85.8" x2="1639" y2="85.8" stroke="#1b6bdb" stroke-width="2"/>
<line x1="1494" y1="165.8" x2="1639" y2="165.8" stroke="#555555" stroke-width="2"/>
<line x1="1494" y1="244.8" x2="1639" y2="244.8" stroke="#ec3e40" stroke-width="2"/>
<g font-size="65">
<text x="1655" y="107.7">Sample A</text>
<text x="1655" y="187.8">Sample B</text>
<text x="1655" y="266.5">Sample C</text>
</g>
<rect x="1719" y="441.8" width="201.1" height="541" fill="#fff" stroke="#000" stroke-width="1.9"/>
<g fill="none" stroke="#000" stroke-width="1.2" shape-rendering="crispEdges">
<polygon points="1745.0,472.3 1748.3,483.4 1759.1,483.4 1750.4,490.3 1753.7,501.5 1745.0,494.6 1736.3,501.5 1739.6,490.3 1730.9,483.4 1741.7,483.4"/>
<polygon points="1745,545.2 1759.2,570.4 1730.8,570.4"/>
<circle cx="1745" cy="627.7" r="12.8"/>
<rect x="1737" y="703.6" width="17.4" height="17.4"/>
</g>
<g fill="#000">
<polygon points="1742.7,781.7 1755.5,794.2 1742.7,806.7 1730,794.2"/>
<polygon points="1743.2,853.8 1756.5,877.9 1730,877.9"/>
<polygon points="1730.5,940 1754,940 1742.2,962.5"/>
</g>
<g font-size="57.6">
<text x="1782.6" y="499.8">WC</text>
<text x="1781.5" y="571">γ-Co</text>
<text x="1782.6" y="640.6">W<tspan dy="10.2" dx="-1.5">2</tspan><tspan dy="-10.2" dx="0.5">C</tspan></text>
<text x="1780" y="723">CeO<tspan dy="11">2</tspan></text>
<text x="1788" y="806.2">α-Fe</text>
<text x="1781.6" y="878.2">Fe<tspan dy="13.8" dx="2" font-size="37">3</tspan><tspan dy="-13.8" dx="2.5">C</tspan></text>
<text x="1787.3" y="962">FeSi</text>
</g>
</svg>
</body></html>
